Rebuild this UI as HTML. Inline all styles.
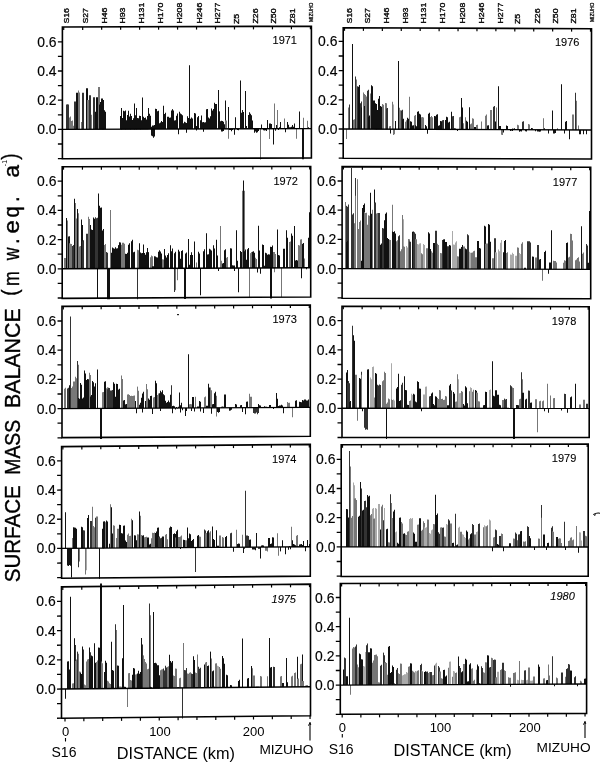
<!DOCTYPE html>
<html><head><meta charset="utf-8"><style>
html,body{margin:0;padding:0;background:#fff;width:600px;height:762px;overflow:hidden}
svg{display:block;will-change:transform}
text{font-family:"Liberation Sans",sans-serif}
</style></head><body>
<svg width="600" height="762" viewBox="0 0 600 762">
<rect width="600" height="762" fill="#fff"/>
<g transform="matrix(1,-0.00321,0,1,62.40,129.40)">
<rect x="3.6" y="-24.97" width="2" height="24.97" fill="#333"/>
<rect x="4.6" y="-24.82" width="2" height="24.82" fill="#333"/>
<rect x="6.6" y="-11.88" width="1" height="11.88" fill="#777"/>
<rect x="7.6" y="-12.92" width="1" height="12.92" fill="#777"/>
<rect x="7.6" y="-9.15" width="1" height="9.15" fill="#777"/>
<rect x="8.6" y="-8.4" width="1" height="8.4" fill="#777"/>
<rect x="9.6" y="-8.75" width="1" height="8.75" fill="#777"/>
<rect x="10.6" y="-3.58" width="1" height="3.58" fill="#777"/>
<rect x="11.6" y="-3.87" width="1" height="3.87" fill="#777"/>
<rect x="11.6" y="-27.74" width="2" height="27.74" fill="#333"/>
<rect x="13.6" y="-36.5" width="2" height="36.5" fill="#111"/>
<rect x="15.6" y="-38.8" width="1" height="38.8" fill="#777"/>
<rect x="16.6" y="-36.77" width="1" height="36.77" fill="#777"/>
<rect x="18.6" y="-7.3" width="1" height="7.3" fill="#777"/>
<rect x="19.6" y="-36.65" width="2" height="36.65" fill="#333"/>
<rect x="23.6" y="-41.17" width="2" height="41.17" fill="#111"/>
<rect x="24.6" y="-29.2" width="2" height="29.2" fill="#777"/>
<rect x="26.6" y="-34.02" width="2" height="34.02" fill="#333"/>
<rect x="28.6" y="-14.6" width="1" height="14.6" fill="#777"/>
<rect x="30.6" y="-18.98" width="1" height="18.98" fill="#111"/>
<rect x="30.6" y="-32.12" width="2" height="32.12" fill="#333"/>
<rect x="32.6" y="-17.52" width="1" height="17.52" fill="#111"/>
<rect x="33.6" y="-32.12" width="2" height="32.12" fill="#111"/>
<rect x="35.6" y="-42.34" width="2" height="42.34" fill="#777"/>
<rect x="36.6" y="-24.9" width="1" height="24.9" fill="#111"/>
<rect x="37.6" y="-27.26" width="1" height="27.26" fill="#111"/>
<rect x="38.6" y="-30.66" width="2" height="30.66" fill="#111"/>
<rect x="39.6" y="-29.2" width="2" height="29.2" fill="#111"/>
<rect x="40.6" y="-18.4" width="1" height="18.4" fill="#111"/>
<rect x="41.6" y="-19.08" width="1" height="19.08" fill="#111"/>
<rect x="42.6" y="-17.52" width="1" height="17.52" fill="#111"/>
<rect x="57.6" y="-13.31" width="1" height="13.31" fill="#111"/>
<rect x="58.6" y="-16.13" width="1" height="16.13" fill="#111"/>
<rect x="59.6" y="-11.1" width="1" height="11.1" fill="#111"/>
<rect x="60.6" y="-18.42" width="1" height="18.42" fill="#111"/>
<rect x="61.6" y="-17.97" width="1" height="17.97" fill="#111"/>
<rect x="62.6" y="-9.07" width="1" height="9.07" fill="#111"/>
<rect x="63.6" y="-9.02" width="1" height="9.02" fill="#111"/>
<rect x="64.6" y="-14.29" width="1" height="14.29" fill="#111"/>
<rect x="65.6" y="-18.36" width="1" height="18.36" fill="#111"/>
<rect x="66.6" y="-12.66" width="1" height="12.66" fill="#111"/>
<rect x="67.6" y="-10.97" width="1" height="10.97" fill="#111"/>
<rect x="68.6" y="-13.07" width="1" height="13.07" fill="#111"/>
<rect x="69.6" y="-9.06" width="1" height="9.06" fill="#111"/>
<rect x="70.6" y="-11.03" width="1" height="11.03" fill="#111"/>
<rect x="71.6" y="-13.24" width="1" height="13.24" fill="#111"/>
<rect x="72.6" y="-13.83" width="1" height="13.83" fill="#111"/>
<rect x="73.6" y="-11.14" width="1" height="11.14" fill="#111"/>
<rect x="74.6" y="-11.12" width="1" height="11.12" fill="#111"/>
<rect x="75.6" y="-11" width="1" height="11" fill="#111"/>
<rect x="76.6" y="-13.46" width="1" height="13.46" fill="#111"/>
<rect x="77.6" y="-11.72" width="1" height="11.72" fill="#111"/>
<rect x="78.6" y="-8.98" width="1" height="8.98" fill="#111"/>
<rect x="58.6" y="-21.17" width="1" height="21.17" fill="#111"/>
<rect x="62.6" y="-18.69" width="1" height="18.69" fill="#111"/>
<rect x="67.6" y="-15.33" width="1" height="15.33" fill="#111"/>
<rect x="71.6" y="-25.7" width="1" height="25.7" fill="#111"/>
<rect x="73.6" y="-21.17" width="1" height="21.17" fill="#111"/>
<rect x="77.6" y="-13.14" width="1" height="13.14" fill="#111"/>
<rect x="79.6" y="-31.54" width="1" height="31.54" fill="#111"/>
<rect x="80.6" y="-12.43" width="1" height="12.43" fill="#111"/>
<rect x="81.6" y="-11.2" width="1" height="11.2" fill="#111"/>
<rect x="82.6" y="-11.57" width="1" height="11.57" fill="#111"/>
<rect x="83.6" y="-9.57" width="1" height="9.57" fill="#111"/>
<rect x="84.6" y="-13.11" width="1" height="13.11" fill="#111"/>
<rect x="85.6" y="-21.02" width="1" height="21.02" fill="#111"/>
<rect x="86.6" y="-15.4" width="1" height="15.4" fill="#111"/>
<rect x="87.6" y="-13.46" width="1" height="13.46" fill="#111"/>
<rect x="88.6" y="-2.43" width="1" height="2.43" fill="#111"/>
<rect x="89.6" y="-3.57" width="1" height="3.57" fill="#111"/>
<rect x="90.6" y="-3.54" width="1" height="3.54" fill="#111"/>
<rect x="91.6" y="-4.19" width="1" height="4.19" fill="#111"/>
<rect x="92.6" y="-2.69" width="1" height="2.69" fill="#111"/>
<rect x="88.6" y="0" width="1" height="6.51" fill="#111"/>
<rect x="89.6" y="0" width="1" height="7.14" fill="#111"/>
<rect x="90.6" y="0" width="1" height="8.59" fill="#111"/>
<rect x="91.6" y="0" width="1" height="7.47" fill="#111"/>
<rect x="92.6" y="-20.27" width="1" height="20.27" fill="#111"/>
<rect x="93.6" y="-20.04" width="1" height="20.04" fill="#111"/>
<rect x="94.6" y="-17.85" width="1" height="17.85" fill="#111"/>
<rect x="95.6" y="-18.38" width="1" height="18.38" fill="#111"/>
<rect x="96.6" y="-5.94" width="1" height="5.94" fill="#111"/>
<rect x="97.6" y="-6.55" width="1" height="6.55" fill="#111"/>
<rect x="98.6" y="-8.17" width="1" height="8.17" fill="#111"/>
<rect x="99.6" y="-7.05" width="1" height="7.05" fill="#111"/>
<rect x="100.6" y="-23.36" width="1" height="23.36" fill="#111"/>
<rect x="101.6" y="-15.11" width="1" height="15.11" fill="#111"/>
<rect x="102.6" y="-16.2" width="1" height="16.2" fill="#111"/>
<rect x="104.6" y="-12.27" width="1" height="12.27" fill="#111"/>
<rect x="105.6" y="-12.19" width="1" height="12.19" fill="#111"/>
<rect x="106.6" y="-11.31" width="1" height="11.31" fill="#111"/>
<rect x="107.6" y="-11.5" width="1" height="11.5" fill="#111"/>
<rect x="108.6" y="-18.58" width="1" height="18.58" fill="#111"/>
<rect x="109.6" y="-19.92" width="1" height="19.92" fill="#111"/>
<rect x="110.6" y="-18.65" width="1" height="18.65" fill="#111"/>
<rect x="111.6" y="-8.45" width="1" height="8.45" fill="#111"/>
<rect x="112.6" y="-8.73" width="1" height="8.73" fill="#111"/>
<rect x="113.6" y="-7.39" width="1" height="7.39" fill="#111"/>
<rect x="113.6" y="-13.29" width="1" height="13.29" fill="#111"/>
<rect x="114.6" y="-15.5" width="1" height="15.5" fill="#111"/>
<rect x="115.6" y="0" width="1" height="5.26" fill="#111"/>
<rect x="116.6" y="-17.16" width="1" height="17.16" fill="#111"/>
<rect x="117.6" y="-15.56" width="1" height="15.56" fill="#111"/>
<rect x="118.6" y="-14.75" width="1" height="14.75" fill="#111"/>
<rect x="119.6" y="-13.84" width="1" height="13.84" fill="#111"/>
<rect x="120.6" y="-5.85" width="1" height="5.85" fill="#111"/>
<rect x="121.6" y="-7.25" width="1" height="7.25" fill="#111"/>
<rect x="122.6" y="-6.63" width="1" height="6.63" fill="#111"/>
<rect x="123.6" y="-5.96" width="1" height="5.96" fill="#111"/>
<rect x="123.6" y="0" width="1" height="3.65" fill="#111"/>
<rect x="124.6" y="-12.73" width="1" height="12.73" fill="#111"/>
<rect x="125.6" y="-10.9" width="1" height="10.9" fill="#111"/>
<rect x="126.6" y="-63.8" width="1" height="63.8" fill="#111"/>
<rect x="127.6" y="-10.26" width="1" height="10.26" fill="#111"/>
<rect x="128.6" y="-11.54" width="1" height="11.54" fill="#111"/>
<rect x="129.6" y="-10.45" width="1" height="10.45" fill="#111"/>
<rect x="131.6" y="-15.94" width="1" height="15.94" fill="#111"/>
<rect x="132.6" y="-15.39" width="1" height="15.39" fill="#111"/>
<rect x="133.6" y="-2.92" width="1" height="2.92" fill="#111"/>
<rect x="133.6" y="0" width="1" height="1.46" fill="#111"/>
<rect x="134.6" y="-11.82" width="1" height="11.82" fill="#111"/>
<rect x="135.6" y="-13.01" width="1" height="13.01" fill="#111"/>
<rect x="137.6" y="-8.79" width="1" height="8.79" fill="#111"/>
<rect x="138.6" y="-13.34" width="1" height="13.34" fill="#111"/>
<rect x="140.6" y="0" width="1" height="2.92" fill="#111"/>
<rect x="139.6" y="-6.78" width="1" height="6.78" fill="#111"/>
<rect x="140.6" y="-6.97" width="1" height="6.97" fill="#111"/>
<rect x="141.6" y="-6.54" width="1" height="6.54" fill="#111"/>
<rect x="142.6" y="-6.74" width="1" height="6.74" fill="#111"/>
<rect x="143.6" y="-19.79" width="1" height="19.79" fill="#111"/>
<rect x="144.6" y="-19.98" width="1" height="19.98" fill="#111"/>
<rect x="145.6" y="-11.46" width="1" height="11.46" fill="#111"/>
<rect x="146.6" y="-10.38" width="1" height="10.38" fill="#111"/>
<rect x="147.6" y="-12.76" width="1" height="12.76" fill="#111"/>
<rect x="148.6" y="-20.35" width="1" height="20.35" fill="#111"/>
<rect x="149.6" y="-18.51" width="1" height="18.51" fill="#111"/>
<rect x="150.6" y="-20.03" width="1" height="20.03" fill="#111"/>
<rect x="151.6" y="-26.15" width="1" height="26.15" fill="#111"/>
<rect x="152.6" y="-25.03" width="1" height="25.03" fill="#111"/>
<rect x="153.6" y="-24.93" width="1" height="24.93" fill="#111"/>
<rect x="155.6" y="-38.98" width="1" height="38.98" fill="#111"/>
<rect x="156.6" y="-17.52" width="1" height="17.52" fill="#111"/>
<rect x="157.6" y="-7.52" width="1" height="7.52" fill="#111"/>
<rect x="158.6" y="-8.02" width="1" height="8.02" fill="#111"/>
<rect x="159.6" y="-7.96" width="1" height="7.96" fill="#111"/>
<rect x="160.6" y="-7.06" width="1" height="7.06" fill="#111"/>
<rect x="161.6" y="-4.54" width="1" height="4.54" fill="#111"/>
<rect x="158.6" y="0" width="1" height="2.58" fill="#111"/>
<rect x="159.6" y="0" width="1" height="2.66" fill="#111"/>
<rect x="160.6" y="0" width="1" height="2.07" fill="#111"/>
<rect x="162.6" y="-28.47" width="1" height="28.47" fill="#111"/>
<rect x="162.6" y="-8.56" width="1" height="8.56" fill="#777"/>
<rect x="163.6" y="-8.47" width="1" height="8.47" fill="#777"/>
<rect x="165.6" y="0" width="1" height="9.78" fill="#777"/>
<rect x="165.6" y="-21.9" width="1" height="21.9" fill="#111"/>
<rect x="166.6" y="0" width="1" height="1.17" fill="#111"/>
<rect x="167.6" y="0" width="1" height="1.13" fill="#111"/>
<rect x="168.6" y="0" width="1" height="2.36" fill="#111"/>
<rect x="169.6" y="0" width="1" height="1.08" fill="#111"/>
<rect x="171.6" y="0" width="1" height="5.84" fill="#111"/>
<rect x="172.6" y="-11.68" width="1" height="11.68" fill="#111"/>
<rect x="173.6" y="-0.51" width="1" height="0.51" fill="#111"/>
<rect x="174.6" y="0" width="1" height="1.22" fill="#111"/>
<rect x="175.6" y="0" width="1" height="1.41" fill="#111"/>
<rect x="177.6" y="-48.33" width="1" height="48.33" fill="#111"/>
<rect x="178.6" y="-16.11" width="1" height="16.11" fill="#111"/>
<rect x="179.6" y="-18.71" width="1" height="18.71" fill="#111"/>
<rect x="180.6" y="-16.93" width="1" height="16.93" fill="#111"/>
<rect x="182.6" y="-37.81" width="1" height="37.81" fill="#111"/>
<rect x="183.6" y="-2.92" width="1" height="2.92" fill="#111"/>
<rect x="185.6" y="-13.75" width="1" height="13.75" fill="#111"/>
<rect x="186.6" y="-16.61" width="1" height="16.61" fill="#111"/>
<rect x="187.6" y="-15.05" width="1" height="15.05" fill="#111"/>
<rect x="188.6" y="-13.53" width="1" height="13.53" fill="#111"/>
<rect x="189.6" y="-8.18" width="1" height="8.18" fill="#111"/>
<rect x="191.6" y="0" width="1" height="3.91" fill="#111"/>
<rect x="192.6" y="0" width="1" height="2.84" fill="#111"/>
<rect x="193.6" y="0" width="1" height="3.89" fill="#111"/>
<rect x="194.6" y="0" width="1" height="3.58" fill="#111"/>
<rect x="195.6" y="0" width="1" height="2.3" fill="#111"/>
<rect x="197.6" y="0" width="1" height="30.66" fill="#777"/>
<rect x="198.6" y="-4.38" width="1" height="4.38" fill="#111"/>
<rect x="200.6" y="0" width="1" height="1.53" fill="#111"/>
<rect x="201.6" y="0" width="1" height="1.72" fill="#111"/>
<rect x="202.6" y="0" width="1" height="1.5" fill="#111"/>
<rect x="203.6" y="0" width="1" height="2.16" fill="#111"/>
<rect x="204.6" y="-8.76" width="1" height="8.76" fill="#111"/>
<rect x="206.6" y="0" width="1" height="10.22" fill="#777"/>
<rect x="206.6" y="-5.23" width="1" height="5.23" fill="#111"/>
<rect x="207.6" y="-5.3" width="1" height="5.3" fill="#111"/>
<rect x="208.6" y="-4.79" width="1" height="4.79" fill="#111"/>
<rect x="210.6" y="0" width="1" height="15.77" fill="#111"/>
<rect x="211.6" y="-25.26" width="1" height="25.26" fill="#777"/>
<rect x="212.6" y="0" width="1" height="2.13" fill="#111"/>
<rect x="213.6" y="-3.65" width="1" height="3.65" fill="#111"/>
<rect x="214.6" y="-0.8" width="1" height="0.8" fill="#111"/>
<rect x="215.6" y="0" width="1" height="1.39" fill="#111"/>
<rect x="216.6" y="-1.5" width="1" height="1.5" fill="#111"/>
<rect x="214.6" y="-18.69" width="1" height="18.69" fill="#777"/>
<rect x="217.6" y="-6.72" width="1" height="6.72" fill="#111"/>
<rect x="221.6" y="-10.22" width="1" height="10.22" fill="#777"/>
<rect x="222.6" y="0" width="1" height="3.65" fill="#111"/>
<rect x="224.6" y="-6.72" width="1" height="6.72" fill="#111"/>
<rect x="225.6" y="-3.85" width="1" height="3.85" fill="#111"/>
<rect x="226.6" y="-1.52" width="1" height="1.52" fill="#111"/>
<rect x="227.6" y="-1.51" width="1" height="1.51" fill="#111"/>
<rect x="228.6" y="-1.89" width="1" height="1.89" fill="#111"/>
<rect x="229.6" y="-3.56" width="1" height="3.56" fill="#111"/>
<rect x="230.6" y="-1.93" width="1" height="1.93" fill="#111"/>
<rect x="231.6" y="-3.52" width="1" height="3.52" fill="#111"/>
<rect x="229.6" y="-3.65" width="1" height="3.65" fill="#111"/>
<rect x="231.6" y="-5.11" width="1" height="5.11" fill="#111"/>
<rect x="233.6" y="0" width="1" height="10.22" fill="#777"/>
<rect x="236.6" y="-17.23" width="1" height="17.23" fill="#111"/>
<rect x="239.6" y="0" width="2" height="30.66" fill="#111"/>
<rect x="240.6" y="-10.8" width="1" height="10.8" fill="#777"/>
<rect x="244.6" y="-7.74" width="1" height="7.74" fill="#777"/>
<rect x="245.6" y="-1.46" width="1" height="1.46" fill="#111"/>
<line x1="0" y1="0" x2="249" y2="0" stroke="#000" stroke-width="1.4"/>
<line x1="-4.5" y1="29.2" x2="0" y2="29.2" stroke="#000" stroke-width="1.3"/>
<line x1="-4.5" y1="14.6" x2="0" y2="14.6" stroke="#000" stroke-width="1.3"/>
<line x1="-4.5" y1="0" x2="0" y2="0" stroke="#000" stroke-width="1.3"/>
<line x1="-4.5" y1="-14.6" x2="0" y2="-14.6" stroke="#000" stroke-width="1.3"/>
<line x1="-4.5" y1="-29.2" x2="0" y2="-29.2" stroke="#000" stroke-width="1.3"/>
<line x1="-4.5" y1="-43.8" x2="0" y2="-43.8" stroke="#000" stroke-width="1.3"/>
<line x1="-4.5" y1="-58.4" x2="0" y2="-58.4" stroke="#000" stroke-width="1.3"/>
<line x1="-4.5" y1="-73" x2="0" y2="-73" stroke="#000" stroke-width="1.3"/>
<line x1="-4.5" y1="-87.6" x2="0" y2="-87.6" stroke="#000" stroke-width="1.3"/>
</g>
<path d="M62.4,27 L311.4,26.2 L311.4,157.9 L62.4,158.8 Z" fill="none" stroke="#000" stroke-width="1.6" stroke-linejoin="miter"/>
<line x1="63.7" y1="27" x2="63.7" y2="30" stroke="#000" stroke-width="1.2"/>
<line x1="82.68" y1="26.93" x2="82.68" y2="29.93" stroke="#000" stroke-width="1.2"/>
<line x1="101.65" y1="26.87" x2="101.65" y2="29.87" stroke="#000" stroke-width="1.2"/>
<line x1="120.63" y1="26.81" x2="120.63" y2="29.81" stroke="#000" stroke-width="1.2"/>
<line x1="139.61" y1="26.75" x2="139.61" y2="29.75" stroke="#000" stroke-width="1.2"/>
<line x1="158.58" y1="26.69" x2="158.58" y2="29.69" stroke="#000" stroke-width="1.2"/>
<line x1="177.56" y1="26.63" x2="177.56" y2="29.63" stroke="#000" stroke-width="1.2"/>
<line x1="196.54" y1="26.57" x2="196.54" y2="29.57" stroke="#000" stroke-width="1.2"/>
<line x1="215.52" y1="26.51" x2="215.52" y2="29.51" stroke="#000" stroke-width="1.2"/>
<line x1="234.49" y1="26.45" x2="234.49" y2="29.45" stroke="#000" stroke-width="1.2"/>
<line x1="253.47" y1="26.39" x2="253.47" y2="29.39" stroke="#000" stroke-width="1.2"/>
<line x1="272.45" y1="26.33" x2="272.45" y2="29.33" stroke="#000" stroke-width="1.2"/>
<line x1="291.42" y1="26.26" x2="291.42" y2="29.26" stroke="#000" stroke-width="1.2"/>
<line x1="310.4" y1="26.2" x2="310.4" y2="29.2" stroke="#000" stroke-width="1.2"/>
<text transform="translate(56.6,134.4) scale(1.01,1)" font-size="13.8" text-anchor="end" font-family="Liberation Sans, sans-serif" stroke="#000" stroke-width="0.15">0.0</text>
<text transform="translate(56.6,105.2) scale(1.01,1)" font-size="13.8" text-anchor="end" font-family="Liberation Sans, sans-serif" stroke="#000" stroke-width="0.15">0.2</text>
<text transform="translate(56.6,76) scale(1.01,1)" font-size="13.8" text-anchor="end" font-family="Liberation Sans, sans-serif" stroke="#000" stroke-width="0.15">0.4</text>
<text transform="translate(56.6,46.8) scale(1.01,1)" font-size="13.8" text-anchor="end" font-family="Liberation Sans, sans-serif" stroke="#000" stroke-width="0.15">0.6</text>
<text x="297" y="44.2" font-size="11" text-anchor="end" font-family="Liberation Sans, sans-serif" stroke="#000" stroke-width="0.1">1971</text>
<g transform="matrix(1,-0.00402,0,1,62.20,268.80)">
<rect x="1.8" y="-10.71" width="1" height="10.71" fill="#777"/>
<rect x="2.8" y="-10.7" width="1" height="10.7" fill="#777"/>
<rect x="3.8" y="-50.81" width="1" height="50.81" fill="#111"/>
<rect x="4.8" y="-48.18" width="1" height="48.18" fill="#777"/>
<rect x="5.8" y="-32.37" width="1" height="32.37" fill="#111"/>
<rect x="6.8" y="-32.49" width="1" height="32.49" fill="#111"/>
<rect x="6.8" y="-25.56" width="1" height="25.56" fill="#777"/>
<rect x="7.8" y="-25.12" width="1" height="25.12" fill="#777"/>
<rect x="8.8" y="-24.83" width="1" height="24.83" fill="#777"/>
<rect x="9.8" y="-22.8" width="1" height="22.8" fill="#333"/>
<rect x="10.8" y="-23.67" width="1" height="23.67" fill="#333"/>
<rect x="11.8" y="-70.08" width="1" height="70.08" fill="#111"/>
<rect x="12.8" y="-65.7" width="1" height="65.7" fill="#777"/>
<rect x="12.8" y="-50.31" width="1" height="50.31" fill="#777"/>
<rect x="13.8" y="-50.22" width="1" height="50.22" fill="#777"/>
<rect x="14.8" y="-59.86" width="1" height="59.86" fill="#111"/>
<rect x="15.8" y="-55.48" width="1" height="55.48" fill="#777"/>
<rect x="16.8" y="-22.25" width="1" height="22.25" fill="#777"/>
<rect x="17.8" y="-22.84" width="1" height="22.84" fill="#777"/>
<rect x="18.8" y="-49.2" width="1" height="49.2" fill="#111"/>
<rect x="19.8" y="-43.8" width="1" height="43.8" fill="#111"/>
<rect x="19.8" y="-27.43" width="1" height="27.43" fill="#333"/>
<rect x="20.8" y="-28.39" width="1" height="28.39" fill="#333"/>
<rect x="23.8" y="-35.02" width="1" height="35.02" fill="#333"/>
<rect x="24.8" y="-34.89" width="1" height="34.89" fill="#333"/>
<rect x="25.8" y="-51.98" width="1" height="51.98" fill="#777"/>
<rect x="26.8" y="-49.64" width="1" height="49.64" fill="#777"/>
<rect x="27.8" y="-43.8" width="1" height="43.8" fill="#111"/>
<rect x="28.8" y="-39.28" width="1" height="39.28" fill="#111"/>
<rect x="29.8" y="-38.77" width="1" height="38.77" fill="#111"/>
<rect x="30.8" y="-51.28" width="1" height="51.28" fill="#111"/>
<rect x="31.8" y="-49.86" width="1" height="49.86" fill="#111"/>
<rect x="32.8" y="-49.81" width="1" height="49.81" fill="#111"/>
<rect x="32.8" y="-51.37" width="1" height="51.37" fill="#333"/>
<rect x="33.8" y="-50.37" width="1" height="50.37" fill="#333"/>
<rect x="34.8" y="-50.79" width="1" height="50.79" fill="#333"/>
<rect x="35.8" y="-75.04" width="1" height="75.04" fill="#111"/>
<rect x="35.8" y="-65.7" width="1" height="65.7" fill="#111"/>
<rect x="36.8" y="-62.83" width="1" height="62.83" fill="#111"/>
<rect x="37.8" y="-61.01" width="1" height="61.01" fill="#111"/>
<rect x="38.8" y="-61.18" width="1" height="61.18" fill="#111"/>
<rect x="38.8" y="-39.24" width="1" height="39.24" fill="#111"/>
<rect x="39.8" y="-38.09" width="1" height="38.09" fill="#111"/>
<rect x="40.8" y="-39.72" width="1" height="39.72" fill="#111"/>
<rect x="41.8" y="-23.7" width="1" height="23.7" fill="#777"/>
<rect x="42.8" y="-24.63" width="1" height="24.63" fill="#777"/>
<rect x="43.8" y="-16.64" width="1" height="16.64" fill="#333"/>
<rect x="44.8" y="-15.98" width="1" height="15.98" fill="#333"/>
<rect x="34.8" y="0" width="1" height="29.93" fill="#111"/>
<rect x="44.8" y="0" width="1" height="30.66" fill="#111"/>
<rect x="45.8" y="0" width="1" height="30.66" fill="#111"/>
<rect x="46.8" y="0" width="1" height="30.66" fill="#111"/>
<rect x="47.8" y="-58.69" width="1" height="58.69" fill="#777"/>
<rect x="48.8" y="-15.93" width="1" height="15.93" fill="#111"/>
<rect x="49.8" y="-21.12" width="1" height="21.12" fill="#111"/>
<rect x="50.8" y="-20.42" width="1" height="20.42" fill="#111"/>
<rect x="51.8" y="-19.96" width="1" height="19.96" fill="#111"/>
<rect x="52.8" y="-21.22" width="1" height="21.22" fill="#111"/>
<rect x="53.8" y="-20.17" width="1" height="20.17" fill="#111"/>
<rect x="54.8" y="-20.37" width="1" height="20.37" fill="#111"/>
<rect x="55.8" y="-23.45" width="1" height="23.45" fill="#111"/>
<rect x="56.8" y="-26.2" width="1" height="26.2" fill="#111"/>
<rect x="57.8" y="-26.11" width="1" height="26.11" fill="#111"/>
<rect x="58.8" y="-23.9" width="1" height="23.9" fill="#777"/>
<rect x="59.8" y="-25.89" width="1" height="25.89" fill="#777"/>
<rect x="60.8" y="-25.76" width="1" height="25.76" fill="#777"/>
<rect x="61.8" y="-24.91" width="1" height="24.91" fill="#777"/>
<rect x="62.8" y="-14.69" width="1" height="14.69" fill="#111"/>
<rect x="63.8" y="-14.57" width="1" height="14.57" fill="#111"/>
<rect x="64.8" y="-15.84" width="1" height="15.84" fill="#111"/>
<rect x="65.8" y="-23.87" width="1" height="23.87" fill="#111"/>
<rect x="66.8" y="-25.18" width="1" height="25.18" fill="#111"/>
<rect x="68.8" y="-27.31" width="1" height="27.31" fill="#111"/>
<rect x="69.8" y="-28.86" width="1" height="28.86" fill="#111"/>
<rect x="69.8" y="-18.02" width="1" height="18.02" fill="#111"/>
<rect x="70.8" y="-16.35" width="1" height="16.35" fill="#111"/>
<rect x="71.8" y="-16.76" width="1" height="16.76" fill="#111"/>
<rect x="74.8" y="0" width="1" height="30.66" fill="#333"/>
<rect x="74.8" y="-18.75" width="1" height="18.75" fill="#777"/>
<rect x="75.8" y="-18.17" width="1" height="18.17" fill="#777"/>
<rect x="76.8" y="-25.26" width="1" height="25.26" fill="#111"/>
<rect x="77.8" y="-16.02" width="1" height="16.02" fill="#111"/>
<rect x="78.8" y="-15.25" width="1" height="15.25" fill="#111"/>
<rect x="79.8" y="-15.55" width="1" height="15.55" fill="#111"/>
<rect x="80.8" y="-24.09" width="1" height="24.09" fill="#111"/>
<rect x="81.8" y="-15.59" width="1" height="15.59" fill="#111"/>
<rect x="82.8" y="-13.72" width="1" height="13.72" fill="#111"/>
<rect x="83.8" y="-16.32" width="1" height="16.32" fill="#111"/>
<rect x="84.8" y="-14.08" width="1" height="14.08" fill="#111"/>
<rect x="85.8" y="-16.33" width="1" height="16.33" fill="#111"/>
<rect x="84.8" y="-20.44" width="1" height="20.44" fill="#111"/>
<rect x="87.8" y="-11.12" width="1" height="11.12" fill="#777"/>
<rect x="88.8" y="-13.02" width="1" height="13.02" fill="#777"/>
<rect x="89.8" y="-12.28" width="1" height="12.28" fill="#777"/>
<rect x="89.8" y="-2.2" width="1" height="2.2" fill="#111"/>
<rect x="90.8" y="-2.22" width="1" height="2.22" fill="#111"/>
<rect x="91.8" y="-12.12" width="1" height="12.12" fill="#111"/>
<rect x="92.8" y="-11.94" width="1" height="11.94" fill="#111"/>
<rect x="93.8" y="-11.13" width="1" height="11.13" fill="#111"/>
<rect x="94.8" y="-10.83" width="1" height="10.83" fill="#111"/>
<rect x="95.8" y="-16.54" width="1" height="16.54" fill="#111"/>
<rect x="96.8" y="-18.15" width="1" height="18.15" fill="#111"/>
<rect x="97.8" y="-16.97" width="1" height="16.97" fill="#111"/>
<rect x="98.8" y="-14.89" width="1" height="14.89" fill="#111"/>
<rect x="99.8" y="-9.22" width="1" height="9.22" fill="#777"/>
<rect x="100.8" y="-9" width="1" height="9" fill="#777"/>
<rect x="101.8" y="-19.27" width="1" height="19.27" fill="#111"/>
<rect x="102.8" y="-12.87" width="1" height="12.87" fill="#111"/>
<rect x="103.8" y="-10.78" width="1" height="10.78" fill="#111"/>
<rect x="104.8" y="-12.39" width="1" height="12.39" fill="#111"/>
<rect x="104.8" y="-13.33" width="1" height="13.33" fill="#111"/>
<rect x="105.8" y="-15.24" width="1" height="15.24" fill="#111"/>
<rect x="107.8" y="-23.07" width="1" height="23.07" fill="#111"/>
<rect x="107.8" y="-17.26" width="1" height="17.26" fill="#111"/>
<rect x="108.8" y="-17.05" width="1" height="17.05" fill="#111"/>
<rect x="109.8" y="-19.89" width="1" height="19.89" fill="#111"/>
<rect x="111.8" y="0" width="1" height="23.65" fill="#333"/>
<rect x="112.8" y="0" width="1" height="21.9" fill="#777"/>
<rect x="111.8" y="-15" width="1" height="15" fill="#111"/>
<rect x="112.8" y="-16.58" width="1" height="16.58" fill="#111"/>
<rect x="114.8" y="0" width="1" height="11.97" fill="#777"/>
<rect x="115.8" y="-18.55" width="1" height="18.55" fill="#111"/>
<rect x="116.8" y="-16.77" width="1" height="16.77" fill="#111"/>
<rect x="117.8" y="-9.68" width="1" height="9.68" fill="#111"/>
<rect x="118.8" y="-12.62" width="1" height="12.62" fill="#111"/>
<rect x="118.8" y="-17.29" width="1" height="17.29" fill="#111"/>
<rect x="119.8" y="-18.15" width="1" height="18.15" fill="#111"/>
<rect x="121.8" y="0" width="2" height="30.66" fill="#111"/>
<rect x="122.8" y="-14.71" width="1" height="14.71" fill="#111"/>
<rect x="123.8" y="-15.82" width="1" height="15.82" fill="#111"/>
<rect x="125.8" y="-29.2" width="1" height="29.2" fill="#111"/>
<rect x="126.8" y="-3.42" width="1" height="3.42" fill="#111"/>
<rect x="127.8" y="-4.88" width="1" height="4.88" fill="#111"/>
<rect x="127.8" y="-13.38" width="1" height="13.38" fill="#111"/>
<rect x="128.8" y="-15.93" width="1" height="15.93" fill="#111"/>
<rect x="129.8" y="-13.21" width="1" height="13.21" fill="#111"/>
<rect x="131.8" y="-26.72" width="1" height="26.72" fill="#111"/>
<rect x="133.8" y="-5.84" width="1" height="5.84" fill="#777"/>
<rect x="135.8" y="-16.41" width="1" height="16.41" fill="#111"/>
<rect x="136.8" y="-14.65" width="1" height="14.65" fill="#111"/>
<rect x="137.8" y="0" width="1" height="27.01" fill="#111"/>
<rect x="140.8" y="-16.99" width="1" height="16.99" fill="#111"/>
<rect x="141.8" y="-19.03" width="1" height="19.03" fill="#111"/>
<rect x="143.8" y="-35.04" width="1" height="35.04" fill="#111"/>
<rect x="144.8" y="-13.83" width="1" height="13.83" fill="#111"/>
<rect x="145.8" y="-13.94" width="1" height="13.94" fill="#111"/>
<rect x="146.8" y="-19.54" width="1" height="19.54" fill="#111"/>
<rect x="147.8" y="-18.65" width="1" height="18.65" fill="#111"/>
<rect x="148.8" y="-17.65" width="1" height="17.65" fill="#111"/>
<rect x="150.8" y="-23.03" width="1" height="23.03" fill="#111"/>
<rect x="151.8" y="-19.6" width="1" height="19.6" fill="#111"/>
<rect x="153.8" y="-28.32" width="1" height="28.32" fill="#111"/>
<rect x="153.8" y="-11.79" width="1" height="11.79" fill="#111"/>
<rect x="154.8" y="-12.69" width="1" height="12.69" fill="#111"/>
<rect x="155.8" y="0" width="1" height="2.92" fill="#111"/>
<rect x="157.8" y="-42.19" width="1" height="42.19" fill="#777"/>
<rect x="158.8" y="-7.3" width="1" height="7.3" fill="#777"/>
<rect x="159.8" y="-4.72" width="1" height="4.72" fill="#111"/>
<rect x="160.8" y="-5.09" width="1" height="5.09" fill="#111"/>
<rect x="161.8" y="-17.95" width="1" height="17.95" fill="#111"/>
<rect x="162.8" y="-18.8" width="1" height="18.8" fill="#111"/>
<rect x="163.8" y="-10.28" width="1" height="10.28" fill="#777"/>
<rect x="164.8" y="-11.07" width="1" height="11.07" fill="#777"/>
<rect x="167.8" y="-19.76" width="1" height="19.76" fill="#111"/>
<rect x="168.8" y="-19.68" width="1" height="19.68" fill="#111"/>
<rect x="169.8" y="-2.78" width="1" height="2.78" fill="#111"/>
<rect x="170.8" y="-2.56" width="1" height="2.56" fill="#111"/>
<rect x="171.8" y="-2.72" width="1" height="2.72" fill="#111"/>
<rect x="171.8" y="0" width="1" height="2.92" fill="#111"/>
<rect x="173.8" y="-37.96" width="1" height="37.96" fill="#111"/>
<rect x="174.8" y="-7.3" width="1" height="7.3" fill="#111"/>
<rect x="175.8" y="0" width="1" height="24.09" fill="#111"/>
<rect x="177.8" y="-16.97" width="1" height="16.97" fill="#111"/>
<rect x="178.8" y="-16.19" width="1" height="16.19" fill="#111"/>
<rect x="179.8" y="-77.38" width="1" height="77.38" fill="#777"/>
<rect x="180.8" y="-87.6" width="1" height="87.6" fill="#111"/>
<rect x="181.8" y="-77.38" width="1" height="77.38" fill="#777"/>
<rect x="181.8" y="-16.88" width="1" height="16.88" fill="#111"/>
<rect x="182.8" y="-18.47" width="1" height="18.47" fill="#111"/>
<rect x="183.8" y="-8.22" width="1" height="8.22" fill="#111"/>
<rect x="184.8" y="-7.6" width="1" height="7.6" fill="#111"/>
<rect x="184.8" y="-18.83" width="1" height="18.83" fill="#111"/>
<rect x="185.8" y="-20.07" width="1" height="20.07" fill="#111"/>
<rect x="186.8" y="0" width="1" height="29.2" fill="#777"/>
<rect x="187.8" y="-14.92" width="1" height="14.92" fill="#777"/>
<rect x="188.8" y="-16.05" width="1" height="16.05" fill="#777"/>
<rect x="189.8" y="-16.32" width="1" height="16.32" fill="#111"/>
<rect x="190.8" y="-16.85" width="1" height="16.85" fill="#111"/>
<rect x="191.8" y="-15.23" width="1" height="15.23" fill="#111"/>
<rect x="192.8" y="-10.16" width="1" height="10.16" fill="#777"/>
<rect x="193.8" y="-9.14" width="1" height="9.14" fill="#777"/>
<rect x="194.8" y="0" width="1" height="4.38" fill="#111"/>
<rect x="195.8" y="-42.19" width="1" height="42.19" fill="#111"/>
<rect x="196.8" y="-17.52" width="1" height="17.52" fill="#111"/>
<rect x="197.8" y="0" width="1" height="5.84" fill="#111"/>
<rect x="199.8" y="-23.4" width="1" height="23.4" fill="#111"/>
<rect x="200.8" y="-22.94" width="1" height="22.94" fill="#111"/>
<rect x="200.8" y="-1.49" width="1" height="1.49" fill="#111"/>
<rect x="201.8" y="-2.27" width="1" height="2.27" fill="#111"/>
<rect x="202.8" y="-15.13" width="1" height="15.13" fill="#111"/>
<rect x="203.8" y="-14.82" width="1" height="14.82" fill="#111"/>
<rect x="204.8" y="-13.24" width="1" height="13.24" fill="#111"/>
<rect x="205.8" y="-13.61" width="1" height="13.61" fill="#111"/>
<rect x="206.8" y="-13.42" width="1" height="13.42" fill="#111"/>
<rect x="207.8" y="-21.3" width="1" height="21.3" fill="#111"/>
<rect x="208.8" y="-20.84" width="1" height="20.84" fill="#111"/>
<rect x="209.8" y="-22.57" width="1" height="22.57" fill="#111"/>
<rect x="207.8" y="0" width="2" height="30.66" fill="#111"/>
<rect x="210.8" y="-15.87" width="1" height="15.87" fill="#777"/>
<rect x="211.8" y="-16.04" width="1" height="16.04" fill="#777"/>
<rect x="212.8" y="-13.82" width="1" height="13.82" fill="#777"/>
<rect x="211.8" y="0" width="1" height="4.38" fill="#777"/>
<rect x="214.8" y="-38.4" width="1" height="38.4" fill="#111"/>
<rect x="215.8" y="-12.98" width="1" height="12.98" fill="#111"/>
<rect x="216.8" y="-12.41" width="1" height="12.41" fill="#111"/>
<rect x="218.8" y="0" width="1" height="29.2" fill="#777"/>
<rect x="220.8" y="-19.07" width="1" height="19.07" fill="#111"/>
<rect x="221.8" y="-19.16" width="1" height="19.16" fill="#111"/>
<rect x="223.8" y="-37.67" width="1" height="37.67" fill="#111"/>
<rect x="223.8" y="-30.54" width="1" height="30.54" fill="#111"/>
<rect x="224.8" y="-30.23" width="1" height="30.23" fill="#111"/>
<rect x="226.8" y="-25.79" width="1" height="25.79" fill="#777"/>
<rect x="227.8" y="-26.43" width="1" height="26.43" fill="#777"/>
<rect x="228.8" y="-34.35" width="1" height="34.35" fill="#111"/>
<rect x="229.8" y="-32.14" width="1" height="32.14" fill="#111"/>
<rect x="231.8" y="-41.76" width="1" height="41.76" fill="#111"/>
<rect x="232.8" y="-7.35" width="1" height="7.35" fill="#111"/>
<rect x="233.8" y="-7.9" width="1" height="7.9" fill="#111"/>
<rect x="234.8" y="-7.46" width="1" height="7.46" fill="#111"/>
<rect x="235.8" y="-8.36" width="1" height="8.36" fill="#111"/>
<rect x="235.8" y="-22.92" width="1" height="22.92" fill="#777"/>
<rect x="236.8" y="-22.32" width="1" height="22.32" fill="#777"/>
<rect x="237.8" y="-28.38" width="1" height="28.38" fill="#777"/>
<rect x="238.8" y="-28.55" width="1" height="28.55" fill="#777"/>
<rect x="238.8" y="0" width="1" height="10.51" fill="#111"/>
<rect x="239.8" y="-23.96" width="1" height="23.96" fill="#111"/>
<rect x="240.8" y="-24.8" width="1" height="24.8" fill="#111"/>
<rect x="241.8" y="-9.44" width="1" height="9.44" fill="#777"/>
<rect x="243.8" y="0" width="1" height="1.46" fill="#111"/>
<rect x="245.8" y="-30.1" width="1" height="30.1" fill="#111"/>
<rect x="246.8" y="-31.07" width="1" height="31.07" fill="#111"/>
<rect x="246.8" y="-55.48" width="1" height="55.48" fill="#111"/>
<line x1="0" y1="0" x2="248.5" y2="0" stroke="#000" stroke-width="1.4"/>
<line x1="-4.5" y1="29.2" x2="0" y2="29.2" stroke="#000" stroke-width="1.3"/>
<line x1="-4.5" y1="14.6" x2="0" y2="14.6" stroke="#000" stroke-width="1.3"/>
<line x1="-4.5" y1="0" x2="0" y2="0" stroke="#000" stroke-width="1.3"/>
<line x1="-4.5" y1="-14.6" x2="0" y2="-14.6" stroke="#000" stroke-width="1.3"/>
<line x1="-4.5" y1="-29.2" x2="0" y2="-29.2" stroke="#000" stroke-width="1.3"/>
<line x1="-4.5" y1="-43.8" x2="0" y2="-43.8" stroke="#000" stroke-width="1.3"/>
<line x1="-4.5" y1="-58.4" x2="0" y2="-58.4" stroke="#000" stroke-width="1.3"/>
<line x1="-4.5" y1="-73" x2="0" y2="-73" stroke="#000" stroke-width="1.3"/>
<line x1="-4.5" y1="-87.6" x2="0" y2="-87.6" stroke="#000" stroke-width="1.3"/>
</g>
<path d="M62.2,166.7 L310.7,166.5 L310.7,297 L62.2,298.4 Z" fill="none" stroke="#000" stroke-width="1.6" stroke-linejoin="miter"/>
<line x1="63.5" y1="166.7" x2="63.5" y2="169.7" stroke="#000" stroke-width="1.2"/>
<line x1="82.44" y1="166.68" x2="82.44" y2="169.68" stroke="#000" stroke-width="1.2"/>
<line x1="101.38" y1="166.67" x2="101.38" y2="169.67" stroke="#000" stroke-width="1.2"/>
<line x1="120.32" y1="166.65" x2="120.32" y2="169.65" stroke="#000" stroke-width="1.2"/>
<line x1="139.25" y1="166.64" x2="139.25" y2="169.64" stroke="#000" stroke-width="1.2"/>
<line x1="158.19" y1="166.62" x2="158.19" y2="169.62" stroke="#000" stroke-width="1.2"/>
<line x1="177.13" y1="166.61" x2="177.13" y2="169.61" stroke="#000" stroke-width="1.2"/>
<line x1="196.07" y1="166.59" x2="196.07" y2="169.59" stroke="#000" stroke-width="1.2"/>
<line x1="215.01" y1="166.58" x2="215.01" y2="169.58" stroke="#000" stroke-width="1.2"/>
<line x1="233.95" y1="166.56" x2="233.95" y2="169.56" stroke="#000" stroke-width="1.2"/>
<line x1="252.88" y1="166.55" x2="252.88" y2="169.55" stroke="#000" stroke-width="1.2"/>
<line x1="271.82" y1="166.53" x2="271.82" y2="169.53" stroke="#000" stroke-width="1.2"/>
<line x1="290.76" y1="166.52" x2="290.76" y2="169.52" stroke="#000" stroke-width="1.2"/>
<line x1="309.7" y1="166.5" x2="309.7" y2="169.5" stroke="#000" stroke-width="1.2"/>
<text transform="translate(56.4,273.8) scale(1.01,1)" font-size="13.8" text-anchor="end" font-family="Liberation Sans, sans-serif" stroke="#000" stroke-width="0.15">0.0</text>
<text transform="translate(56.4,244.6) scale(1.01,1)" font-size="13.8" text-anchor="end" font-family="Liberation Sans, sans-serif" stroke="#000" stroke-width="0.15">0.2</text>
<text transform="translate(56.4,215.4) scale(1.01,1)" font-size="13.8" text-anchor="end" font-family="Liberation Sans, sans-serif" stroke="#000" stroke-width="0.15">0.4</text>
<text transform="translate(56.4,186.2) scale(1.01,1)" font-size="13.8" text-anchor="end" font-family="Liberation Sans, sans-serif" stroke="#000" stroke-width="0.15">0.6</text>
<text x="297.9" y="184.8" font-size="11" text-anchor="end" font-family="Liberation Sans, sans-serif" stroke="#000" stroke-width="0.1">1972</text>
<g transform="matrix(1,-0.00483,0,1,62.00,408.60)">
<rect x="2" y="-19.81" width="1" height="19.81" fill="#777"/>
<rect x="3" y="-20.89" width="1" height="20.89" fill="#777"/>
<rect x="5" y="-20.06" width="1" height="20.06" fill="#333"/>
<rect x="6" y="-20.74" width="1" height="20.74" fill="#333"/>
<rect x="7" y="-23.27" width="1" height="23.27" fill="#111"/>
<rect x="8" y="-22.04" width="1" height="22.04" fill="#111"/>
<rect x="8" y="-91.98" width="1" height="91.98" fill="#333"/>
<rect x="9" y="-20.47" width="1" height="20.47" fill="#777"/>
<rect x="10" y="-22.15" width="1" height="22.15" fill="#777"/>
<rect x="11" y="-27.04" width="1" height="27.04" fill="#777"/>
<rect x="12" y="-26.96" width="1" height="26.96" fill="#777"/>
<rect x="13" y="-31.67" width="1" height="31.67" fill="#777"/>
<rect x="14" y="-30.37" width="1" height="30.37" fill="#777"/>
<rect x="15" y="-47.45" width="1" height="47.45" fill="#333"/>
<rect x="16" y="-43.8" width="1" height="43.8" fill="#777"/>
<rect x="16" y="-10.47" width="1" height="10.47" fill="#111"/>
<rect x="17" y="-9.73" width="1" height="9.73" fill="#111"/>
<rect x="18" y="-25.51" width="1" height="25.51" fill="#111"/>
<rect x="19" y="-23.87" width="1" height="23.87" fill="#111"/>
<rect x="20" y="-10.08" width="1" height="10.08" fill="#111"/>
<rect x="21" y="-11.1" width="1" height="11.1" fill="#111"/>
<rect x="22" y="-37.96" width="1" height="37.96" fill="#111"/>
<rect x="23" y="-35.04" width="1" height="35.04" fill="#111"/>
<rect x="24" y="-28.57" width="1" height="28.57" fill="#111"/>
<rect x="25" y="-29.53" width="1" height="29.53" fill="#111"/>
<rect x="26" y="-29.22" width="1" height="29.22" fill="#111"/>
<rect x="27" y="-35.77" width="1" height="35.77" fill="#777"/>
<rect x="28" y="-33.58" width="1" height="33.58" fill="#777"/>
<rect x="28" y="-11.84" width="1" height="11.84" fill="#111"/>
<rect x="29" y="-13.56" width="1" height="13.56" fill="#111"/>
<rect x="30" y="-27.41" width="1" height="27.41" fill="#111"/>
<rect x="31" y="-26.14" width="1" height="26.14" fill="#111"/>
<rect x="32" y="-22.02" width="1" height="22.02" fill="#111"/>
<rect x="33" y="-25.31" width="1" height="25.31" fill="#111"/>
<rect x="33" y="-9.45" width="1" height="9.45" fill="#111"/>
<rect x="35" y="-38.84" width="1" height="38.84" fill="#111"/>
<rect x="35" y="-29.2" width="1" height="29.2" fill="#111"/>
<rect x="38" y="0" width="2" height="30.66" fill="#111"/>
<rect x="40" y="-16.07" width="1" height="16.07" fill="#777"/>
<rect x="41" y="-16.4" width="1" height="16.4" fill="#777"/>
<rect x="42" y="-26.7" width="1" height="26.7" fill="#111"/>
<rect x="43" y="-27.24" width="1" height="27.24" fill="#111"/>
<rect x="44" y="-20.02" width="1" height="20.02" fill="#777"/>
<rect x="45" y="-21.08" width="1" height="21.08" fill="#777"/>
<rect x="45" y="-19.01" width="1" height="19.01" fill="#333"/>
<rect x="46" y="-20.66" width="1" height="20.66" fill="#333"/>
<rect x="47" y="-20.47" width="1" height="20.47" fill="#333"/>
<rect x="48" y="-17.85" width="1" height="17.85" fill="#333"/>
<rect x="49" y="-17.98" width="1" height="17.98" fill="#333"/>
<rect x="50" y="-18.25" width="1" height="18.25" fill="#333"/>
<rect x="51" y="-26.04" width="1" height="26.04" fill="#111"/>
<rect x="52" y="-24.57" width="1" height="24.57" fill="#111"/>
<rect x="53" y="-11.68" width="1" height="11.68" fill="#111"/>
<rect x="54" y="-10.92" width="1" height="10.92" fill="#111"/>
<rect x="54" y="-24.62" width="1" height="24.62" fill="#111"/>
<rect x="55" y="-24.32" width="1" height="24.32" fill="#111"/>
<rect x="56" y="-18.7" width="1" height="18.7" fill="#111"/>
<rect x="57" y="-19.48" width="1" height="19.48" fill="#111"/>
<rect x="59" y="-32.85" width="1" height="32.85" fill="#777"/>
<rect x="60" y="-29.2" width="1" height="29.2" fill="#777"/>
<rect x="61" y="-7.9" width="1" height="7.9" fill="#111"/>
<rect x="62" y="-8.22" width="1" height="8.22" fill="#111"/>
<rect x="63" y="-3.92" width="1" height="3.92" fill="#111"/>
<rect x="64" y="-4.28" width="1" height="4.28" fill="#111"/>
<rect x="65" y="-13.81" width="1" height="13.81" fill="#777"/>
<rect x="66" y="-14.14" width="1" height="14.14" fill="#777"/>
<rect x="67" y="-13.35" width="1" height="13.35" fill="#777"/>
<rect x="68" y="-12.08" width="1" height="12.08" fill="#777"/>
<rect x="68" y="-12.23" width="1" height="12.23" fill="#777"/>
<rect x="69" y="-12.47" width="1" height="12.47" fill="#777"/>
<rect x="70" y="-12.33" width="1" height="12.33" fill="#777"/>
<rect x="71" y="-12.51" width="1" height="12.51" fill="#777"/>
<rect x="72" y="-12.72" width="1" height="12.72" fill="#777"/>
<rect x="73" y="-7.3" width="1" height="7.3" fill="#111"/>
<rect x="74" y="0" width="1" height="4.96" fill="#111"/>
<rect x="75" y="-21.61" width="1" height="21.61" fill="#777"/>
<rect x="76" y="-17.52" width="1" height="17.52" fill="#777"/>
<rect x="77" y="-3.54" width="1" height="3.54" fill="#111"/>
<rect x="78" y="-5.35" width="1" height="5.35" fill="#111"/>
<rect x="79" y="-10.43" width="1" height="10.43" fill="#111"/>
<rect x="80" y="-9.59" width="1" height="9.59" fill="#111"/>
<rect x="80" y="0" width="1" height="4.38" fill="#111"/>
<rect x="80" y="-14.73" width="1" height="14.73" fill="#111"/>
<rect x="81" y="-16.35" width="1" height="16.35" fill="#111"/>
<rect x="83" y="-7.27" width="1" height="7.27" fill="#111"/>
<rect x="84" y="-4.64" width="1" height="4.64" fill="#111"/>
<rect x="84" y="-24.09" width="1" height="24.09" fill="#777"/>
<rect x="85" y="-18.98" width="1" height="18.98" fill="#777"/>
<rect x="86" y="-9.64" width="1" height="9.64" fill="#111"/>
<rect x="87" y="-8.5" width="1" height="8.5" fill="#111"/>
<rect x="88" y="-12.05" width="1" height="12.05" fill="#111"/>
<rect x="89" y="-12.41" width="1" height="12.41" fill="#111"/>
<rect x="90" y="0" width="1" height="5.84" fill="#111"/>
<rect x="91" y="-10.67" width="1" height="10.67" fill="#777"/>
<rect x="92" y="-11.12" width="1" height="11.12" fill="#777"/>
<rect x="93" y="-27.45" width="1" height="27.45" fill="#111"/>
<rect x="94" y="-24.82" width="1" height="24.82" fill="#111"/>
<rect x="95" y="-13.26" width="1" height="13.26" fill="#777"/>
<rect x="96" y="-14.75" width="1" height="14.75" fill="#777"/>
<rect x="97" y="-14.77" width="1" height="14.77" fill="#111"/>
<rect x="98" y="-17.33" width="1" height="17.33" fill="#111"/>
<rect x="99" y="-15.86" width="1" height="15.86" fill="#111"/>
<rect x="100" y="-17.94" width="1" height="17.94" fill="#111"/>
<rect x="98" y="0" width="1" height="2.92" fill="#111"/>
<rect x="101" y="-13.83" width="1" height="13.83" fill="#111"/>
<rect x="102" y="-12.79" width="1" height="12.79" fill="#111"/>
<rect x="103" y="-7.3" width="1" height="7.3" fill="#111"/>
<rect x="104" y="-5.28" width="1" height="5.28" fill="#111"/>
<rect x="105" y="-6.06" width="1" height="6.06" fill="#111"/>
<rect x="106" y="-7.59" width="1" height="7.59" fill="#111"/>
<rect x="107" y="-5.93" width="1" height="5.93" fill="#111"/>
<rect x="108" y="-13.43" width="1" height="13.43" fill="#111"/>
<rect x="109" y="-22.92" width="1" height="22.92" fill="#333"/>
<rect x="110" y="-2.06" width="1" height="2.06" fill="#111"/>
<rect x="111" y="-2.35" width="1" height="2.35" fill="#111"/>
<rect x="112" y="-1.69" width="1" height="1.69" fill="#111"/>
<rect x="110" y="0" width="1" height="5.26" fill="#111"/>
<rect x="113" y="0" width="1" height="1.34" fill="#111"/>
<rect x="114" y="-1.07" width="1" height="1.07" fill="#111"/>
<rect x="115" y="0" width="1" height="0.54" fill="#111"/>
<rect x="116" y="-1.34" width="1" height="1.34" fill="#111"/>
<rect x="117" y="-15.48" width="1" height="15.48" fill="#111"/>
<rect x="118" y="0" width="1" height="4.38" fill="#111"/>
<rect x="118" y="-2.77" width="1" height="2.77" fill="#111"/>
<rect x="119" y="-2.01" width="1" height="2.01" fill="#111"/>
<rect x="119" y="-5.25" width="1" height="5.25" fill="#111"/>
<rect x="120" y="0" width="1" height="2.19" fill="#111"/>
<rect x="123" y="0" width="1" height="7.88" fill="#111"/>
<rect x="124" y="0" width="1" height="2.92" fill="#111"/>
<rect x="126" y="-53.73" width="1" height="53.73" fill="#111"/>
<rect x="127" y="-3.68" width="1" height="3.68" fill="#777"/>
<rect x="128" y="-3.86" width="1" height="3.86" fill="#777"/>
<rect x="129" y="-3.79" width="1" height="3.79" fill="#777"/>
<rect x="129" y="0" width="1" height="2.92" fill="#111"/>
<rect x="130" y="-10.87" width="1" height="10.87" fill="#111"/>
<rect x="131" y="-10.94" width="1" height="10.94" fill="#111"/>
<rect x="132" y="0" width="1" height="3.65" fill="#111"/>
<rect x="133" y="-11.32" width="1" height="11.32" fill="#777"/>
<rect x="135" y="-1.47" width="1" height="1.47" fill="#111"/>
<rect x="136" y="-1.36" width="1" height="1.36" fill="#111"/>
<rect x="137" y="-6.89" width="1" height="6.89" fill="#111"/>
<rect x="138" y="-6.19" width="1" height="6.19" fill="#111"/>
<rect x="138" y="0" width="1" height="3.65" fill="#111"/>
<rect x="141" y="0" width="1" height="5.11" fill="#111"/>
<rect x="142" y="-10.57" width="1" height="10.57" fill="#777"/>
<rect x="143" y="-11.36" width="1" height="11.36" fill="#777"/>
<rect x="144" y="-2.22" width="1" height="2.22" fill="#111"/>
<rect x="145" y="-2.26" width="1" height="2.26" fill="#111"/>
<rect x="146" y="-1.48" width="1" height="1.48" fill="#111"/>
<rect x="146" y="-24.09" width="1" height="24.09" fill="#111"/>
<rect x="147" y="-20.44" width="1" height="20.44" fill="#111"/>
<rect x="148" y="-20.44" width="1" height="20.44" fill="#777"/>
<rect x="149" y="-17.52" width="1" height="17.52" fill="#777"/>
<rect x="149" y="0" width="1" height="5.84" fill="#111"/>
<rect x="150" y="-3.53" width="1" height="3.53" fill="#111"/>
<rect x="151" y="-3.77" width="1" height="3.77" fill="#111"/>
<rect x="152" y="-14.65" width="1" height="14.65" fill="#111"/>
<rect x="153" y="-16.22" width="1" height="16.22" fill="#111"/>
<rect x="154" y="-12.12" width="1" height="12.12" fill="#777"/>
<rect x="154" y="0" width="1" height="8.76" fill="#777"/>
<rect x="155" y="0" width="1" height="4.19" fill="#111"/>
<rect x="156" y="0" width="1" height="5.02" fill="#111"/>
<rect x="157" y="0" width="1" height="4.19" fill="#111"/>
<rect x="159" y="-1.07" width="1" height="1.07" fill="#111"/>
<rect x="160" y="-1.23" width="1" height="1.23" fill="#111"/>
<rect x="161" y="-0.99" width="1" height="0.99" fill="#111"/>
<rect x="162" y="-13.23" width="1" height="13.23" fill="#111"/>
<rect x="163" y="-13.3" width="1" height="13.3" fill="#111"/>
<rect x="167" y="0" width="1" height="2.89" fill="#111"/>
<rect x="168" y="0" width="1" height="2.83" fill="#111"/>
<rect x="169" y="0" width="1" height="1.93" fill="#111"/>
<rect x="173" y="-3.76" width="1" height="3.76" fill="#111"/>
<rect x="174" y="-3.14" width="1" height="3.14" fill="#111"/>
<rect x="178" y="-2.52" width="1" height="2.52" fill="#111"/>
<rect x="179" y="-2.62" width="1" height="2.62" fill="#111"/>
<rect x="180" y="0" width="1" height="4.38" fill="#111"/>
<rect x="183" y="0" width="1" height="6.57" fill="#111"/>
<rect x="184" y="-6.07" width="1" height="6.07" fill="#111"/>
<rect x="185" y="-6.11" width="1" height="6.11" fill="#111"/>
<rect x="187" y="-13.87" width="1" height="13.87" fill="#777"/>
<rect x="188" y="-10.86" width="1" height="10.86" fill="#777"/>
<rect x="189" y="-10.97" width="1" height="10.97" fill="#777"/>
<rect x="191" y="0" width="1" height="5.27" fill="#333"/>
<rect x="192" y="0" width="1" height="5.91" fill="#333"/>
<rect x="193" y="0" width="1" height="5.74" fill="#333"/>
<rect x="194" y="0" width="1" height="4.88" fill="#333"/>
<rect x="195" y="0" width="1" height="6.51" fill="#333"/>
<rect x="196" y="0" width="1" height="5.32" fill="#333"/>
<rect x="196" y="-3.61" width="1" height="3.61" fill="#111"/>
<rect x="197" y="-2.37" width="1" height="2.37" fill="#111"/>
<rect x="198" y="-2.11" width="1" height="2.11" fill="#111"/>
<rect x="202" y="-1.32" width="1" height="1.32" fill="#111"/>
<rect x="203" y="-0.9" width="1" height="0.9" fill="#111"/>
<rect x="204" y="-0.87" width="1" height="0.87" fill="#111"/>
<rect x="207" y="-2.51" width="1" height="2.51" fill="#111"/>
<rect x="208" y="-2.7" width="1" height="2.7" fill="#111"/>
<rect x="211" y="0" width="1" height="1.46" fill="#111"/>
<rect x="214" y="-14.6" width="1" height="14.6" fill="#111"/>
<rect x="215" y="-8.76" width="1" height="8.76" fill="#111"/>
<rect x="216" y="-1.61" width="1" height="1.61" fill="#111"/>
<rect x="217" y="-1.93" width="1" height="1.93" fill="#111"/>
<rect x="218" y="-1.95" width="1" height="1.95" fill="#111"/>
<rect x="219" y="-2.68" width="1" height="2.68" fill="#111"/>
<rect x="220" y="-2.1" width="1" height="2.1" fill="#111"/>
<rect x="221" y="0" width="1" height="5.84" fill="#111"/>
<rect x="225" y="-5.63" width="1" height="5.63" fill="#777"/>
<rect x="226" y="-4.63" width="1" height="4.63" fill="#777"/>
<rect x="227" y="-4.87" width="1" height="4.87" fill="#777"/>
<rect x="230" y="0" width="1" height="9.78" fill="#777"/>
<rect x="233" y="-6.79" width="1" height="6.79" fill="#111"/>
<rect x="234" y="-7.13" width="1" height="7.13" fill="#111"/>
<rect x="237" y="-5.77" width="1" height="5.77" fill="#111"/>
<rect x="238" y="-5.44" width="1" height="5.44" fill="#111"/>
<rect x="239" y="-5.29" width="1" height="5.29" fill="#111"/>
<rect x="240" y="-7.42" width="1" height="7.42" fill="#111"/>
<rect x="241" y="-6.88" width="1" height="6.88" fill="#111"/>
<rect x="242" y="-7.87" width="1" height="7.87" fill="#111"/>
<rect x="243" y="-7.92" width="1" height="7.92" fill="#111"/>
<rect x="244" y="-6.86" width="1" height="6.86" fill="#111"/>
<rect x="245" y="-7.02" width="1" height="7.02" fill="#111"/>
<rect x="246" y="-7.87" width="1" height="7.87" fill="#111"/>
<line x1="0" y1="0" x2="248.3" y2="0" stroke="#000" stroke-width="1.4"/>
<line x1="-4.5" y1="29.2" x2="0" y2="29.2" stroke="#000" stroke-width="1.3"/>
<line x1="-4.5" y1="14.6" x2="0" y2="14.6" stroke="#000" stroke-width="1.3"/>
<line x1="-4.5" y1="0" x2="0" y2="0" stroke="#000" stroke-width="1.3"/>
<line x1="-4.5" y1="-14.6" x2="0" y2="-14.6" stroke="#000" stroke-width="1.3"/>
<line x1="-4.5" y1="-29.2" x2="0" y2="-29.2" stroke="#000" stroke-width="1.3"/>
<line x1="-4.5" y1="-43.8" x2="0" y2="-43.8" stroke="#000" stroke-width="1.3"/>
<line x1="-4.5" y1="-58.4" x2="0" y2="-58.4" stroke="#000" stroke-width="1.3"/>
<line x1="-4.5" y1="-73" x2="0" y2="-73" stroke="#000" stroke-width="1.3"/>
<line x1="-4.5" y1="-87.6" x2="0" y2="-87.6" stroke="#000" stroke-width="1.3"/>
</g>
<path d="M62,306.4 L310.3,305 L310.3,436.3 L62,437.6 Z" fill="none" stroke="#000" stroke-width="1.6" stroke-linejoin="miter"/>
<line x1="63.3" y1="306.39" x2="63.3" y2="309.39" stroke="#000" stroke-width="1.2"/>
<line x1="82.22" y1="306.29" x2="82.22" y2="309.29" stroke="#000" stroke-width="1.2"/>
<line x1="101.15" y1="306.18" x2="101.15" y2="309.18" stroke="#000" stroke-width="1.2"/>
<line x1="120.07" y1="306.07" x2="120.07" y2="309.07" stroke="#000" stroke-width="1.2"/>
<line x1="138.99" y1="305.97" x2="138.99" y2="308.97" stroke="#000" stroke-width="1.2"/>
<line x1="157.92" y1="305.86" x2="157.92" y2="308.86" stroke="#000" stroke-width="1.2"/>
<line x1="176.84" y1="305.75" x2="176.84" y2="308.75" stroke="#000" stroke-width="1.2"/>
<line x1="195.76" y1="305.65" x2="195.76" y2="308.65" stroke="#000" stroke-width="1.2"/>
<line x1="214.68" y1="305.54" x2="214.68" y2="308.54" stroke="#000" stroke-width="1.2"/>
<line x1="233.61" y1="305.43" x2="233.61" y2="308.43" stroke="#000" stroke-width="1.2"/>
<line x1="252.53" y1="305.33" x2="252.53" y2="308.33" stroke="#000" stroke-width="1.2"/>
<line x1="271.45" y1="305.22" x2="271.45" y2="308.22" stroke="#000" stroke-width="1.2"/>
<line x1="290.38" y1="305.11" x2="290.38" y2="308.11" stroke="#000" stroke-width="1.2"/>
<line x1="309.3" y1="305.01" x2="309.3" y2="308.01" stroke="#000" stroke-width="1.2"/>
<text transform="translate(56.2,413.6) scale(1.01,1)" font-size="13.8" text-anchor="end" font-family="Liberation Sans, sans-serif" stroke="#000" stroke-width="0.15">0.0</text>
<text transform="translate(56.2,384.4) scale(1.01,1)" font-size="13.8" text-anchor="end" font-family="Liberation Sans, sans-serif" stroke="#000" stroke-width="0.15">0.2</text>
<text transform="translate(56.2,355.2) scale(1.01,1)" font-size="13.8" text-anchor="end" font-family="Liberation Sans, sans-serif" stroke="#000" stroke-width="0.15">0.4</text>
<text transform="translate(56.2,326) scale(1.01,1)" font-size="13.8" text-anchor="end" font-family="Liberation Sans, sans-serif" stroke="#000" stroke-width="0.15">0.6</text>
<text x="296.9" y="323.3" font-size="11" text-anchor="end" font-family="Liberation Sans, sans-serif" stroke="#000" stroke-width="0.1">1973</text>
<g transform="matrix(1,-0.00643,0,1,61.60,548.40)">
<rect x="3.4" y="-36.21" width="1" height="36.21" fill="#111"/>
<rect x="5.4" y="0" width="1" height="17.17" fill="#111"/>
<rect x="6.4" y="0" width="1" height="17.61" fill="#111"/>
<rect x="7.4" y="0" width="1" height="16.63" fill="#111"/>
<rect x="8.4" y="0" width="1" height="17.44" fill="#111"/>
<rect x="9.4" y="0" width="1" height="29.2" fill="#111"/>
<rect x="10.4" y="-10.34" width="1" height="10.34" fill="#777"/>
<rect x="11.4" y="-10.92" width="1" height="10.92" fill="#777"/>
<rect x="11.4" y="-20.99" width="1" height="20.99" fill="#111"/>
<rect x="12.4" y="-20.73" width="1" height="20.73" fill="#111"/>
<rect x="13.4" y="-20.66" width="1" height="20.66" fill="#111"/>
<rect x="14.4" y="-19.47" width="1" height="19.47" fill="#111"/>
<rect x="16.4" y="0" width="1" height="18.98" fill="#333"/>
<rect x="17.4" y="0" width="1" height="13.14" fill="#777"/>
<rect x="19.4" y="-21.54" width="1" height="21.54" fill="#111"/>
<rect x="20.4" y="-21.01" width="1" height="21.01" fill="#111"/>
<rect x="21.4" y="-18.02" width="1" height="18.02" fill="#333"/>
<rect x="22.4" y="-17.83" width="1" height="17.83" fill="#333"/>
<rect x="23.4" y="0" width="1" height="26.28" fill="#777"/>
<rect x="24.4" y="0" width="1" height="21.9" fill="#aaa"/>
<rect x="25.4" y="-30.14" width="1" height="30.14" fill="#111"/>
<rect x="26.4" y="-33.26" width="1" height="33.26" fill="#111"/>
<rect x="28.4" y="-27.24" width="1" height="27.24" fill="#333"/>
<rect x="29.4" y="-27.18" width="1" height="27.18" fill="#333"/>
<rect x="30.4" y="-41.46" width="1" height="41.46" fill="#777"/>
<rect x="31.4" y="-22.31" width="1" height="22.31" fill="#777"/>
<rect x="32.4" y="-20.89" width="1" height="20.89" fill="#777"/>
<rect x="33.4" y="-30.33" width="1" height="30.33" fill="#333"/>
<rect x="34.4" y="-31.49" width="1" height="31.49" fill="#333"/>
<rect x="34.4" y="-31.34" width="1" height="31.34" fill="#777"/>
<rect x="35.4" y="-31.7" width="1" height="31.7" fill="#777"/>
<rect x="37.4" y="0" width="1" height="30.66" fill="#111"/>
<rect x="40.4" y="-19.32" width="1" height="19.32" fill="#111"/>
<rect x="41.4" y="-17.7" width="1" height="17.7" fill="#111"/>
<rect x="41.4" y="-26.59" width="1" height="26.59" fill="#111"/>
<rect x="42.4" y="-26.78" width="1" height="26.78" fill="#111"/>
<rect x="43.4" y="-25.93" width="1" height="25.93" fill="#777"/>
<rect x="44.4" y="-25.21" width="1" height="25.21" fill="#777"/>
<rect x="44.4" y="-27.66" width="1" height="27.66" fill="#111"/>
<rect x="45.4" y="-26.54" width="1" height="26.54" fill="#111"/>
<rect x="47.4" y="-4.38" width="1" height="4.38" fill="#111"/>
<rect x="48.4" y="-43.8" width="1" height="43.8" fill="#777"/>
<rect x="49.4" y="-40.88" width="1" height="40.88" fill="#111"/>
<rect x="50.4" y="-14.5" width="1" height="14.5" fill="#111"/>
<rect x="51.4" y="-14.4" width="1" height="14.4" fill="#111"/>
<rect x="51.4" y="-22.86" width="1" height="22.86" fill="#777"/>
<rect x="52.4" y="-22.43" width="1" height="22.43" fill="#777"/>
<rect x="54.4" y="-10.09" width="1" height="10.09" fill="#777"/>
<rect x="55.4" y="-9.6" width="1" height="9.6" fill="#777"/>
<rect x="55.4" y="-19.32" width="1" height="19.32" fill="#777"/>
<rect x="56.4" y="-19.25" width="1" height="19.25" fill="#777"/>
<rect x="57.4" y="-23.24" width="1" height="23.24" fill="#111"/>
<rect x="58.4" y="-22.99" width="1" height="22.99" fill="#111"/>
<rect x="59.4" y="-14.89" width="1" height="14.89" fill="#111"/>
<rect x="60.4" y="-14.4" width="1" height="14.4" fill="#111"/>
<rect x="61.4" y="-22.25" width="1" height="22.25" fill="#111"/>
<rect x="62.4" y="-22.57" width="1" height="22.57" fill="#111"/>
<rect x="63.4" y="-7.5" width="1" height="7.5" fill="#111"/>
<rect x="64.4" y="-5.93" width="1" height="5.93" fill="#111"/>
<rect x="65.4" y="-13.24" width="1" height="13.24" fill="#777"/>
<rect x="66.4" y="-14.51" width="1" height="14.51" fill="#777"/>
<rect x="67.4" y="-12.01" width="1" height="12.01" fill="#777"/>
<rect x="68.4" y="-12.3" width="1" height="12.3" fill="#777"/>
<rect x="69.4" y="-29.2" width="1" height="29.2" fill="#777"/>
<rect x="70.4" y="-27.74" width="1" height="27.74" fill="#111"/>
<rect x="72.4" y="-12.64" width="1" height="12.64" fill="#111"/>
<rect x="73.4" y="-12.38" width="1" height="12.38" fill="#111"/>
<rect x="73.4" y="-8.76" width="1" height="8.76" fill="#111"/>
<rect x="74.4" y="-7.59" width="1" height="7.59" fill="#111"/>
<rect x="75.4" y="-13.74" width="1" height="13.74" fill="#777"/>
<rect x="76.4" y="-13.44" width="1" height="13.44" fill="#777"/>
<rect x="77.4" y="-36.5" width="1" height="36.5" fill="#111"/>
<rect x="78.4" y="-32.12" width="1" height="32.12" fill="#777"/>
<rect x="79.4" y="-12.97" width="1" height="12.97" fill="#777"/>
<rect x="80.4" y="-12.24" width="1" height="12.24" fill="#777"/>
<rect x="80.4" y="-12.1" width="1" height="12.1" fill="#111"/>
<rect x="81.4" y="-12.55" width="1" height="12.55" fill="#111"/>
<rect x="82.4" y="-10.55" width="1" height="10.55" fill="#777"/>
<rect x="83.4" y="-10.79" width="1" height="10.79" fill="#777"/>
<rect x="84.4" y="-11.14" width="1" height="11.14" fill="#777"/>
<rect x="85.4" y="-10.4" width="1" height="10.4" fill="#111"/>
<rect x="86.4" y="-10.33" width="1" height="10.33" fill="#111"/>
<rect x="87.4" y="-3.25" width="1" height="3.25" fill="#111"/>
<rect x="88.4" y="-4.04" width="1" height="4.04" fill="#111"/>
<rect x="89.4" y="-9.66" width="1" height="9.66" fill="#777"/>
<rect x="90.4" y="-9.11" width="1" height="9.11" fill="#777"/>
<rect x="90.4" y="-15.08" width="1" height="15.08" fill="#777"/>
<rect x="91.4" y="-14.86" width="1" height="14.86" fill="#777"/>
<rect x="92.4" y="-15.27" width="1" height="15.27" fill="#777"/>
<rect x="93.4" y="-14.7" width="1" height="14.7" fill="#111"/>
<rect x="94.4" y="-16.23" width="1" height="16.23" fill="#111"/>
<rect x="95.4" y="-20.14" width="1" height="20.14" fill="#111"/>
<rect x="96.4" y="-20.31" width="1" height="20.31" fill="#111"/>
<rect x="96.4" y="-10.78" width="1" height="10.78" fill="#333"/>
<rect x="97.4" y="-11.17" width="1" height="11.17" fill="#333"/>
<rect x="98.4" y="-9.52" width="1" height="9.52" fill="#333"/>
<rect x="99.4" y="-10" width="1" height="10" fill="#333"/>
<rect x="100.4" y="-11.35" width="1" height="11.35" fill="#111"/>
<rect x="101.4" y="-11.13" width="1" height="11.13" fill="#111"/>
<rect x="103.4" y="-13.01" width="1" height="13.01" fill="#777"/>
<rect x="104.4" y="-13.79" width="1" height="13.79" fill="#777"/>
<rect x="104.4" y="-8.21" width="1" height="8.21" fill="#777"/>
<rect x="105.4" y="-8.49" width="1" height="8.49" fill="#777"/>
<rect x="107.4" y="-19.84" width="1" height="19.84" fill="#333"/>
<rect x="108.4" y="-19.54" width="1" height="19.54" fill="#333"/>
<rect x="108.4" y="-21.22" width="1" height="21.22" fill="#111"/>
<rect x="109.4" y="-20.68" width="1" height="20.68" fill="#111"/>
<rect x="111.4" y="-13.7" width="1" height="13.7" fill="#111"/>
<rect x="112.4" y="-14.54" width="1" height="14.54" fill="#111"/>
<rect x="113.4" y="-13.62" width="1" height="13.62" fill="#111"/>
<rect x="113.4" y="-10.23" width="1" height="10.23" fill="#777"/>
<rect x="114.4" y="-10.27" width="1" height="10.27" fill="#777"/>
<rect x="114.4" y="-16.48" width="1" height="16.48" fill="#111"/>
<rect x="115.4" y="-18.01" width="1" height="18.01" fill="#111"/>
<rect x="116.4" y="-10.64" width="1" height="10.64" fill="#777"/>
<rect x="117.4" y="-10.56" width="1" height="10.56" fill="#777"/>
<rect x="118.4" y="0" width="1" height="1.46" fill="#111"/>
<rect x="118.4" y="-11.06" width="1" height="11.06" fill="#777"/>
<rect x="119.4" y="-12.1" width="1" height="12.1" fill="#777"/>
<rect x="121.4" y="-7.92" width="1" height="7.92" fill="#111"/>
<rect x="122.4" y="-7.6" width="1" height="7.6" fill="#111"/>
<rect x="123.4" y="-7.39" width="1" height="7.39" fill="#777"/>
<rect x="124.4" y="-7.38" width="1" height="7.38" fill="#777"/>
<rect x="125.4" y="-20.15" width="1" height="20.15" fill="#111"/>
<rect x="126.4" y="-9.25" width="1" height="9.25" fill="#111"/>
<rect x="127.4" y="-14.13" width="1" height="14.13" fill="#111"/>
<rect x="128.4" y="-13.36" width="1" height="13.36" fill="#111"/>
<rect x="128.4" y="-5.9" width="1" height="5.9" fill="#111"/>
<rect x="129.4" y="-6.56" width="1" height="6.56" fill="#111"/>
<rect x="130.4" y="-7.59" width="1" height="7.59" fill="#111"/>
<rect x="131.4" y="-8.47" width="1" height="8.47" fill="#111"/>
<rect x="133.4" y="0" width="1" height="24.53" fill="#333"/>
<rect x="135.4" y="-11.89" width="1" height="11.89" fill="#111"/>
<rect x="136.4" y="-12.61" width="1" height="12.61" fill="#111"/>
<rect x="137.4" y="-11.12" width="1" height="11.12" fill="#777"/>
<rect x="138.4" y="-10.7" width="1" height="10.7" fill="#777"/>
<rect x="142.4" y="-17.93" width="1" height="17.93" fill="#333"/>
<rect x="143.4" y="-16.97" width="1" height="16.97" fill="#333"/>
<rect x="143.4" y="-14.26" width="1" height="14.26" fill="#777"/>
<rect x="144.4" y="-14.53" width="1" height="14.53" fill="#777"/>
<rect x="145.4" y="-16.15" width="1" height="16.15" fill="#111"/>
<rect x="146.4" y="-17.11" width="1" height="17.11" fill="#111"/>
<rect x="147.4" y="-15.04" width="1" height="15.04" fill="#777"/>
<rect x="148.4" y="-16.16" width="1" height="16.16" fill="#777"/>
<rect x="150.4" y="-20.88" width="1" height="20.88" fill="#111"/>
<rect x="150.4" y="-9.24" width="1" height="9.24" fill="#111"/>
<rect x="151.4" y="-8.46" width="1" height="8.46" fill="#111"/>
<rect x="152.4" y="-7.37" width="1" height="7.37" fill="#111"/>
<rect x="154.4" y="-17.23" width="1" height="17.23" fill="#111"/>
<rect x="155.4" y="-1.65" width="1" height="1.65" fill="#111"/>
<rect x="156.4" y="-1.64" width="1" height="1.64" fill="#111"/>
<rect x="157.4" y="-11.95" width="1" height="11.95" fill="#777"/>
<rect x="158.4" y="-11.98" width="1" height="11.98" fill="#777"/>
<rect x="160.4" y="-10.38" width="1" height="10.38" fill="#777"/>
<rect x="161.4" y="-9.63" width="1" height="9.63" fill="#777"/>
<rect x="163.4" y="-10.28" width="1" height="10.28" fill="#111"/>
<rect x="164.4" y="-11.3" width="1" height="11.3" fill="#111"/>
<rect x="168.4" y="-13.97" width="1" height="13.97" fill="#333"/>
<rect x="169.4" y="-14.59" width="1" height="14.59" fill="#333"/>
<rect x="171.4" y="0" width="1" height="4.38" fill="#111"/>
<rect x="174.4" y="-17.52" width="1" height="17.52" fill="#777"/>
<rect x="175.4" y="-3.27" width="1" height="3.27" fill="#111"/>
<rect x="176.4" y="-3.71" width="1" height="3.71" fill="#111"/>
<rect x="177.4" y="-3.49" width="1" height="3.49" fill="#111"/>
<rect x="180.4" y="-12.56" width="1" height="12.56" fill="#777"/>
<rect x="181.4" y="0" width="1" height="5.84" fill="#111"/>
<rect x="182.4" y="0" width="1" height="1.46" fill="#111"/>
<rect x="183.4" y="-56.36" width="1" height="56.36" fill="#333"/>
<rect x="184.4" y="-11.72" width="1" height="11.72" fill="#333"/>
<rect x="185.4" y="-11.63" width="1" height="11.63" fill="#333"/>
<rect x="186.4" y="-11.16" width="1" height="11.16" fill="#333"/>
<rect x="187.4" y="-7.48" width="1" height="7.48" fill="#111"/>
<rect x="188.4" y="-7.7" width="1" height="7.7" fill="#111"/>
<rect x="190.4" y="0" width="1" height="2.36" fill="#111"/>
<rect x="191.4" y="0" width="1" height="2.32" fill="#111"/>
<rect x="192.4" y="0" width="1" height="2.29" fill="#111"/>
<rect x="193.4" y="0" width="1" height="3.06" fill="#111"/>
<rect x="194.4" y="-14.16" width="1" height="14.16" fill="#111"/>
<rect x="196.4" y="0" width="1" height="1.71" fill="#111"/>
<rect x="197.4" y="0" width="1" height="1.61" fill="#111"/>
<rect x="198.4" y="0" width="1" height="11.39" fill="#111"/>
<rect x="199.4" y="-1.67" width="1" height="1.67" fill="#111"/>
<rect x="200.4" y="-1.92" width="1" height="1.92" fill="#111"/>
<rect x="201.4" y="-1.5" width="1" height="1.5" fill="#111"/>
<rect x="203.4" y="0" width="1" height="3.68" fill="#777"/>
<rect x="204.4" y="0" width="1" height="3.61" fill="#777"/>
<rect x="205.4" y="0" width="1" height="4.52" fill="#777"/>
<rect x="206.4" y="-9.05" width="1" height="9.05" fill="#111"/>
<rect x="207.4" y="-9.12" width="1" height="9.12" fill="#111"/>
<rect x="208.4" y="-2.97" width="1" height="2.97" fill="#111"/>
<rect x="209.4" y="-3.63" width="1" height="3.63" fill="#111"/>
<rect x="210.4" y="-9.88" width="1" height="9.88" fill="#111"/>
<rect x="211.4" y="-9.54" width="1" height="9.54" fill="#111"/>
<rect x="215.4" y="-13.87" width="1" height="13.87" fill="#777"/>
<rect x="216.4" y="0" width="1" height="8.76" fill="#777"/>
<rect x="218.4" y="0" width="1" height="4.38" fill="#111"/>
<rect x="220.4" y="-6.72" width="1" height="6.72" fill="#111"/>
<rect x="223.4" y="0" width="1" height="7.3" fill="#111"/>
<rect x="226.4" y="0" width="1" height="2.72" fill="#111"/>
<rect x="227.4" y="-1.02" width="1" height="1.02" fill="#111"/>
<rect x="228.4" y="0" width="1" height="2.36" fill="#111"/>
<rect x="229.4" y="-20.15" width="1" height="20.15" fill="#777"/>
<rect x="230.4" y="-6.72" width="1" height="6.72" fill="#111"/>
<rect x="231.4" y="-2.87" width="1" height="2.87" fill="#111"/>
<rect x="232.4" y="-2.43" width="1" height="2.43" fill="#111"/>
<rect x="233.4" y="-1.55" width="1" height="1.55" fill="#111"/>
<rect x="234.4" y="-11.17" width="1" height="11.17" fill="#777"/>
<rect x="235.4" y="-11.78" width="1" height="11.78" fill="#777"/>
<rect x="237.4" y="-2.29" width="1" height="2.29" fill="#111"/>
<rect x="238.4" y="-2.55" width="1" height="2.55" fill="#111"/>
<rect x="239.4" y="-2.81" width="1" height="2.81" fill="#111"/>
<rect x="240.4" y="-1.78" width="1" height="1.78" fill="#111"/>
<rect x="241.4" y="-5.84" width="1" height="5.84" fill="#111"/>
<rect x="243.4" y="0" width="1" height="4.38" fill="#111"/>
<rect x="245.4" y="-6.72" width="1" height="6.72" fill="#111"/>
<rect x="247.4" y="-2.92" width="1" height="2.92" fill="#111"/>
<line x1="0" y1="0" x2="248.7" y2="0" stroke="#000" stroke-width="1.4"/>
<line x1="-4.5" y1="29.2" x2="0" y2="29.2" stroke="#000" stroke-width="1.3"/>
<line x1="-4.5" y1="14.6" x2="0" y2="14.6" stroke="#000" stroke-width="1.3"/>
<line x1="-4.5" y1="0" x2="0" y2="0" stroke="#000" stroke-width="1.3"/>
<line x1="-4.5" y1="-14.6" x2="0" y2="-14.6" stroke="#000" stroke-width="1.3"/>
<line x1="-4.5" y1="-29.2" x2="0" y2="-29.2" stroke="#000" stroke-width="1.3"/>
<line x1="-4.5" y1="-43.8" x2="0" y2="-43.8" stroke="#000" stroke-width="1.3"/>
<line x1="-4.5" y1="-58.4" x2="0" y2="-58.4" stroke="#000" stroke-width="1.3"/>
<line x1="-4.5" y1="-73" x2="0" y2="-73" stroke="#000" stroke-width="1.3"/>
<line x1="-4.5" y1="-87.6" x2="0" y2="-87.6" stroke="#000" stroke-width="1.3"/>
</g>
<path d="M61.6,446.6 L310.3,444.4 L310.3,576.1 L61.6,578.3 Z" fill="none" stroke="#000" stroke-width="1.6" stroke-linejoin="miter"/>
<line x1="62.9" y1="446.59" x2="62.9" y2="449.59" stroke="#000" stroke-width="1.2"/>
<line x1="81.85" y1="446.42" x2="81.85" y2="449.42" stroke="#000" stroke-width="1.2"/>
<line x1="100.81" y1="446.25" x2="100.81" y2="449.25" stroke="#000" stroke-width="1.2"/>
<line x1="119.76" y1="446.09" x2="119.76" y2="449.09" stroke="#000" stroke-width="1.2"/>
<line x1="138.72" y1="445.92" x2="138.72" y2="448.92" stroke="#000" stroke-width="1.2"/>
<line x1="157.67" y1="445.75" x2="157.67" y2="448.75" stroke="#000" stroke-width="1.2"/>
<line x1="176.62" y1="445.58" x2="176.62" y2="448.58" stroke="#000" stroke-width="1.2"/>
<line x1="195.58" y1="445.41" x2="195.58" y2="448.41" stroke="#000" stroke-width="1.2"/>
<line x1="214.53" y1="445.25" x2="214.53" y2="448.25" stroke="#000" stroke-width="1.2"/>
<line x1="233.48" y1="445.08" x2="233.48" y2="448.08" stroke="#000" stroke-width="1.2"/>
<line x1="252.44" y1="444.91" x2="252.44" y2="447.91" stroke="#000" stroke-width="1.2"/>
<line x1="271.39" y1="444.74" x2="271.39" y2="447.74" stroke="#000" stroke-width="1.2"/>
<line x1="290.35" y1="444.58" x2="290.35" y2="447.58" stroke="#000" stroke-width="1.2"/>
<line x1="309.3" y1="444.41" x2="309.3" y2="447.41" stroke="#000" stroke-width="1.2"/>
<text transform="translate(55.8,553.4) scale(1.01,1)" font-size="13.8" text-anchor="end" font-family="Liberation Sans, sans-serif" stroke="#000" stroke-width="0.15">0.0</text>
<text transform="translate(55.8,524.2) scale(1.01,1)" font-size="13.8" text-anchor="end" font-family="Liberation Sans, sans-serif" stroke="#000" stroke-width="0.15">0.2</text>
<text transform="translate(55.8,495) scale(1.01,1)" font-size="13.8" text-anchor="end" font-family="Liberation Sans, sans-serif" stroke="#000" stroke-width="0.15">0.4</text>
<text transform="translate(55.8,465.8) scale(1.01,1)" font-size="13.8" text-anchor="end" font-family="Liberation Sans, sans-serif" stroke="#000" stroke-width="0.15">0.6</text>
<text x="296.5" y="462.9" font-size="11" text-anchor="end" font-family="Liberation Sans, sans-serif" stroke="#000" stroke-width="0.1">1974</text>
<g transform="matrix(1,-0.00884,0,1,61.50,689.00)">
<rect x="3.5" y="0" width="1" height="9.78" fill="#111"/>
<rect x="5.5" y="-27.55" width="1" height="27.55" fill="#111"/>
<rect x="6.5" y="-27.8" width="1" height="27.8" fill="#111"/>
<rect x="6.5" y="-19.15" width="1" height="19.15" fill="#111"/>
<rect x="7.5" y="-19.45" width="1" height="19.45" fill="#111"/>
<rect x="8.5" y="-92.27" width="1" height="92.27" fill="#111"/>
<rect x="10.5" y="-5.46" width="1" height="5.46" fill="#777"/>
<rect x="11.5" y="-5.73" width="1" height="5.73" fill="#777"/>
<rect x="12.5" y="-50.52" width="1" height="50.52" fill="#111"/>
<rect x="13.5" y="-43.8" width="1" height="43.8" fill="#333"/>
<rect x="13.5" y="-27.84" width="1" height="27.84" fill="#777"/>
<rect x="14.5" y="-29.3" width="1" height="29.3" fill="#777"/>
<rect x="15.5" y="-37.23" width="1" height="37.23" fill="#333"/>
<rect x="16.5" y="-35.04" width="1" height="35.04" fill="#777"/>
<rect x="17.5" y="-17.44" width="1" height="17.44" fill="#777"/>
<rect x="18.5" y="-17.01" width="1" height="17.01" fill="#777"/>
<rect x="18.5" y="-15.92" width="1" height="15.92" fill="#111"/>
<rect x="19.5" y="-14.77" width="1" height="14.77" fill="#111"/>
<rect x="20.5" y="-42.34" width="1" height="42.34" fill="#111"/>
<rect x="21.5" y="-39.42" width="1" height="39.42" fill="#333"/>
<rect x="22.5" y="-4.29" width="1" height="4.29" fill="#777"/>
<rect x="23.5" y="-3.64" width="1" height="3.64" fill="#777"/>
<rect x="24.5" y="-27.39" width="1" height="27.39" fill="#777"/>
<rect x="25.5" y="-27.45" width="1" height="27.45" fill="#777"/>
<rect x="25.5" y="-29.24" width="1" height="29.24" fill="#777"/>
<rect x="26.5" y="-29.83" width="1" height="29.83" fill="#777"/>
<rect x="27.5" y="-41.32" width="1" height="41.32" fill="#111"/>
<rect x="28.5" y="-36.5" width="1" height="36.5" fill="#333"/>
<rect x="28.5" y="-30.42" width="1" height="30.42" fill="#111"/>
<rect x="29.5" y="-33.21" width="1" height="33.21" fill="#111"/>
<rect x="30.5" y="-32.55" width="1" height="32.55" fill="#111"/>
<rect x="32.5" y="-45.55" width="1" height="45.55" fill="#111"/>
<rect x="32.5" y="-23.87" width="1" height="23.87" fill="#111"/>
<rect x="33.5" y="-25.92" width="1" height="25.92" fill="#111"/>
<rect x="34.5" y="-26.69" width="1" height="26.69" fill="#777"/>
<rect x="35.5" y="-28.08" width="1" height="28.08" fill="#777"/>
<rect x="36.5" y="-41.25" width="1" height="41.25" fill="#111"/>
<rect x="37.5" y="-40.89" width="1" height="40.89" fill="#111"/>
<rect x="38.5" y="-105.12" width="2" height="105.12" fill="#111"/>
<rect x="39.5" y="-27.11" width="1" height="27.11" fill="#777"/>
<rect x="40.5" y="-25.37" width="1" height="25.37" fill="#777"/>
<rect x="42.5" y="-16.63" width="1" height="16.63" fill="#111"/>
<rect x="43.5" y="-18.64" width="1" height="18.64" fill="#111"/>
<rect x="43.5" y="-27.88" width="1" height="27.88" fill="#111"/>
<rect x="44.5" y="-25.83" width="1" height="25.83" fill="#111"/>
<rect x="45.5" y="-7.95" width="1" height="7.95" fill="#777"/>
<rect x="46.5" y="-7.02" width="1" height="7.02" fill="#777"/>
<rect x="47.5" y="-5.37" width="1" height="5.37" fill="#777"/>
<rect x="48.5" y="-4.68" width="1" height="4.68" fill="#777"/>
<rect x="49.5" y="-46.72" width="1" height="46.72" fill="#111"/>
<rect x="50.5" y="-18.53" width="1" height="18.53" fill="#111"/>
<rect x="51.5" y="-17.88" width="1" height="17.88" fill="#111"/>
<rect x="53.5" y="-64.24" width="1" height="64.24" fill="#333"/>
<rect x="54.5" y="-58.4" width="1" height="58.4" fill="#777"/>
<rect x="55.5" y="-22.98" width="1" height="22.98" fill="#111"/>
<rect x="56.5" y="-22.79" width="1" height="22.79" fill="#111"/>
<rect x="57.5" y="-1.9" width="1" height="1.9" fill="#777"/>
<rect x="58.5" y="-1.99" width="1" height="1.99" fill="#777"/>
<rect x="59.5" y="-1.7" width="1" height="1.7" fill="#777"/>
<rect x="60.5" y="-30.22" width="1" height="30.22" fill="#111"/>
<rect x="61.5" y="-83.37" width="1" height="83.37" fill="#111"/>
<rect x="62.5" y="-1.67" width="1" height="1.67" fill="#111"/>
<rect x="63.5" y="-1.56" width="1" height="1.56" fill="#111"/>
<rect x="65.5" y="0" width="1" height="18.69" fill="#777"/>
<rect x="66.5" y="-15.04" width="1" height="15.04" fill="#777"/>
<rect x="67.5" y="-15.48" width="1" height="15.48" fill="#777"/>
<rect x="67.5" y="-7.3" width="1" height="7.3" fill="#777"/>
<rect x="68.5" y="-8.29" width="1" height="8.29" fill="#777"/>
<rect x="69.5" y="-7.79" width="1" height="7.79" fill="#777"/>
<rect x="70.5" y="-13.59" width="1" height="13.59" fill="#111"/>
<rect x="71.5" y="-14.34" width="1" height="14.34" fill="#111"/>
<rect x="71.5" y="-20.38" width="1" height="20.38" fill="#111"/>
<rect x="72.5" y="-19.9" width="1" height="19.9" fill="#111"/>
<rect x="73.5" y="-13.84" width="1" height="13.84" fill="#777"/>
<rect x="74.5" y="-14.17" width="1" height="14.17" fill="#777"/>
<rect x="75.5" y="-14.77" width="1" height="14.77" fill="#111"/>
<rect x="76.5" y="-17.45" width="1" height="17.45" fill="#111"/>
<rect x="77.5" y="-14.65" width="1" height="14.65" fill="#111"/>
<rect x="78.5" y="-16.24" width="1" height="16.24" fill="#111"/>
<rect x="79.5" y="-50.22" width="1" height="50.22" fill="#111"/>
<rect x="80.5" y="-43.8" width="1" height="43.8" fill="#333"/>
<rect x="81.5" y="-32.9" width="1" height="32.9" fill="#777"/>
<rect x="82.5" y="-29.28" width="1" height="29.28" fill="#777"/>
<rect x="82.5" y="-18.13" width="1" height="18.13" fill="#777"/>
<rect x="83.5" y="-17.02" width="1" height="17.02" fill="#777"/>
<rect x="83.5" y="-26.34" width="1" height="26.34" fill="#777"/>
<rect x="84.5" y="-24.84" width="1" height="24.84" fill="#777"/>
<rect x="85.5" y="-19.09" width="1" height="19.09" fill="#777"/>
<rect x="86.5" y="-19.4" width="1" height="19.4" fill="#777"/>
<rect x="87.5" y="-84.68" width="1" height="84.68" fill="#333"/>
<rect x="88.5" y="-73" width="1" height="73" fill="#777"/>
<rect x="88.5" y="-1.43" width="1" height="1.43" fill="#111"/>
<rect x="89.5" y="-0.87" width="1" height="0.87" fill="#111"/>
<rect x="91.5" y="-76.21" width="1" height="76.21" fill="#111"/>
<rect x="92.5" y="-25.13" width="1" height="25.13" fill="#111"/>
<rect x="93.5" y="-25.53" width="1" height="25.53" fill="#111"/>
<rect x="94.5" y="-24.65" width="1" height="24.65" fill="#111"/>
<rect x="95.5" y="-22.91" width="1" height="22.91" fill="#111"/>
<rect x="96.5" y="-22.94" width="1" height="22.94" fill="#111"/>
<rect x="96.5" y="-12.45" width="1" height="12.45" fill="#111"/>
<rect x="97.5" y="-12.81" width="1" height="12.81" fill="#111"/>
<rect x="98.5" y="-17.84" width="1" height="17.84" fill="#777"/>
<rect x="99.5" y="-18.72" width="1" height="18.72" fill="#777"/>
<rect x="100.5" y="-18.8" width="1" height="18.8" fill="#777"/>
<rect x="101.5" y="-19.65" width="1" height="19.65" fill="#333"/>
<rect x="102.5" y="-17.61" width="1" height="17.61" fill="#333"/>
<rect x="103.5" y="-22.24" width="1" height="22.24" fill="#333"/>
<rect x="104.5" y="-20.61" width="1" height="20.61" fill="#333"/>
<rect x="105.5" y="-21.19" width="1" height="21.19" fill="#777"/>
<rect x="106.5" y="-21.78" width="1" height="21.78" fill="#777"/>
<rect x="107.5" y="-33.29" width="1" height="33.29" fill="#111"/>
<rect x="108.5" y="-26.96" width="1" height="26.96" fill="#111"/>
<rect x="109.5" y="-25.61" width="1" height="25.61" fill="#111"/>
<rect x="110.5" y="-26.98" width="1" height="26.98" fill="#111"/>
<rect x="111.5" y="-12.4" width="1" height="12.4" fill="#777"/>
<rect x="112.5" y="-12.09" width="1" height="12.09" fill="#777"/>
<rect x="113.5" y="-19.49" width="1" height="19.49" fill="#777"/>
<rect x="114.5" y="-19.27" width="1" height="19.27" fill="#777"/>
<rect x="115.5" y="-0.79" width="1" height="0.79" fill="#111"/>
<rect x="116.5" y="-0.84" width="1" height="0.84" fill="#111"/>
<rect x="117.5" y="-9.77" width="1" height="9.77" fill="#777"/>
<rect x="118.5" y="-10.22" width="1" height="10.22" fill="#777"/>
<rect x="120.5" y="0" width="1" height="30.66" fill="#333"/>
<rect x="121.5" y="-44.82" width="1" height="44.82" fill="#777"/>
<rect x="122.5" y="-17.92" width="1" height="17.92" fill="#333"/>
<rect x="123.5" y="-17.64" width="1" height="17.64" fill="#333"/>
<rect x="124.5" y="-19.97" width="1" height="19.97" fill="#333"/>
<rect x="125.5" y="-14.46" width="1" height="14.46" fill="#777"/>
<rect x="126.5" y="-14.15" width="1" height="14.15" fill="#777"/>
<rect x="127.5" y="-15.05" width="1" height="15.05" fill="#777"/>
<rect x="128.5" y="-15.73" width="1" height="15.73" fill="#777"/>
<rect x="129.5" y="-14.35" width="1" height="14.35" fill="#333"/>
<rect x="130.5" y="-13.81" width="1" height="13.81" fill="#333"/>
<rect x="131.5" y="-31.54" width="1" height="31.54" fill="#111"/>
<rect x="132.5" y="-27.74" width="1" height="27.74" fill="#111"/>
<rect x="133.5" y="-15.4" width="1" height="15.4" fill="#777"/>
<rect x="134.5" y="-14.71" width="1" height="14.71" fill="#777"/>
<rect x="135.5" y="-33.29" width="1" height="33.29" fill="#777"/>
<rect x="136.5" y="-21.12" width="1" height="21.12" fill="#333"/>
<rect x="137.5" y="-19.06" width="1" height="19.06" fill="#333"/>
<rect x="138.5" y="-20.13" width="1" height="20.13" fill="#333"/>
<rect x="142.5" y="-23.13" width="1" height="23.13" fill="#111"/>
<rect x="143.5" y="-20.86" width="1" height="20.86" fill="#111"/>
<rect x="143.5" y="-25.18" width="1" height="25.18" fill="#777"/>
<rect x="144.5" y="-25.72" width="1" height="25.72" fill="#777"/>
<rect x="145.5" y="-21.82" width="1" height="21.82" fill="#111"/>
<rect x="146.5" y="-22.17" width="1" height="22.17" fill="#111"/>
<rect x="148.5" y="-36.06" width="1" height="36.06" fill="#111"/>
<rect x="149.5" y="-29.2" width="1" height="29.2" fill="#777"/>
<rect x="150.5" y="-16.36" width="1" height="16.36" fill="#111"/>
<rect x="151.5" y="-17.27" width="1" height="17.27" fill="#111"/>
<rect x="152.5" y="-0.95" width="1" height="0.95" fill="#111"/>
<rect x="153.5" y="-1.96" width="1" height="1.96" fill="#111"/>
<rect x="153.5" y="-24.09" width="1" height="24.09" fill="#777"/>
<rect x="154.5" y="-24.48" width="1" height="24.48" fill="#777"/>
<rect x="155.5" y="-21.9" width="1" height="21.9" fill="#aaa"/>
<rect x="156.5" y="-21.47" width="1" height="21.47" fill="#aaa"/>
<rect x="157.5" y="-20.51" width="1" height="20.51" fill="#777"/>
<rect x="158.5" y="-18.91" width="1" height="18.91" fill="#777"/>
<rect x="160.5" y="-31.54" width="1" height="31.54" fill="#111"/>
<rect x="161.5" y="-29.2" width="1" height="29.2" fill="#111"/>
<rect x="161.5" y="-23.18" width="1" height="23.18" fill="#111"/>
<rect x="162.5" y="-23.82" width="1" height="23.82" fill="#111"/>
<rect x="164.5" y="-12.87" width="1" height="12.87" fill="#111"/>
<rect x="165.5" y="-12.4" width="1" height="12.4" fill="#111"/>
<rect x="168.5" y="-2.6" width="1" height="2.6" fill="#111"/>
<rect x="169.5" y="-2.34" width="1" height="2.34" fill="#111"/>
<rect x="176.5" y="-6.5" width="1" height="6.5" fill="#111"/>
<rect x="177.5" y="-7.57" width="1" height="7.57" fill="#111"/>
<rect x="180.5" y="-48.91" width="1" height="48.91" fill="#111"/>
<rect x="180.5" y="-4.32" width="1" height="4.32" fill="#111"/>
<rect x="182.5" y="0" width="1" height="0.46" fill="#111"/>
<rect x="183.5" y="0" width="1" height="0.51" fill="#111"/>
<rect x="184.5" y="0" width="1" height="0.58" fill="#111"/>
<rect x="185.5" y="-8.89" width="1" height="8.89" fill="#111"/>
<rect x="186.5" y="-9.16" width="1" height="9.16" fill="#111"/>
<rect x="189.5" y="-21.32" width="1" height="21.32" fill="#111"/>
<rect x="190.5" y="-18.98" width="1" height="18.98" fill="#777"/>
<rect x="191.5" y="-11.7" width="1" height="11.7" fill="#777"/>
<rect x="192.5" y="-11.87" width="1" height="11.87" fill="#777"/>
<rect x="193.5" y="-0.36" width="1" height="0.36" fill="#111"/>
<rect x="194.5" y="-0.61" width="1" height="0.61" fill="#111"/>
<rect x="195.5" y="-0.6" width="1" height="0.6" fill="#111"/>
<rect x="196.5" y="-0.55" width="1" height="0.55" fill="#111"/>
<rect x="180.5" y="-47.74" width="1" height="47.74" fill="#111"/>
<rect x="186.5" y="-9.44" width="1" height="9.44" fill="#111"/>
<rect x="198.5" y="-11.33" width="1" height="11.33" fill="#777"/>
<rect x="199.5" y="-10.75" width="1" height="10.75" fill="#777"/>
<rect x="205.5" y="-10.84" width="1" height="10.84" fill="#777"/>
<rect x="207.5" y="-49.06" width="1" height="49.06" fill="#111"/>
<rect x="208.5" y="-19.6" width="1" height="19.6" fill="#111"/>
<rect x="209.5" y="-20.04" width="1" height="20.04" fill="#111"/>
<rect x="211.5" y="-20.33" width="1" height="20.33" fill="#333"/>
<rect x="212.5" y="-20.19" width="1" height="20.19" fill="#333"/>
<rect x="218.5" y="-10.48" width="1" height="10.48" fill="#777"/>
<rect x="219.5" y="-11.05" width="1" height="11.05" fill="#777"/>
<rect x="220.5" y="-4.12" width="1" height="4.12" fill="#111"/>
<rect x="221.5" y="-4.07" width="1" height="4.07" fill="#111"/>
<rect x="224.5" y="-28.91" width="1" height="28.91" fill="#111"/>
<rect x="224.5" y="-4.39" width="1" height="4.39" fill="#111"/>
<rect x="225.5" y="-4.86" width="1" height="4.86" fill="#111"/>
<rect x="229.5" y="-10.55" width="1" height="10.55" fill="#777"/>
<rect x="230.5" y="-11.1" width="1" height="11.1" fill="#777"/>
<rect x="232.5" y="-13.82" width="1" height="13.82" fill="#777"/>
<rect x="233.5" y="-14.33" width="1" height="14.33" fill="#777"/>
<rect x="235.5" y="-30.08" width="1" height="30.08" fill="#111"/>
<rect x="235.5" y="-8.25" width="1" height="8.25" fill="#777"/>
<rect x="236.5" y="-8.46" width="1" height="8.46" fill="#777"/>
<rect x="238.5" y="-22.61" width="1" height="22.61" fill="#777"/>
<rect x="239.5" y="-23.22" width="1" height="23.22" fill="#777"/>
<rect x="240.5" y="-32.41" width="1" height="32.41" fill="#111"/>
<rect x="240.5" y="-5.86" width="1" height="5.86" fill="#777"/>
<rect x="241.5" y="-5.96" width="1" height="5.96" fill="#777"/>
<rect x="243.5" y="-0.99" width="1" height="0.99" fill="#111"/>
<rect x="244.5" y="-1.35" width="1" height="1.35" fill="#111"/>
<rect x="245.5" y="-1.37" width="1" height="1.37" fill="#111"/>
<line x1="0" y1="0" x2="249" y2="0" stroke="#000" stroke-width="1.4"/>
<line x1="-4.5" y1="29.2" x2="0" y2="29.2" stroke="#000" stroke-width="1.3"/>
<line x1="-4.5" y1="14.6" x2="0" y2="14.6" stroke="#000" stroke-width="1.3"/>
<line x1="-4.5" y1="0" x2="0" y2="0" stroke="#000" stroke-width="1.3"/>
<line x1="-4.5" y1="-14.6" x2="0" y2="-14.6" stroke="#000" stroke-width="1.3"/>
<line x1="-4.5" y1="-29.2" x2="0" y2="-29.2" stroke="#000" stroke-width="1.3"/>
<line x1="-4.5" y1="-43.8" x2="0" y2="-43.8" stroke="#000" stroke-width="1.3"/>
<line x1="-4.5" y1="-58.4" x2="0" y2="-58.4" stroke="#000" stroke-width="1.3"/>
<line x1="-4.5" y1="-73" x2="0" y2="-73" stroke="#000" stroke-width="1.3"/>
<line x1="-4.5" y1="-87.6" x2="0" y2="-87.6" stroke="#000" stroke-width="1.3"/>
</g>
<path d="M61.5,586.9 L310.5,584.1 L310.5,715.7 L61.5,718.3 Z" fill="none" stroke="#000" stroke-width="1.6" stroke-linejoin="miter"/>
<line x1="62.8" y1="586.89" x2="62.8" y2="589.89" stroke="#000" stroke-width="1.2"/>
<line x1="81.78" y1="586.67" x2="81.78" y2="589.67" stroke="#000" stroke-width="1.2"/>
<line x1="100.75" y1="586.46" x2="100.75" y2="589.46" stroke="#000" stroke-width="1.2"/>
<line x1="119.73" y1="586.25" x2="119.73" y2="589.25" stroke="#000" stroke-width="1.2"/>
<line x1="138.71" y1="586.03" x2="138.71" y2="589.03" stroke="#000" stroke-width="1.2"/>
<line x1="157.68" y1="585.82" x2="157.68" y2="588.82" stroke="#000" stroke-width="1.2"/>
<line x1="176.66" y1="585.61" x2="176.66" y2="588.61" stroke="#000" stroke-width="1.2"/>
<line x1="195.64" y1="585.39" x2="195.64" y2="588.39" stroke="#000" stroke-width="1.2"/>
<line x1="214.62" y1="585.18" x2="214.62" y2="588.18" stroke="#000" stroke-width="1.2"/>
<line x1="233.59" y1="584.96" x2="233.59" y2="587.96" stroke="#000" stroke-width="1.2"/>
<line x1="252.57" y1="584.75" x2="252.57" y2="587.75" stroke="#000" stroke-width="1.2"/>
<line x1="271.55" y1="584.54" x2="271.55" y2="587.54" stroke="#000" stroke-width="1.2"/>
<line x1="290.52" y1="584.32" x2="290.52" y2="587.32" stroke="#000" stroke-width="1.2"/>
<line x1="309.5" y1="584.11" x2="309.5" y2="587.11" stroke="#000" stroke-width="1.2"/>
<text transform="translate(55.7,694) scale(1.01,1)" font-size="13.8" text-anchor="end" font-family="Liberation Sans, sans-serif" stroke="#000" stroke-width="0.15">0.0</text>
<text transform="translate(55.7,664.8) scale(1.01,1)" font-size="13.8" text-anchor="end" font-family="Liberation Sans, sans-serif" stroke="#000" stroke-width="0.15">0.2</text>
<text transform="translate(55.7,635.6) scale(1.01,1)" font-size="13.8" text-anchor="end" font-family="Liberation Sans, sans-serif" stroke="#000" stroke-width="0.15">0.4</text>
<text transform="translate(55.7,606.4) scale(1.01,1)" font-size="13.8" text-anchor="end" font-family="Liberation Sans, sans-serif" stroke="#000" stroke-width="0.15">0.6</text>
<text x="296" y="602.5" font-size="11" font-style="italic" text-anchor="end" font-family="Liberation Sans, sans-serif" stroke="#000" stroke-width="0.1">1975</text>
<g transform="matrix(1,0.00403,0,1,343.20,129.00)">
<rect x="2.8" y="0" width="1" height="9.93" fill="#777"/>
<rect x="4.8" y="-21.53" width="1" height="21.53" fill="#777"/>
<rect x="5.8" y="-21.62" width="1" height="21.62" fill="#777"/>
<rect x="5.8" y="-24.56" width="1" height="24.56" fill="#333"/>
<rect x="8.8" y="-84.97" width="1" height="84.97" fill="#111"/>
<rect x="9.8" y="-9.29" width="1" height="9.29" fill="#777"/>
<rect x="10.8" y="-8.76" width="1" height="8.76" fill="#777"/>
<rect x="10.8" y="-9.73" width="1" height="9.73" fill="#777"/>
<rect x="11.8" y="-52.56" width="1" height="52.56" fill="#333"/>
<rect x="12.8" y="-49.55" width="1" height="49.55" fill="#777"/>
<rect x="13.8" y="-42.77" width="1" height="42.77" fill="#333"/>
<rect x="14.8" y="-42.41" width="1" height="42.41" fill="#111"/>
<rect x="15.8" y="-44.03" width="1" height="44.03" fill="#111"/>
<rect x="16.8" y="-25.78" width="1" height="25.78" fill="#333"/>
<rect x="17.8" y="-27.63" width="1" height="27.63" fill="#333"/>
<rect x="17.8" y="-21.54" width="1" height="21.54" fill="#111"/>
<rect x="19.8" y="-36.65" width="1" height="36.65" fill="#777"/>
<rect x="20.8" y="-35.04" width="1" height="35.04" fill="#777"/>
<rect x="20.8" y="-22.99" width="1" height="22.99" fill="#111"/>
<rect x="21.8" y="-23.31" width="1" height="23.31" fill="#111"/>
<rect x="21.8" y="-34.11" width="1" height="34.11" fill="#777"/>
<rect x="22.8" y="-32.68" width="1" height="32.68" fill="#777"/>
<rect x="23.8" y="-38.44" width="1" height="38.44" fill="#333"/>
<rect x="24.8" y="-39.32" width="1" height="39.32" fill="#333"/>
<rect x="24.8" y="-12.34" width="1" height="12.34" fill="#111"/>
<rect x="25.8" y="-13.67" width="1" height="13.67" fill="#111"/>
<rect x="26.8" y="-35.68" width="1" height="35.68" fill="#777"/>
<rect x="27.8" y="-36.17" width="1" height="36.17" fill="#777"/>
<rect x="27.8" y="-43.81" width="1" height="43.81" fill="#111"/>
<rect x="28.8" y="-42.75" width="1" height="42.75" fill="#111"/>
<rect x="29.8" y="-28.62" width="1" height="28.62" fill="#111"/>
<rect x="30.8" y="-28.63" width="1" height="28.63" fill="#111"/>
<rect x="31.8" y="-25.99" width="1" height="25.99" fill="#111"/>
<rect x="32.8" y="-25.07" width="1" height="25.07" fill="#111"/>
<rect x="32.8" y="-18.01" width="1" height="18.01" fill="#111"/>
<rect x="33.8" y="-19.1" width="1" height="19.1" fill="#111"/>
<rect x="34.8" y="-30.39" width="1" height="30.39" fill="#111"/>
<rect x="35.8" y="-33.09" width="1" height="33.09" fill="#111"/>
<rect x="36.8" y="-23.27" width="1" height="23.27" fill="#111"/>
<rect x="37.8" y="-22.37" width="1" height="22.37" fill="#111"/>
<rect x="38.8" y="-25.27" width="1" height="25.27" fill="#777"/>
<rect x="39.8" y="-24.41" width="1" height="24.41" fill="#777"/>
<rect x="41.8" y="-26.08" width="1" height="26.08" fill="#777"/>
<rect x="42.8" y="-26.02" width="1" height="26.02" fill="#777"/>
<rect x="42.8" y="-20.78" width="1" height="20.78" fill="#333"/>
<rect x="43.8" y="-21.24" width="1" height="21.24" fill="#333"/>
<rect x="45.8" y="-3.01" width="1" height="3.01" fill="#777"/>
<rect x="46.8" y="-3.13" width="1" height="3.13" fill="#777"/>
<rect x="46.8" y="0" width="1" height="4.38" fill="#111"/>
<rect x="48.8" y="-27.45" width="1" height="27.45" fill="#777"/>
<rect x="49.8" y="-24.82" width="1" height="24.82" fill="#aaa"/>
<rect x="49.8" y="0" width="1" height="5.84" fill="#777"/>
<rect x="50.8" y="0" width="1" height="5.11" fill="#777"/>
<rect x="51.8" y="-8.32" width="1" height="8.32" fill="#111"/>
<rect x="54.8" y="-68.33" width="1" height="68.33" fill="#111"/>
<rect x="54.8" y="-58.4" width="1" height="58.4" fill="#111"/>
<rect x="55.8" y="-21.55" width="1" height="21.55" fill="#777"/>
<rect x="56.8" y="-19.05" width="1" height="19.05" fill="#777"/>
<rect x="57.8" y="-18.73" width="1" height="18.73" fill="#333"/>
<rect x="58.8" y="-19.54" width="1" height="19.54" fill="#333"/>
<rect x="58.8" y="-9.65" width="1" height="9.65" fill="#111"/>
<rect x="59.8" y="-10.48" width="1" height="10.48" fill="#111"/>
<rect x="61.8" y="-7.47" width="1" height="7.47" fill="#777"/>
<rect x="62.8" y="-8.97" width="1" height="8.97" fill="#777"/>
<rect x="63.8" y="-11.45" width="1" height="11.45" fill="#111"/>
<rect x="64.8" y="-10.49" width="1" height="10.49" fill="#111"/>
<rect x="65.8" y="-32.56" width="1" height="32.56" fill="#777"/>
<rect x="66.8" y="-7.98" width="1" height="7.98" fill="#111"/>
<rect x="67.8" y="-7.62" width="1" height="7.62" fill="#111"/>
<rect x="68.8" y="-3.79" width="1" height="3.79" fill="#111"/>
<rect x="69.8" y="-4" width="1" height="4" fill="#111"/>
<rect x="70.8" y="-3.75" width="1" height="3.75" fill="#111"/>
<rect x="70.8" y="-13.45" width="1" height="13.45" fill="#777"/>
<rect x="71.8" y="-14.4" width="1" height="14.4" fill="#777"/>
<rect x="71.8" y="-3.94" width="1" height="3.94" fill="#111"/>
<rect x="72.8" y="-2.94" width="1" height="2.94" fill="#111"/>
<rect x="73.8" y="-4.06" width="1" height="4.06" fill="#111"/>
<rect x="73.8" y="-17.55" width="1" height="17.55" fill="#111"/>
<rect x="74.8" y="-18.05" width="1" height="18.05" fill="#111"/>
<rect x="75.8" y="-15.52" width="1" height="15.52" fill="#111"/>
<rect x="76.8" y="-14.77" width="1" height="14.77" fill="#111"/>
<rect x="77.8" y="-12.04" width="1" height="12.04" fill="#777"/>
<rect x="78.8" y="-12.12" width="1" height="12.12" fill="#777"/>
<rect x="78.8" y="-12.3" width="1" height="12.3" fill="#777"/>
<rect x="79.8" y="-11.88" width="1" height="11.88" fill="#777"/>
<rect x="81.8" y="-4.38" width="1" height="4.38" fill="#111"/>
<rect x="82.8" y="-3" width="1" height="3" fill="#111"/>
<rect x="83.8" y="0" width="1" height="4.38" fill="#111"/>
<rect x="84.8" y="-15.71" width="1" height="15.71" fill="#111"/>
<rect x="85.8" y="-16.56" width="1" height="16.56" fill="#111"/>
<rect x="86.8" y="-12.32" width="1" height="12.32" fill="#777"/>
<rect x="87.8" y="-13.26" width="1" height="13.26" fill="#777"/>
<rect x="88.8" y="-12.07" width="1" height="12.07" fill="#777"/>
<rect x="90.8" y="-13.25" width="1" height="13.25" fill="#111"/>
<rect x="91.8" y="-13.11" width="1" height="13.11" fill="#111"/>
<rect x="92.8" y="-14.71" width="1" height="14.71" fill="#111"/>
<rect x="93.8" y="-15.22" width="1" height="15.22" fill="#111"/>
<rect x="94.8" y="-3.57" width="1" height="3.57" fill="#111"/>
<rect x="95.8" y="-4.13" width="1" height="4.13" fill="#111"/>
<rect x="96.8" y="-8.46" width="1" height="8.46" fill="#111"/>
<rect x="97.8" y="-8.05" width="1" height="8.05" fill="#111"/>
<rect x="98.8" y="-9.17" width="1" height="9.17" fill="#333"/>
<rect x="99.8" y="-9.38" width="1" height="9.38" fill="#333"/>
<rect x="101.8" y="-9.48" width="1" height="9.48" fill="#111"/>
<rect x="102.8" y="-8.91" width="1" height="8.91" fill="#111"/>
<rect x="102.8" y="-12.77" width="1" height="12.77" fill="#111"/>
<rect x="103.8" y="-12.07" width="1" height="12.07" fill="#111"/>
<rect x="104.8" y="-6.91" width="1" height="6.91" fill="#111"/>
<rect x="105.8" y="-7.56" width="1" height="7.56" fill="#111"/>
<rect x="107.8" y="-17.67" width="1" height="17.67" fill="#111"/>
<rect x="107.8" y="-12.18" width="1" height="12.18" fill="#111"/>
<rect x="108.8" y="-13.19" width="1" height="13.19" fill="#333"/>
<rect x="109.8" y="-13.43" width="1" height="13.43" fill="#333"/>
<rect x="110.8" y="-1.16" width="1" height="1.16" fill="#111"/>
<rect x="111.8" y="-0.99" width="1" height="0.99" fill="#111"/>
<rect x="113.8" y="0" width="1" height="1.46" fill="#111"/>
<rect x="115.8" y="-12.24" width="1" height="12.24" fill="#777"/>
<rect x="116.8" y="-12.67" width="1" height="12.67" fill="#777"/>
<rect x="117.8" y="-31.39" width="1" height="31.39" fill="#111"/>
<rect x="118.8" y="-21.9" width="1" height="21.9" fill="#111"/>
<rect x="119.8" y="-6.28" width="1" height="6.28" fill="#777"/>
<rect x="121.8" y="-12.12" width="1" height="12.12" fill="#777"/>
<rect x="122.8" y="-8.65" width="1" height="8.65" fill="#111"/>
<rect x="123.8" y="-7.67" width="1" height="7.67" fill="#111"/>
<rect x="125.8" y="-22.19" width="1" height="22.19" fill="#111"/>
<rect x="125.8" y="-20.44" width="1" height="20.44" fill="#111"/>
<rect x="126.8" y="-5.16" width="1" height="5.16" fill="#777"/>
<rect x="127.8" y="-6.05" width="1" height="6.05" fill="#777"/>
<rect x="128.8" y="-11.38" width="1" height="11.38" fill="#777"/>
<rect x="129.8" y="-10.73" width="1" height="10.73" fill="#777"/>
<rect x="130.8" y="-2.54" width="1" height="2.54" fill="#111"/>
<rect x="131.8" y="-2.54" width="1" height="2.54" fill="#111"/>
<rect x="132.8" y="-4.55" width="1" height="4.55" fill="#777"/>
<rect x="133.8" y="-4.82" width="1" height="4.82" fill="#777"/>
<rect x="137.8" y="-8.03" width="1" height="8.03" fill="#777"/>
<rect x="141.8" y="-13.85" width="1" height="13.85" fill="#777"/>
<rect x="142.8" y="-15.02" width="1" height="15.02" fill="#777"/>
<rect x="143.8" y="-3.98" width="1" height="3.98" fill="#111"/>
<rect x="144.8" y="-4.32" width="1" height="4.32" fill="#111"/>
<rect x="146.8" y="-19.65" width="1" height="19.65" fill="#777"/>
<rect x="147.8" y="-19.54" width="1" height="19.54" fill="#777"/>
<rect x="149.8" y="-22.94" width="1" height="22.94" fill="#333"/>
<rect x="150.8" y="-23.57" width="1" height="23.57" fill="#333"/>
<rect x="151.8" y="-8.05" width="1" height="8.05" fill="#111"/>
<rect x="152.8" y="-8.23" width="1" height="8.23" fill="#111"/>
<rect x="152.8" y="-22.08" width="1" height="22.08" fill="#777"/>
<rect x="154.8" y="-43.36" width="1" height="43.36" fill="#111"/>
<rect x="155.8" y="-3.62" width="1" height="3.62" fill="#111"/>
<rect x="156.8" y="-3.74" width="1" height="3.74" fill="#111"/>
<rect x="157.8" y="0" width="1" height="5.1" fill="#777"/>
<rect x="158.8" y="0" width="1" height="5.4" fill="#777"/>
<rect x="159.8" y="0" width="1" height="2.92" fill="#111"/>
<rect x="162.8" y="-4.11" width="1" height="4.11" fill="#111"/>
<rect x="163.8" y="-3.71" width="1" height="3.71" fill="#111"/>
<rect x="166.8" y="0" width="1" height="1.44" fill="#111"/>
<rect x="167.8" y="0" width="1" height="0.9" fill="#111"/>
<rect x="168.8" y="0" width="1" height="1.38" fill="#111"/>
<rect x="168.8" y="-1.25" width="1" height="1.25" fill="#111"/>
<rect x="169.8" y="-0.99" width="1" height="0.99" fill="#111"/>
<rect x="170.8" y="-1.42" width="1" height="1.42" fill="#111"/>
<rect x="173.8" y="-4.88" width="1" height="4.88" fill="#777"/>
<rect x="174.8" y="-4.42" width="1" height="4.42" fill="#777"/>
<rect x="175.8" y="0" width="1" height="2.05" fill="#111"/>
<rect x="176.8" y="0" width="1" height="1.5" fill="#111"/>
<rect x="177.8" y="0" width="1" height="1.74" fill="#111"/>
<rect x="178.8" y="-7.92" width="1" height="7.92" fill="#333"/>
<rect x="179.8" y="-8.44" width="1" height="8.44" fill="#333"/>
<rect x="181.8" y="0" width="1" height="1.6" fill="#111"/>
<rect x="182.8" y="0" width="1" height="1.83" fill="#111"/>
<rect x="184.8" y="-5.66" width="1" height="5.66" fill="#777"/>
<rect x="185.8" y="-5.23" width="1" height="5.23" fill="#777"/>
<rect x="187.8" y="-1.72" width="1" height="1.72" fill="#111"/>
<rect x="188.8" y="-1.57" width="1" height="1.57" fill="#111"/>
<rect x="191.8" y="0" width="1" height="1.46" fill="#111"/>
<rect x="193.8" y="0" width="1" height="1.73" fill="#111"/>
<rect x="194.8" y="0" width="1" height="1.75" fill="#111"/>
<rect x="195.8" y="0" width="1" height="2.08" fill="#111"/>
<rect x="196.8" y="0" width="1" height="1.73" fill="#111"/>
<rect x="199.8" y="-11.53" width="1" height="11.53" fill="#777"/>
<rect x="200.8" y="-1.46" width="1" height="1.46" fill="#111"/>
<rect x="204.8" y="0" width="1" height="3.65" fill="#111"/>
<rect x="208.8" y="-19.42" width="1" height="19.42" fill="#111"/>
<rect x="209.8" y="0" width="1" height="3.58" fill="#111"/>
<rect x="210.8" y="0" width="1" height="3.57" fill="#111"/>
<rect x="211.8" y="0" width="1" height="3.18" fill="#111"/>
<rect x="213.8" y="-1.46" width="1" height="1.46" fill="#111"/>
<rect x="217.8" y="-45.55" width="1" height="45.55" fill="#111"/>
<rect x="220.8" y="0" width="1" height="3.65" fill="#111"/>
<rect x="221.8" y="-8.18" width="1" height="8.18" fill="#111"/>
<rect x="222.8" y="-9.01" width="1" height="9.01" fill="#111"/>
<rect x="225.8" y="0" width="1" height="9.34" fill="#111"/>
<rect x="228.8" y="-4.96" width="1" height="4.96" fill="#777"/>
<rect x="228.8" y="-15.33" width="1" height="15.33" fill="#777"/>
<rect x="229.8" y="-15.42" width="1" height="15.42" fill="#777"/>
<rect x="231.8" y="-37.08" width="1" height="37.08" fill="#333"/>
<rect x="232.8" y="-29.2" width="1" height="29.2" fill="#777"/>
<rect x="234.8" y="-4.38" width="1" height="4.38" fill="#777"/>
<rect x="235.8" y="0" width="1" height="4.38" fill="#111"/>
<rect x="236.8" y="0" width="1" height="4.38" fill="#111"/>
<rect x="239.8" y="0" width="1" height="4.38" fill="#111"/>
<rect x="242.8" y="0" width="1" height="4.38" fill="#111"/>
<line x1="0" y1="0" x2="248.3" y2="0" stroke="#000" stroke-width="1.4"/>
<line x1="-4.5" y1="29.2" x2="0" y2="29.2" stroke="#000" stroke-width="1.3"/>
<line x1="-4.5" y1="14.6" x2="0" y2="14.6" stroke="#000" stroke-width="1.3"/>
<line x1="-4.5" y1="0" x2="0" y2="0" stroke="#000" stroke-width="1.3"/>
<line x1="-4.5" y1="-14.6" x2="0" y2="-14.6" stroke="#000" stroke-width="1.3"/>
<line x1="-4.5" y1="-29.2" x2="0" y2="-29.2" stroke="#000" stroke-width="1.3"/>
<line x1="-4.5" y1="-43.8" x2="0" y2="-43.8" stroke="#000" stroke-width="1.3"/>
<line x1="-4.5" y1="-58.4" x2="0" y2="-58.4" stroke="#000" stroke-width="1.3"/>
<line x1="-4.5" y1="-73" x2="0" y2="-73" stroke="#000" stroke-width="1.3"/>
<line x1="-4.5" y1="-87.6" x2="0" y2="-87.6" stroke="#000" stroke-width="1.3"/>
</g>
<path d="M343.2,27.8 L591.5,28.7 L591.5,159 L343.2,158.3 Z" fill="none" stroke="#000" stroke-width="1.6" stroke-linejoin="miter"/>
<line x1="344.5" y1="27.8" x2="344.5" y2="30.8" stroke="#000" stroke-width="1.2"/>
<line x1="363.42" y1="27.87" x2="363.42" y2="30.87" stroke="#000" stroke-width="1.2"/>
<line x1="382.35" y1="27.94" x2="382.35" y2="30.94" stroke="#000" stroke-width="1.2"/>
<line x1="401.27" y1="28.01" x2="401.27" y2="31.01" stroke="#000" stroke-width="1.2"/>
<line x1="420.19" y1="28.08" x2="420.19" y2="31.08" stroke="#000" stroke-width="1.2"/>
<line x1="439.12" y1="28.15" x2="439.12" y2="31.15" stroke="#000" stroke-width="1.2"/>
<line x1="458.04" y1="28.22" x2="458.04" y2="31.22" stroke="#000" stroke-width="1.2"/>
<line x1="476.96" y1="28.28" x2="476.96" y2="31.28" stroke="#000" stroke-width="1.2"/>
<line x1="495.88" y1="28.35" x2="495.88" y2="31.35" stroke="#000" stroke-width="1.2"/>
<line x1="514.81" y1="28.42" x2="514.81" y2="31.42" stroke="#000" stroke-width="1.2"/>
<line x1="533.73" y1="28.49" x2="533.73" y2="31.49" stroke="#000" stroke-width="1.2"/>
<line x1="552.65" y1="28.56" x2="552.65" y2="31.56" stroke="#000" stroke-width="1.2"/>
<line x1="571.58" y1="28.63" x2="571.58" y2="31.63" stroke="#000" stroke-width="1.2"/>
<line x1="590.5" y1="28.7" x2="590.5" y2="31.7" stroke="#000" stroke-width="1.2"/>
<text transform="translate(337.4,134) scale(1.01,1)" font-size="13.8" text-anchor="end" font-family="Liberation Sans, sans-serif" stroke="#000" stroke-width="0.15">0.0</text>
<text transform="translate(337.4,104.8) scale(1.01,1)" font-size="13.8" text-anchor="end" font-family="Liberation Sans, sans-serif" stroke="#000" stroke-width="0.15">0.2</text>
<text transform="translate(337.4,75.6) scale(1.01,1)" font-size="13.8" text-anchor="end" font-family="Liberation Sans, sans-serif" stroke="#000" stroke-width="0.15">0.4</text>
<text transform="translate(337.4,46.4) scale(1.01,1)" font-size="13.8" text-anchor="end" font-family="Liberation Sans, sans-serif" stroke="#000" stroke-width="0.15">0.6</text>
<text x="579.4" y="45.8" font-size="11" text-anchor="end" font-family="Liberation Sans, sans-serif" stroke="#000" stroke-width="0.1">1976</text>
<g transform="matrix(1,0.00322,0,1,342.10,268.60)">
<rect x="2.9" y="-66.58" width="1" height="66.58" fill="#777"/>
<rect x="3.9" y="-56.94" width="1" height="56.94" fill="#111"/>
<rect x="3.9" y="-62.74" width="1" height="62.74" fill="#333"/>
<rect x="4.9" y="-61.98" width="1" height="61.98" fill="#333"/>
<rect x="5.9" y="-64.17" width="1" height="64.17" fill="#333"/>
<rect x="3.9" y="-26.49" width="1" height="26.49" fill="#111"/>
<rect x="4.9" y="-27.84" width="1" height="27.84" fill="#111"/>
<rect x="8.9" y="-100.74" width="1" height="100.74" fill="#333"/>
<rect x="9.9" y="-44.87" width="1" height="44.87" fill="#777"/>
<rect x="10.9" y="-43.97" width="1" height="43.97" fill="#777"/>
<rect x="11.9" y="-45.28" width="1" height="45.28" fill="#777"/>
<rect x="9.9" y="-54.13" width="1" height="54.13" fill="#333"/>
<rect x="10.9" y="-55.29" width="1" height="55.29" fill="#333"/>
<rect x="12.9" y="-90.52" width="1" height="90.52" fill="#333"/>
<rect x="12.9" y="-73" width="1" height="73" fill="#777"/>
<rect x="14.9" y="-89.5" width="1" height="89.5" fill="#777"/>
<rect x="14.9" y="-39.58" width="1" height="39.58" fill="#777"/>
<rect x="15.9" y="-39.63" width="1" height="39.63" fill="#777"/>
<rect x="16.9" y="-46.69" width="1" height="46.69" fill="#777"/>
<rect x="17.9" y="-48.04" width="1" height="48.04" fill="#777"/>
<rect x="18.9" y="-7.84" width="1" height="7.84" fill="#111"/>
<rect x="19.9" y="-60.59" width="1" height="60.59" fill="#111"/>
<rect x="20.9" y="-63.63" width="1" height="63.63" fill="#111"/>
<rect x="21.9" y="-65.16" width="1" height="65.16" fill="#111"/>
<rect x="21.9" y="-56.79" width="1" height="56.79" fill="#777"/>
<rect x="22.9" y="-55.71" width="1" height="55.71" fill="#777"/>
<rect x="22.9" y="-53.89" width="1" height="53.89" fill="#777"/>
<rect x="23.9" y="-55.84" width="1" height="55.84" fill="#777"/>
<rect x="24.9" y="-43.94" width="1" height="43.94" fill="#777"/>
<rect x="25.9" y="-46.31" width="1" height="46.31" fill="#777"/>
<rect x="25.9" y="-53.41" width="1" height="53.41" fill="#777"/>
<rect x="26.9" y="-52.98" width="1" height="52.98" fill="#777"/>
<rect x="27.9" y="-75.92" width="1" height="75.92" fill="#111"/>
<rect x="27.9" y="-54.36" width="1" height="54.36" fill="#111"/>
<rect x="28.9" y="-54.92" width="1" height="54.92" fill="#111"/>
<rect x="29.9" y="-56.4" width="1" height="56.4" fill="#111"/>
<rect x="29.9" y="-58.93" width="1" height="58.93" fill="#777"/>
<rect x="31.9" y="-79.28" width="1" height="79.28" fill="#111"/>
<rect x="31.9" y="-65.94" width="1" height="65.94" fill="#333"/>
<rect x="32.9" y="-66.11" width="1" height="66.11" fill="#333"/>
<rect x="33.9" y="-55.11" width="1" height="55.11" fill="#777"/>
<rect x="34.9" y="-55.62" width="1" height="55.62" fill="#777"/>
<rect x="35.9" y="-55.66" width="1" height="55.66" fill="#333"/>
<rect x="36.9" y="-55.65" width="1" height="55.65" fill="#333"/>
<rect x="37.9" y="-23.96" width="1" height="23.96" fill="#111"/>
<rect x="38.9" y="-25.35" width="1" height="25.35" fill="#111"/>
<rect x="39.9" y="-40.67" width="1" height="40.67" fill="#333"/>
<rect x="40.9" y="-40.34" width="1" height="40.34" fill="#333"/>
<rect x="41.9" y="-48.43" width="1" height="48.43" fill="#111"/>
<rect x="42.9" y="-48.04" width="1" height="48.04" fill="#111"/>
<rect x="42.9" y="-54.9" width="1" height="54.9" fill="#111"/>
<rect x="43.9" y="-56.34" width="1" height="56.34" fill="#111"/>
<rect x="44.9" y="-30.83" width="1" height="30.83" fill="#111"/>
<rect x="45.9" y="-29.77" width="1" height="29.77" fill="#111"/>
<rect x="46.9" y="-28.91" width="1" height="28.91" fill="#777"/>
<rect x="47.9" y="-28.81" width="1" height="28.81" fill="#777"/>
<rect x="49.9" y="-63.95" width="1" height="63.95" fill="#777"/>
<rect x="49.9" y="-37.21" width="1" height="37.21" fill="#111"/>
<rect x="50.9" y="-36.85" width="1" height="36.85" fill="#111"/>
<rect x="51.9" y="-35.75" width="1" height="35.75" fill="#111"/>
<rect x="51.9" y="-37.47" width="1" height="37.47" fill="#111"/>
<rect x="52.9" y="-35.33" width="1" height="35.33" fill="#111"/>
<rect x="53.9" y="-27.5" width="1" height="27.5" fill="#777"/>
<rect x="54.9" y="-28.49" width="1" height="28.49" fill="#777"/>
<rect x="55.9" y="-32.56" width="1" height="32.56" fill="#333"/>
<rect x="56.9" y="-33.55" width="1" height="33.55" fill="#333"/>
<rect x="57.9" y="-17.63" width="1" height="17.63" fill="#777"/>
<rect x="58.9" y="-19.47" width="1" height="19.47" fill="#777"/>
<rect x="59.9" y="-53.73" width="1" height="53.73" fill="#777"/>
<rect x="60.9" y="-49.64" width="1" height="49.64" fill="#aaa"/>
<rect x="60.9" y="-22.45" width="1" height="22.45" fill="#777"/>
<rect x="61.9" y="-21.95" width="1" height="21.95" fill="#777"/>
<rect x="63.9" y="-22.74" width="1" height="22.74" fill="#aaa"/>
<rect x="64.9" y="-21.26" width="1" height="21.26" fill="#aaa"/>
<rect x="65.9" y="-29.77" width="1" height="29.77" fill="#777"/>
<rect x="66.9" y="-29.48" width="1" height="29.48" fill="#777"/>
<rect x="66.9" y="-27.38" width="1" height="27.38" fill="#333"/>
<rect x="67.9" y="-27.15" width="1" height="27.15" fill="#333"/>
<rect x="69.9" y="-37.12" width="1" height="37.12" fill="#111"/>
<rect x="70.9" y="-37.38" width="1" height="37.38" fill="#111"/>
<rect x="70.9" y="-36.22" width="1" height="36.22" fill="#333"/>
<rect x="71.9" y="-36.69" width="1" height="36.69" fill="#333"/>
<rect x="72.9" y="-35.19" width="1" height="35.19" fill="#333"/>
<rect x="72.9" y="-29.79" width="1" height="29.79" fill="#777"/>
<rect x="73.9" y="-29.63" width="1" height="29.63" fill="#777"/>
<rect x="74.9" y="-24.8" width="1" height="24.8" fill="#aaa"/>
<rect x="75.9" y="-24.3" width="1" height="24.3" fill="#aaa"/>
<rect x="76.9" y="-25.44" width="1" height="25.44" fill="#aaa"/>
<rect x="77.9" y="-25.66" width="1" height="25.66" fill="#aaa"/>
<rect x="78.9" y="-15.58" width="1" height="15.58" fill="#777"/>
<rect x="79.9" y="-14.63" width="1" height="14.63" fill="#777"/>
<rect x="80.9" y="-24.78" width="1" height="24.78" fill="#aaa"/>
<rect x="81.9" y="-23.88" width="1" height="23.88" fill="#aaa"/>
<rect x="83.9" y="-20.65" width="1" height="20.65" fill="#777"/>
<rect x="84.9" y="-20.54" width="1" height="20.54" fill="#777"/>
<rect x="85.9" y="-36.72" width="1" height="36.72" fill="#111"/>
<rect x="86.9" y="-35.32" width="1" height="35.32" fill="#111"/>
<rect x="86.9" y="-19.56" width="1" height="19.56" fill="#111"/>
<rect x="87.9" y="-19.89" width="1" height="19.89" fill="#111"/>
<rect x="88.9" y="-17.71" width="1" height="17.71" fill="#777"/>
<rect x="89.9" y="-16.21" width="1" height="16.21" fill="#777"/>
<rect x="90.9" y="-25.8" width="1" height="25.8" fill="#111"/>
<rect x="91.9" y="-26.02" width="1" height="26.02" fill="#111"/>
<rect x="92.9" y="-38.18" width="1" height="38.18" fill="#333"/>
<rect x="93.9" y="-38.05" width="1" height="38.05" fill="#333"/>
<rect x="94.9" y="-25.25" width="1" height="25.25" fill="#777"/>
<rect x="95.9" y="-23.97" width="1" height="23.97" fill="#777"/>
<rect x="97.9" y="-15.81" width="1" height="15.81" fill="#777"/>
<rect x="98.9" y="-15.65" width="1" height="15.65" fill="#777"/>
<rect x="99.9" y="-29.03" width="1" height="29.03" fill="#333"/>
<rect x="100.9" y="-29.14" width="1" height="29.14" fill="#333"/>
<rect x="100.9" y="-29.53" width="1" height="29.53" fill="#111"/>
<rect x="101.9" y="-29.59" width="1" height="29.59" fill="#111"/>
<rect x="102.9" y="-26.96" width="1" height="26.96" fill="#111"/>
<rect x="103.9" y="-26.96" width="1" height="26.96" fill="#111"/>
<rect x="104.9" y="-22.61" width="1" height="22.61" fill="#333"/>
<rect x="105.9" y="-22.76" width="1" height="22.76" fill="#333"/>
<rect x="106.9" y="-23.94" width="1" height="23.94" fill="#111"/>
<rect x="107.9" y="-23.37" width="1" height="23.37" fill="#111"/>
<rect x="109.9" y="-37.96" width="1" height="37.96" fill="#aaa"/>
<rect x="110.9" y="-24.4" width="1" height="24.4" fill="#aaa"/>
<rect x="111.9" y="-24.28" width="1" height="24.28" fill="#aaa"/>
<rect x="112.9" y="-26.47" width="1" height="26.47" fill="#aaa"/>
<rect x="113.9" y="-27.6" width="1" height="27.6" fill="#aaa"/>
<rect x="114.9" y="-12.69" width="1" height="12.69" fill="#777"/>
<rect x="115.9" y="-12.43" width="1" height="12.43" fill="#777"/>
<rect x="116.9" y="-20.15" width="1" height="20.15" fill="#111"/>
<rect x="117.9" y="-20.26" width="1" height="20.26" fill="#111"/>
<rect x="118.9" y="-22.03" width="1" height="22.03" fill="#111"/>
<rect x="119.9" y="-24" width="1" height="24" fill="#111"/>
<rect x="120.9" y="-22.38" width="1" height="22.38" fill="#777"/>
<rect x="121.9" y="-22.61" width="1" height="22.61" fill="#777"/>
<rect x="122.9" y="-20.49" width="1" height="20.49" fill="#111"/>
<rect x="123.9" y="-19.72" width="1" height="19.72" fill="#111"/>
<rect x="124.9" y="-34.75" width="1" height="34.75" fill="#333"/>
<rect x="125.9" y="-33.88" width="1" height="33.88" fill="#333"/>
<rect x="126.9" y="-17.26" width="1" height="17.26" fill="#aaa"/>
<rect x="127.9" y="-16.18" width="1" height="16.18" fill="#aaa"/>
<rect x="128.9" y="-16.19" width="1" height="16.19" fill="#777"/>
<rect x="129.9" y="-16.46" width="1" height="16.46" fill="#777"/>
<rect x="130.9" y="-17.83" width="1" height="17.83" fill="#777"/>
<rect x="131.9" y="-18.17" width="1" height="18.17" fill="#777"/>
<rect x="132.9" y="-11.81" width="1" height="11.81" fill="#777"/>
<rect x="133.9" y="-11.68" width="1" height="11.68" fill="#777"/>
<rect x="134.9" y="-28.09" width="1" height="28.09" fill="#111"/>
<rect x="135.9" y="-27.98" width="1" height="27.98" fill="#111"/>
<rect x="136.9" y="-21.08" width="1" height="21.08" fill="#111"/>
<rect x="137.9" y="-20.48" width="1" height="20.48" fill="#111"/>
<rect x="141.9" y="-43.43" width="1" height="43.43" fill="#111"/>
<rect x="142.9" y="-42.67" width="1" height="42.67" fill="#111"/>
<rect x="142.9" y="-25.19" width="1" height="25.19" fill="#777"/>
<rect x="143.9" y="-25.45" width="1" height="25.45" fill="#777"/>
<rect x="144.9" y="-25.68" width="1" height="25.68" fill="#777"/>
<rect x="145.9" y="-45.02" width="1" height="45.02" fill="#111"/>
<rect x="146.9" y="-44.21" width="1" height="44.21" fill="#111"/>
<rect x="146.9" y="-26.93" width="1" height="26.93" fill="#111"/>
<rect x="147.9" y="-27.28" width="1" height="27.28" fill="#111"/>
<rect x="149.9" y="-10.76" width="1" height="10.76" fill="#777"/>
<rect x="150.9" y="-10.79" width="1" height="10.79" fill="#777"/>
<rect x="151.9" y="-30.91" width="1" height="30.91" fill="#333"/>
<rect x="152.9" y="-30.96" width="1" height="30.96" fill="#333"/>
<rect x="152.9" y="-16.81" width="1" height="16.81" fill="#aaa"/>
<rect x="153.9" y="-16.64" width="1" height="16.64" fill="#aaa"/>
<rect x="155.9" y="-19.58" width="1" height="19.58" fill="#aaa"/>
<rect x="156.9" y="-17.92" width="1" height="17.92" fill="#aaa"/>
<rect x="157.9" y="-26.35" width="1" height="26.35" fill="#aaa"/>
<rect x="158.9" y="-29.06" width="1" height="29.06" fill="#aaa"/>
<rect x="160.9" y="-16.99" width="1" height="16.99" fill="#111"/>
<rect x="161.9" y="-28.1" width="1" height="28.1" fill="#111"/>
<rect x="162.9" y="-29.09" width="1" height="29.09" fill="#111"/>
<rect x="163.9" y="-16.1" width="1" height="16.1" fill="#777"/>
<rect x="164.9" y="-16.83" width="1" height="16.83" fill="#777"/>
<rect x="167.9" y="-14.57" width="1" height="14.57" fill="#aaa"/>
<rect x="168.9" y="-14.4" width="1" height="14.4" fill="#aaa"/>
<rect x="169.9" y="-16.33" width="1" height="16.33" fill="#aaa"/>
<rect x="170.9" y="-15.25" width="1" height="15.25" fill="#aaa"/>
<rect x="172.9" y="-13.51" width="1" height="13.51" fill="#aaa"/>
<rect x="173.9" y="-13.31" width="1" height="13.31" fill="#aaa"/>
<rect x="174.9" y="-21.79" width="1" height="21.79" fill="#777"/>
<rect x="175.9" y="-21.37" width="1" height="21.37" fill="#777"/>
<rect x="176.9" y="-16.08" width="1" height="16.08" fill="#aaa"/>
<rect x="177.9" y="-15.23" width="1" height="15.23" fill="#aaa"/>
<rect x="178.9" y="-25.37" width="1" height="25.37" fill="#777"/>
<rect x="179.9" y="-26.83" width="1" height="26.83" fill="#777"/>
<rect x="181.9" y="-1.45" width="1" height="1.45" fill="#111"/>
<rect x="182.9" y="-1.35" width="1" height="1.35" fill="#111"/>
<rect x="184.9" y="-28.05" width="1" height="28.05" fill="#333"/>
<rect x="185.9" y="-28.07" width="1" height="28.07" fill="#333"/>
<rect x="186.9" y="-27.9" width="1" height="27.9" fill="#333"/>
<rect x="187.9" y="-26.78" width="1" height="26.78" fill="#333"/>
<rect x="189.9" y="-12.66" width="1" height="12.66" fill="#111"/>
<rect x="190.9" y="-12.35" width="1" height="12.35" fill="#111"/>
<rect x="192.9" y="-11.74" width="1" height="11.74" fill="#777"/>
<rect x="193.9" y="-11.73" width="1" height="11.73" fill="#777"/>
<rect x="194.9" y="-24.18" width="1" height="24.18" fill="#333"/>
<rect x="195.9" y="-24.12" width="1" height="24.12" fill="#333"/>
<rect x="196.9" y="-9.77" width="1" height="9.77" fill="#111"/>
<rect x="197.9" y="-10.16" width="1" height="10.16" fill="#111"/>
<rect x="199.9" y="0" width="1" height="11.39" fill="#777"/>
<rect x="201.9" y="-17.24" width="1" height="17.24" fill="#111"/>
<rect x="202.9" y="-18.52" width="1" height="18.52" fill="#111"/>
<rect x="205.9" y="0" width="1" height="4.38" fill="#111"/>
<rect x="206.9" y="-6.85" width="1" height="6.85" fill="#111"/>
<rect x="207.9" y="-6.82" width="1" height="6.82" fill="#111"/>
<rect x="208.9" y="-39.13" width="1" height="39.13" fill="#111"/>
<rect x="210.9" y="-8.51" width="1" height="8.51" fill="#777"/>
<rect x="211.9" y="-8.32" width="1" height="8.32" fill="#777"/>
<rect x="212.9" y="-8.33" width="1" height="8.33" fill="#777"/>
<rect x="212.9" y="-6.86" width="1" height="6.86" fill="#777"/>
<rect x="213.9" y="-6.87" width="1" height="6.87" fill="#777"/>
<rect x="220.9" y="-6.48" width="1" height="6.48" fill="#777"/>
<rect x="221.9" y="-6.76" width="1" height="6.76" fill="#777"/>
<rect x="221.9" y="-9.13" width="1" height="9.13" fill="#777"/>
<rect x="222.9" y="-8.66" width="1" height="8.66" fill="#777"/>
<rect x="223.9" y="-26.44" width="1" height="26.44" fill="#111"/>
<rect x="224.9" y="-26.8" width="1" height="26.8" fill="#111"/>
<rect x="225.9" y="-11.8" width="1" height="11.8" fill="#777"/>
<rect x="226.9" y="-12.64" width="1" height="12.64" fill="#777"/>
<rect x="227.9" y="-35.57" width="1" height="35.57" fill="#777"/>
<rect x="228.9" y="-35.29" width="1" height="35.29" fill="#777"/>
<rect x="228.9" y="-29.38" width="1" height="29.38" fill="#777"/>
<rect x="229.9" y="-28.79" width="1" height="28.79" fill="#777"/>
<rect x="232.9" y="-9.02" width="1" height="9.02" fill="#777"/>
<rect x="233.9" y="-9.91" width="1" height="9.91" fill="#777"/>
<rect x="234.9" y="-11.44" width="1" height="11.44" fill="#777"/>
<rect x="235.9" y="-12.12" width="1" height="12.12" fill="#777"/>
<rect x="235.9" y="-8.43" width="1" height="8.43" fill="#777"/>
<rect x="236.9" y="-7.76" width="1" height="7.76" fill="#777"/>
<rect x="238.9" y="-43.07" width="1" height="43.07" fill="#111"/>
<rect x="239.9" y="-15.6" width="1" height="15.6" fill="#777"/>
<rect x="240.9" y="-16.95" width="1" height="16.95" fill="#777"/>
<rect x="243.9" y="-25.48" width="1" height="25.48" fill="#333"/>
<rect x="244.9" y="-23.86" width="1" height="23.86" fill="#333"/>
<rect x="244.9" y="-6.72" width="1" height="6.72" fill="#111"/>
<rect x="245.9" y="-6.75" width="1" height="6.75" fill="#111"/>
<rect x="246.9" y="-58.4" width="1" height="58.4" fill="#111"/>
<line x1="0" y1="0" x2="248.6" y2="0" stroke="#000" stroke-width="1.4"/>
<line x1="-4.5" y1="29.2" x2="0" y2="29.2" stroke="#000" stroke-width="1.3"/>
<line x1="-4.5" y1="14.6" x2="0" y2="14.6" stroke="#000" stroke-width="1.3"/>
<line x1="-4.5" y1="0" x2="0" y2="0" stroke="#000" stroke-width="1.3"/>
<line x1="-4.5" y1="-14.6" x2="0" y2="-14.6" stroke="#000" stroke-width="1.3"/>
<line x1="-4.5" y1="-29.2" x2="0" y2="-29.2" stroke="#000" stroke-width="1.3"/>
<line x1="-4.5" y1="-43.8" x2="0" y2="-43.8" stroke="#000" stroke-width="1.3"/>
<line x1="-4.5" y1="-58.4" x2="0" y2="-58.4" stroke="#000" stroke-width="1.3"/>
<line x1="-4.5" y1="-73" x2="0" y2="-73" stroke="#000" stroke-width="1.3"/>
<line x1="-4.5" y1="-87.6" x2="0" y2="-87.6" stroke="#000" stroke-width="1.3"/>
</g>
<path d="M342.1,166.6 L590.7,167.3 L590.7,298.8 L342.1,298.2 Z" fill="none" stroke="#000" stroke-width="1.6" stroke-linejoin="miter"/>
<line x1="343.4" y1="166.6" x2="343.4" y2="169.6" stroke="#000" stroke-width="1.2"/>
<line x1="362.35" y1="166.66" x2="362.35" y2="169.66" stroke="#000" stroke-width="1.2"/>
<line x1="381.29" y1="166.71" x2="381.29" y2="169.71" stroke="#000" stroke-width="1.2"/>
<line x1="400.24" y1="166.76" x2="400.24" y2="169.76" stroke="#000" stroke-width="1.2"/>
<line x1="419.18" y1="166.82" x2="419.18" y2="169.82" stroke="#000" stroke-width="1.2"/>
<line x1="438.13" y1="166.87" x2="438.13" y2="169.87" stroke="#000" stroke-width="1.2"/>
<line x1="457.08" y1="166.92" x2="457.08" y2="169.92" stroke="#000" stroke-width="1.2"/>
<line x1="476.02" y1="166.98" x2="476.02" y2="169.98" stroke="#000" stroke-width="1.2"/>
<line x1="494.97" y1="167.03" x2="494.97" y2="170.03" stroke="#000" stroke-width="1.2"/>
<line x1="513.92" y1="167.08" x2="513.92" y2="170.08" stroke="#000" stroke-width="1.2"/>
<line x1="532.86" y1="167.14" x2="532.86" y2="170.14" stroke="#000" stroke-width="1.2"/>
<line x1="551.81" y1="167.19" x2="551.81" y2="170.19" stroke="#000" stroke-width="1.2"/>
<line x1="570.75" y1="167.24" x2="570.75" y2="170.24" stroke="#000" stroke-width="1.2"/>
<line x1="589.7" y1="167.3" x2="589.7" y2="170.3" stroke="#000" stroke-width="1.2"/>
<text transform="translate(336.3,273.6) scale(1.01,1)" font-size="13.8" text-anchor="end" font-family="Liberation Sans, sans-serif" stroke="#000" stroke-width="0.15">0.0</text>
<text transform="translate(336.3,244.4) scale(1.01,1)" font-size="13.8" text-anchor="end" font-family="Liberation Sans, sans-serif" stroke="#000" stroke-width="0.15">0.2</text>
<text transform="translate(336.3,215.2) scale(1.01,1)" font-size="13.8" text-anchor="end" font-family="Liberation Sans, sans-serif" stroke="#000" stroke-width="0.15">0.4</text>
<text transform="translate(336.3,186) scale(1.01,1)" font-size="13.8" text-anchor="end" font-family="Liberation Sans, sans-serif" stroke="#000" stroke-width="0.15">0.6</text>
<text x="577.3" y="185.6" font-size="11" text-anchor="end" font-family="Liberation Sans, sans-serif" stroke="#000" stroke-width="0.1">1977</text>
<g transform="matrix(1,0.00040,0,1,342.00,408.30)">
<rect x="4" y="-35.8" width="1" height="35.8" fill="#111"/>
<rect x="5" y="-38.27" width="1" height="38.27" fill="#111"/>
<rect x="5" y="-25.26" width="1" height="25.26" fill="#333"/>
<rect x="6" y="-27.29" width="1" height="27.29" fill="#333"/>
<rect x="7" y="-25.12" width="1" height="25.12" fill="#333"/>
<rect x="7" y="-6.2" width="1" height="6.2" fill="#111"/>
<rect x="8" y="-7.3" width="1" height="7.3" fill="#111"/>
<rect x="10" y="-82.49" width="1" height="82.49" fill="#333"/>
<rect x="11" y="-73" width="1" height="73" fill="#111"/>
<rect x="11" y="-66.31" width="1" height="66.31" fill="#111"/>
<rect x="12" y="-67.57" width="1" height="67.57" fill="#111"/>
<rect x="13" y="-33.46" width="1" height="33.46" fill="#777"/>
<rect x="14" y="-33.44" width="1" height="33.44" fill="#777"/>
<rect x="15" y="0" width="1" height="12.56" fill="#777"/>
<rect x="17" y="-30.43" width="1" height="30.43" fill="#111"/>
<rect x="18" y="-29.68" width="1" height="29.68" fill="#111"/>
<rect x="19" y="-36.5" width="1" height="36.5" fill="#333"/>
<rect x="19" y="-33.58" width="1" height="33.58" fill="#777"/>
<rect x="20" y="0" width="1" height="2.92" fill="#111"/>
<rect x="22" y="0" width="1" height="19.43" fill="#333"/>
<rect x="23" y="0" width="1" height="21.37" fill="#333"/>
<rect x="24" y="0" width="1" height="20.99" fill="#333"/>
<rect x="25" y="0" width="1" height="21.56" fill="#333"/>
<rect x="25" y="-38.74" width="1" height="38.74" fill="#111"/>
<rect x="26" y="-39.15" width="1" height="39.15" fill="#111"/>
<rect x="28" y="-30.77" width="1" height="30.77" fill="#aaa"/>
<rect x="29" y="-29.01" width="1" height="29.01" fill="#aaa"/>
<rect x="30" y="-41.3" width="1" height="41.3" fill="#aaa"/>
<rect x="31" y="-41.82" width="1" height="41.82" fill="#aaa"/>
<rect x="32" y="-10.79" width="1" height="10.79" fill="#777"/>
<rect x="33" y="-8.89" width="1" height="8.89" fill="#777"/>
<rect x="33" y="-35.21" width="1" height="35.21" fill="#111"/>
<rect x="34" y="-34.57" width="1" height="34.57" fill="#111"/>
<rect x="35" y="-23.64" width="1" height="23.64" fill="#333"/>
<rect x="36" y="-22.79" width="1" height="22.79" fill="#333"/>
<rect x="37" y="-23.72" width="1" height="23.72" fill="#333"/>
<rect x="38" y="-23.21" width="1" height="23.21" fill="#333"/>
<rect x="40" y="-27.1" width="1" height="27.1" fill="#777"/>
<rect x="41" y="-27.98" width="1" height="27.98" fill="#777"/>
<rect x="42" y="-36.48" width="1" height="36.48" fill="#777"/>
<rect x="43" y="-35.39" width="1" height="35.39" fill="#777"/>
<rect x="44" y="0" width="1" height="30.66" fill="#111"/>
<rect x="44" y="-4.47" width="1" height="4.47" fill="#777"/>
<rect x="45" y="-5.76" width="1" height="5.76" fill="#777"/>
<rect x="46" y="-9.76" width="1" height="9.76" fill="#777"/>
<rect x="47" y="-9.16" width="1" height="9.16" fill="#777"/>
<rect x="49" y="-44.97" width="1" height="44.97" fill="#aaa"/>
<rect x="49" y="-9.1" width="1" height="9.1" fill="#777"/>
<rect x="50" y="-8.4" width="1" height="8.4" fill="#777"/>
<rect x="51" y="-8.68" width="1" height="8.68" fill="#777"/>
<rect x="51" y="-8.59" width="1" height="8.59" fill="#aaa"/>
<rect x="52" y="-7.72" width="1" height="7.72" fill="#aaa"/>
<rect x="54" y="-19.92" width="1" height="19.92" fill="#111"/>
<rect x="55" y="-21.29" width="1" height="21.29" fill="#111"/>
<rect x="56" y="-34.46" width="1" height="34.46" fill="#111"/>
<rect x="57" y="-7.44" width="1" height="7.44" fill="#111"/>
<rect x="58" y="-8.08" width="1" height="8.08" fill="#111"/>
<rect x="59" y="-23.69" width="1" height="23.69" fill="#333"/>
<rect x="60" y="-25.68" width="1" height="25.68" fill="#333"/>
<rect x="62" y="-32.12" width="1" height="32.12" fill="#111"/>
<rect x="62" y="-21.03" width="1" height="21.03" fill="#111"/>
<rect x="63" y="-18.28" width="1" height="18.28" fill="#111"/>
<rect x="64" y="-18.03" width="1" height="18.03" fill="#111"/>
<rect x="65" y="-3.66" width="1" height="3.66" fill="#111"/>
<rect x="66" y="-3.21" width="1" height="3.21" fill="#111"/>
<rect x="67" y="-7.45" width="1" height="7.45" fill="#777"/>
<rect x="68" y="-7.84" width="1" height="7.84" fill="#777"/>
<rect x="69" y="-14.48" width="1" height="14.48" fill="#aaa"/>
<rect x="70" y="-13.33" width="1" height="13.33" fill="#aaa"/>
<rect x="71" y="-14.46" width="1" height="14.46" fill="#111"/>
<rect x="72" y="-13.88" width="1" height="13.88" fill="#111"/>
<rect x="73" y="-6.86" width="1" height="6.86" fill="#111"/>
<rect x="74" y="-6.16" width="1" height="6.16" fill="#111"/>
<rect x="75" y="-26.99" width="1" height="26.99" fill="#111"/>
<rect x="76" y="-26.31" width="1" height="26.31" fill="#111"/>
<rect x="77" y="-19.88" width="1" height="19.88" fill="#111"/>
<rect x="78" y="-19.68" width="1" height="19.68" fill="#111"/>
<rect x="79" y="0" width="1" height="2.92" fill="#111"/>
<rect x="81" y="-13.94" width="1" height="13.94" fill="#aaa"/>
<rect x="82" y="-13.86" width="1" height="13.86" fill="#aaa"/>
<rect x="83" y="-21.66" width="1" height="21.66" fill="#aaa"/>
<rect x="84" y="-21.84" width="1" height="21.84" fill="#aaa"/>
<rect x="87" y="-11.96" width="1" height="11.96" fill="#333"/>
<rect x="88" y="-12.32" width="1" height="12.32" fill="#333"/>
<rect x="89" y="-14.94" width="1" height="14.94" fill="#111"/>
<rect x="90" y="-15.96" width="1" height="15.96" fill="#111"/>
<rect x="91" y="-4.34" width="1" height="4.34" fill="#111"/>
<rect x="92" y="-3.21" width="1" height="3.21" fill="#111"/>
<rect x="93" y="-4.04" width="1" height="4.04" fill="#111"/>
<rect x="93" y="-12.16" width="1" height="12.16" fill="#111"/>
<rect x="94" y="-11.7" width="1" height="11.7" fill="#111"/>
<rect x="95" y="-10.32" width="1" height="10.32" fill="#777"/>
<rect x="96" y="-9.46" width="1" height="9.46" fill="#777"/>
<rect x="97" y="-9.11" width="1" height="9.11" fill="#777"/>
<rect x="97" y="-18.35" width="1" height="18.35" fill="#777"/>
<rect x="98" y="-17.96" width="1" height="17.96" fill="#777"/>
<rect x="99" y="-9.42" width="1" height="9.42" fill="#777"/>
<rect x="100" y="-9.48" width="1" height="9.48" fill="#777"/>
<rect x="101" y="-8.22" width="1" height="8.22" fill="#777"/>
<rect x="102" y="-8.59" width="1" height="8.59" fill="#777"/>
<rect x="103" y="-12.27" width="1" height="12.27" fill="#777"/>
<rect x="104" y="-11.87" width="1" height="11.87" fill="#777"/>
<rect x="105" y="-3.04" width="1" height="3.04" fill="#111"/>
<rect x="106" y="-3.08" width="1" height="3.08" fill="#111"/>
<rect x="107" y="-3.68" width="1" height="3.68" fill="#111"/>
<rect x="107" y="-22.95" width="1" height="22.95" fill="#111"/>
<rect x="108" y="-24.26" width="1" height="24.26" fill="#111"/>
<rect x="108" y="-17.39" width="1" height="17.39" fill="#333"/>
<rect x="109" y="-17.92" width="1" height="17.92" fill="#333"/>
<rect x="111" y="-16.46" width="1" height="16.46" fill="#111"/>
<rect x="112" y="-14.72" width="1" height="14.72" fill="#111"/>
<rect x="113" y="-6.59" width="1" height="6.59" fill="#777"/>
<rect x="114" y="-6.75" width="1" height="6.75" fill="#777"/>
<rect x="115" y="-34.16" width="1" height="34.16" fill="#777"/>
<rect x="116" y="-29.2" width="1" height="29.2" fill="#aaa"/>
<rect x="117" y="-15.05" width="1" height="15.05" fill="#aaa"/>
<rect x="118" y="-15.27" width="1" height="15.27" fill="#aaa"/>
<rect x="119" y="-17.36" width="1" height="17.36" fill="#777"/>
<rect x="120" y="-16.68" width="1" height="16.68" fill="#777"/>
<rect x="121" y="-4.33" width="1" height="4.33" fill="#111"/>
<rect x="122" y="-2.92" width="1" height="2.92" fill="#111"/>
<rect x="123" y="-22.15" width="1" height="22.15" fill="#111"/>
<rect x="124" y="-20.87" width="1" height="20.87" fill="#111"/>
<rect x="124" y="-6" width="1" height="6" fill="#111"/>
<rect x="125" y="-5.14" width="1" height="5.14" fill="#111"/>
<rect x="127" y="-17" width="1" height="17" fill="#777"/>
<rect x="128" y="-16.48" width="1" height="16.48" fill="#777"/>
<rect x="128" y="-21.15" width="1" height="21.15" fill="#aaa"/>
<rect x="129" y="-20.25" width="1" height="20.25" fill="#aaa"/>
<rect x="130" y="-16.53" width="1" height="16.53" fill="#777"/>
<rect x="131" y="-18.61" width="1" height="18.61" fill="#777"/>
<rect x="133" y="-18.36" width="1" height="18.36" fill="#111"/>
<rect x="134" y="-17.68" width="1" height="17.68" fill="#111"/>
<rect x="134" y="-15.75" width="1" height="15.75" fill="#777"/>
<rect x="135" y="-15.54" width="1" height="15.54" fill="#777"/>
<rect x="136" y="-7.19" width="1" height="7.19" fill="#777"/>
<rect x="137" y="-6.77" width="1" height="6.77" fill="#777"/>
<rect x="141" y="-3.01" width="1" height="3.01" fill="#111"/>
<rect x="142" y="-3.34" width="1" height="3.34" fill="#111"/>
<rect x="143" y="-16.72" width="1" height="16.72" fill="#111"/>
<rect x="144" y="-16.24" width="1" height="16.24" fill="#111"/>
<rect x="147" y="-18.35" width="1" height="18.35" fill="#aaa"/>
<rect x="148" y="-18.9" width="1" height="18.9" fill="#aaa"/>
<rect x="150" y="-47.01" width="1" height="47.01" fill="#111"/>
<rect x="151" y="-12.52" width="1" height="12.52" fill="#111"/>
<rect x="152" y="-12.23" width="1" height="12.23" fill="#111"/>
<rect x="153" y="-18.15" width="1" height="18.15" fill="#111"/>
<rect x="154" y="-18.1" width="1" height="18.1" fill="#111"/>
<rect x="155" y="-13.54" width="1" height="13.54" fill="#111"/>
<rect x="156" y="-13.49" width="1" height="13.49" fill="#111"/>
<rect x="157" y="-3.57" width="1" height="3.57" fill="#111"/>
<rect x="158" y="-3.08" width="1" height="3.08" fill="#111"/>
<rect x="160" y="-8.36" width="1" height="8.36" fill="#777"/>
<rect x="161" y="-8.33" width="1" height="8.33" fill="#777"/>
<rect x="162" y="-9.74" width="1" height="9.74" fill="#333"/>
<rect x="163" y="-8.8" width="1" height="8.8" fill="#333"/>
<rect x="164" y="-9.34" width="1" height="9.34" fill="#333"/>
<rect x="168" y="-23.04" width="1" height="23.04" fill="#333"/>
<rect x="169" y="-22.15" width="1" height="22.15" fill="#333"/>
<rect x="170" y="-20.82" width="1" height="20.82" fill="#777"/>
<rect x="171" y="-20.41" width="1" height="20.41" fill="#777"/>
<rect x="171" y="0" width="2" height="30.66" fill="#111"/>
<rect x="174" y="-3.29" width="1" height="3.29" fill="#111"/>
<rect x="175" y="-3.43" width="1" height="3.43" fill="#111"/>
<rect x="176" y="-3.07" width="1" height="3.07" fill="#111"/>
<rect x="177" y="-9.13" width="1" height="9.13" fill="#777"/>
<rect x="178" y="-9.6" width="1" height="9.6" fill="#777"/>
<rect x="179" y="-36.21" width="1" height="36.21" fill="#333"/>
<rect x="180" y="-29.2" width="1" height="29.2" fill="#777"/>
<rect x="180" y="-15.69" width="1" height="15.69" fill="#111"/>
<rect x="181" y="-15.55" width="1" height="15.55" fill="#111"/>
<rect x="183" y="-8.77" width="1" height="8.77" fill="#111"/>
<rect x="184" y="-9.74" width="1" height="9.74" fill="#111"/>
<rect x="186" y="-17.92" width="1" height="17.92" fill="#333"/>
<rect x="187" y="-17.58" width="1" height="17.58" fill="#333"/>
<rect x="188" y="-5.73" width="1" height="5.73" fill="#111"/>
<rect x="189" y="-5.81" width="1" height="5.81" fill="#111"/>
<rect x="193" y="-9.09" width="1" height="9.09" fill="#777"/>
<rect x="194" y="-9.19" width="1" height="9.19" fill="#777"/>
<rect x="195" y="0" width="1" height="23.8" fill="#777"/>
<rect x="197" y="-7.13" width="1" height="7.13" fill="#777"/>
<rect x="198" y="-7.57" width="1" height="7.57" fill="#777"/>
<rect x="200" y="-7.06" width="1" height="7.06" fill="#777"/>
<rect x="201" y="-7.81" width="1" height="7.81" fill="#777"/>
<rect x="202" y="0" width="1" height="2.92" fill="#111"/>
<rect x="205" y="-24.67" width="1" height="24.67" fill="#777"/>
<rect x="206" y="0" width="1" height="4.38" fill="#111"/>
<rect x="208" y="-12.92" width="1" height="12.92" fill="#777"/>
<rect x="211" y="-10.17" width="1" height="10.17" fill="#777"/>
<rect x="212" y="-10.31" width="1" height="10.31" fill="#777"/>
<rect x="219" y="0" width="1" height="2.19" fill="#111"/>
<rect x="222" y="-14.54" width="1" height="14.54" fill="#333"/>
<rect x="223" y="-14.28" width="1" height="14.28" fill="#333"/>
<rect x="225" y="0" width="1" height="4.38" fill="#111"/>
<rect x="228" y="-11.25" width="1" height="11.25" fill="#111"/>
<rect x="229" y="-11.81" width="1" height="11.81" fill="#111"/>
<rect x="233" y="-24.67" width="1" height="24.67" fill="#111"/>
<rect x="237" y="-3.79" width="1" height="3.79" fill="#777"/>
<rect x="238" y="-3.92" width="1" height="3.92" fill="#777"/>
<rect x="241" y="-8.7" width="1" height="8.7" fill="#777"/>
<rect x="242" y="-8.54" width="1" height="8.54" fill="#777"/>
<rect x="244" y="-4.7" width="1" height="4.7" fill="#333"/>
<rect x="245" y="-4.68" width="1" height="4.68" fill="#333"/>
<line x1="0" y1="0" x2="247.2" y2="0" stroke="#000" stroke-width="1.4"/>
<line x1="-4.5" y1="29.2" x2="0" y2="29.2" stroke="#000" stroke-width="1.3"/>
<line x1="-4.5" y1="14.6" x2="0" y2="14.6" stroke="#000" stroke-width="1.3"/>
<line x1="-4.5" y1="0" x2="0" y2="0" stroke="#000" stroke-width="1.3"/>
<line x1="-4.5" y1="-14.6" x2="0" y2="-14.6" stroke="#000" stroke-width="1.3"/>
<line x1="-4.5" y1="-29.2" x2="0" y2="-29.2" stroke="#000" stroke-width="1.3"/>
<line x1="-4.5" y1="-43.8" x2="0" y2="-43.8" stroke="#000" stroke-width="1.3"/>
<line x1="-4.5" y1="-58.4" x2="0" y2="-58.4" stroke="#000" stroke-width="1.3"/>
<line x1="-4.5" y1="-73" x2="0" y2="-73" stroke="#000" stroke-width="1.3"/>
<line x1="-4.5" y1="-87.6" x2="0" y2="-87.6" stroke="#000" stroke-width="1.3"/>
</g>
<path d="M342,306.2 L589.2,306.7 L589.2,437.5 L342,437.4 Z" fill="none" stroke="#000" stroke-width="1.6" stroke-linejoin="miter"/>
<line x1="343.3" y1="306.2" x2="343.3" y2="309.2" stroke="#000" stroke-width="1.2"/>
<line x1="362.14" y1="306.24" x2="362.14" y2="309.24" stroke="#000" stroke-width="1.2"/>
<line x1="380.98" y1="306.28" x2="380.98" y2="309.28" stroke="#000" stroke-width="1.2"/>
<line x1="399.82" y1="306.32" x2="399.82" y2="309.32" stroke="#000" stroke-width="1.2"/>
<line x1="418.65" y1="306.36" x2="418.65" y2="309.36" stroke="#000" stroke-width="1.2"/>
<line x1="437.49" y1="306.39" x2="437.49" y2="309.39" stroke="#000" stroke-width="1.2"/>
<line x1="456.33" y1="306.43" x2="456.33" y2="309.43" stroke="#000" stroke-width="1.2"/>
<line x1="475.17" y1="306.47" x2="475.17" y2="309.47" stroke="#000" stroke-width="1.2"/>
<line x1="494.01" y1="306.51" x2="494.01" y2="309.51" stroke="#000" stroke-width="1.2"/>
<line x1="512.85" y1="306.55" x2="512.85" y2="309.55" stroke="#000" stroke-width="1.2"/>
<line x1="531.68" y1="306.58" x2="531.68" y2="309.58" stroke="#000" stroke-width="1.2"/>
<line x1="550.52" y1="306.62" x2="550.52" y2="309.62" stroke="#000" stroke-width="1.2"/>
<line x1="569.36" y1="306.66" x2="569.36" y2="309.66" stroke="#000" stroke-width="1.2"/>
<line x1="588.2" y1="306.7" x2="588.2" y2="309.7" stroke="#000" stroke-width="1.2"/>
<text transform="translate(336.2,413.3) scale(1.01,1)" font-size="13.8" text-anchor="end" font-family="Liberation Sans, sans-serif" stroke="#000" stroke-width="0.15">0.0</text>
<text transform="translate(336.2,384.1) scale(1.01,1)" font-size="13.8" text-anchor="end" font-family="Liberation Sans, sans-serif" stroke="#000" stroke-width="0.15">0.2</text>
<text transform="translate(336.2,354.9) scale(1.01,1)" font-size="13.8" text-anchor="end" font-family="Liberation Sans, sans-serif" stroke="#000" stroke-width="0.15">0.4</text>
<text transform="translate(336.2,325.7) scale(1.01,1)" font-size="13.8" text-anchor="end" font-family="Liberation Sans, sans-serif" stroke="#000" stroke-width="0.15">0.6</text>
<text x="576.3" y="324.6" font-size="11" text-anchor="end" font-family="Liberation Sans, sans-serif" stroke="#000" stroke-width="0.1">1978</text>
<g transform="matrix(1,0.00040,0,1,341.20,546.90)">
<rect x="4.8" y="-37.85" width="1" height="37.85" fill="#111"/>
<rect x="5.8" y="-37.59" width="1" height="37.59" fill="#111"/>
<rect x="5.8" y="-26.77" width="1" height="26.77" fill="#111"/>
<rect x="6.8" y="-29.32" width="1" height="29.32" fill="#111"/>
<rect x="7.8" y="-95.78" width="1" height="95.78" fill="#333"/>
<rect x="8.8" y="-80.3" width="1" height="80.3" fill="#777"/>
<rect x="9.8" y="-29.22" width="1" height="29.22" fill="#777"/>
<rect x="10.8" y="-30.96" width="1" height="30.96" fill="#777"/>
<rect x="11.8" y="-64.34" width="1" height="64.34" fill="#aaa"/>
<rect x="12.8" y="-61.59" width="1" height="61.59" fill="#aaa"/>
<rect x="12.8" y="-48.5" width="1" height="48.5" fill="#777"/>
<rect x="13.8" y="-48.7" width="1" height="48.7" fill="#777"/>
<rect x="14.8" y="-46.85" width="1" height="46.85" fill="#777"/>
<rect x="16.8" y="-30.25" width="1" height="30.25" fill="#111"/>
<rect x="17.8" y="-31.15" width="1" height="31.15" fill="#111"/>
<rect x="18.8" y="-64.97" width="1" height="64.97" fill="#111"/>
<rect x="19.8" y="-58.4" width="1" height="58.4" fill="#333"/>
<rect x="20.8" y="-36.43" width="1" height="36.43" fill="#111"/>
<rect x="21.8" y="-37.26" width="1" height="37.26" fill="#111"/>
<rect x="22.8" y="-45.88" width="1" height="45.88" fill="#333"/>
<rect x="23.8" y="-46.2" width="1" height="46.2" fill="#333"/>
<rect x="23.8" y="-38.32" width="1" height="38.32" fill="#333"/>
<rect x="24.8" y="-39.59" width="1" height="39.59" fill="#333"/>
<rect x="25.8" y="-51.82" width="1" height="51.82" fill="#111"/>
<rect x="26.8" y="-50.51" width="1" height="50.51" fill="#111"/>
<rect x="27.8" y="-51.23" width="1" height="51.23" fill="#111"/>
<rect x="28.8" y="-31.78" width="1" height="31.78" fill="#777"/>
<rect x="29.8" y="-32.84" width="1" height="32.84" fill="#777"/>
<rect x="30.8" y="-38.26" width="1" height="38.26" fill="#aaa"/>
<rect x="31.8" y="-38.81" width="1" height="38.81" fill="#aaa"/>
<rect x="31.8" y="-28.25" width="1" height="28.25" fill="#777"/>
<rect x="32.8" y="-28.4" width="1" height="28.4" fill="#777"/>
<rect x="33.8" y="-38.95" width="1" height="38.95" fill="#aaa"/>
<rect x="34.8" y="-38.16" width="1" height="38.16" fill="#aaa"/>
<rect x="36.8" y="-43" width="1" height="43" fill="#aaa"/>
<rect x="37.8" y="-42.86" width="1" height="42.86" fill="#aaa"/>
<rect x="38.8" y="-17.52" width="1" height="17.52" fill="#111"/>
<rect x="39.8" y="-40.36" width="1" height="40.36" fill="#777"/>
<rect x="40.8" y="-42.14" width="1" height="42.14" fill="#777"/>
<rect x="41.8" y="-26.75" width="1" height="26.75" fill="#333"/>
<rect x="42.8" y="-28.35" width="1" height="28.35" fill="#333"/>
<rect x="42.8" y="-38.81" width="1" height="38.81" fill="#aaa"/>
<rect x="44.8" y="-17.62" width="1" height="17.62" fill="#111"/>
<rect x="45.8" y="-18.18" width="1" height="18.18" fill="#111"/>
<rect x="46.8" y="-4.74" width="1" height="4.74" fill="#777"/>
<rect x="47.8" y="-4.4" width="1" height="4.4" fill="#777"/>
<rect x="48.8" y="-52.56" width="1" height="52.56" fill="#333"/>
<rect x="49.8" y="-43.8" width="1" height="43.8" fill="#777"/>
<rect x="49.8" y="-27.52" width="1" height="27.52" fill="#777"/>
<rect x="50.8" y="-28.93" width="1" height="28.93" fill="#777"/>
<rect x="51.8" y="-35.45" width="1" height="35.45" fill="#111"/>
<rect x="52.8" y="-37.22" width="1" height="37.22" fill="#111"/>
<rect x="53.8" y="-14.78" width="1" height="14.78" fill="#aaa"/>
<rect x="54.8" y="-15.44" width="1" height="15.44" fill="#aaa"/>
<rect x="55.8" y="-4.23" width="1" height="4.23" fill="#111"/>
<rect x="56.8" y="-3.22" width="1" height="3.22" fill="#111"/>
<rect x="57.8" y="-29.22" width="1" height="29.22" fill="#111"/>
<rect x="58.8" y="-29.43" width="1" height="29.43" fill="#111"/>
<rect x="59.8" y="-24.94" width="1" height="24.94" fill="#777"/>
<rect x="60.8" y="-23.41" width="1" height="23.41" fill="#777"/>
<rect x="61.8" y="-13.24" width="1" height="13.24" fill="#111"/>
<rect x="62.8" y="-13.72" width="1" height="13.72" fill="#111"/>
<rect x="63.8" y="-12.49" width="1" height="12.49" fill="#777"/>
<rect x="64.8" y="-12.05" width="1" height="12.05" fill="#777"/>
<rect x="65.8" y="-15.3" width="1" height="15.3" fill="#777"/>
<rect x="66.8" y="-15.72" width="1" height="15.72" fill="#777"/>
<rect x="67.8" y="-27.93" width="1" height="27.93" fill="#aaa"/>
<rect x="68.8" y="-28.93" width="1" height="28.93" fill="#aaa"/>
<rect x="69.8" y="-28.09" width="1" height="28.09" fill="#aaa"/>
<rect x="70.8" y="-28.98" width="1" height="28.98" fill="#aaa"/>
<rect x="71.8" y="-14.54" width="1" height="14.54" fill="#111"/>
<rect x="72.8" y="-13.22" width="1" height="13.22" fill="#111"/>
<rect x="73.8" y="-5.19" width="1" height="5.19" fill="#111"/>
<rect x="74.8" y="-5.27" width="1" height="5.27" fill="#111"/>
<rect x="75.8" y="-22.14" width="1" height="22.14" fill="#777"/>
<rect x="76.8" y="-22.33" width="1" height="22.33" fill="#777"/>
<rect x="77.8" y="-28.6" width="1" height="28.6" fill="#111"/>
<rect x="78.8" y="-28.61" width="1" height="28.61" fill="#111"/>
<rect x="79.8" y="-16.25" width="1" height="16.25" fill="#777"/>
<rect x="80.8" y="-17.19" width="1" height="17.19" fill="#777"/>
<rect x="81.8" y="-25.58" width="1" height="25.58" fill="#777"/>
<rect x="82.8" y="-23.91" width="1" height="23.91" fill="#777"/>
<rect x="82.8" y="-20.23" width="1" height="20.23" fill="#aaa"/>
<rect x="83.8" y="-19.07" width="1" height="19.07" fill="#aaa"/>
<rect x="84.8" y="-19.73" width="1" height="19.73" fill="#aaa"/>
<rect x="85.8" y="-27.46" width="1" height="27.46" fill="#777"/>
<rect x="86.8" y="-27.31" width="1" height="27.31" fill="#777"/>
<rect x="87.8" y="-13.82" width="1" height="13.82" fill="#aaa"/>
<rect x="88.8" y="-13.22" width="1" height="13.22" fill="#aaa"/>
<rect x="89.8" y="-16.62" width="1" height="16.62" fill="#aaa"/>
<rect x="90.8" y="-17.45" width="1" height="17.45" fill="#aaa"/>
<rect x="91.8" y="-22.84" width="1" height="22.84" fill="#777"/>
<rect x="92.8" y="-22.62" width="1" height="22.62" fill="#777"/>
<rect x="93.8" y="-52.12" width="1" height="52.12" fill="#111"/>
<rect x="94.8" y="-31.83" width="1" height="31.83" fill="#111"/>
<rect x="95.8" y="-33.54" width="1" height="33.54" fill="#111"/>
<rect x="96.8" y="-14.57" width="1" height="14.57" fill="#333"/>
<rect x="97.8" y="-13.19" width="1" height="13.19" fill="#333"/>
<rect x="98.8" y="-15.12" width="1" height="15.12" fill="#333"/>
<rect x="98.8" y="-19.46" width="1" height="19.46" fill="#777"/>
<rect x="99.8" y="-19.61" width="1" height="19.61" fill="#777"/>
<rect x="100.8" y="-19.23" width="1" height="19.23" fill="#333"/>
<rect x="101.8" y="-19.5" width="1" height="19.5" fill="#333"/>
<rect x="102.8" y="-10.55" width="1" height="10.55" fill="#777"/>
<rect x="103.8" y="-10.31" width="1" height="10.31" fill="#777"/>
<rect x="104.8" y="-22.91" width="1" height="22.91" fill="#aaa"/>
<rect x="105.8" y="-22.07" width="1" height="22.07" fill="#aaa"/>
<rect x="106.8" y="-27.65" width="1" height="27.65" fill="#333"/>
<rect x="107.8" y="-26.32" width="1" height="26.32" fill="#333"/>
<rect x="108.8" y="-23.38" width="1" height="23.38" fill="#777"/>
<rect x="109.8" y="-23.43" width="1" height="23.43" fill="#777"/>
<rect x="110.8" y="-4.01" width="1" height="4.01" fill="#111"/>
<rect x="111.8" y="-4.17" width="1" height="4.17" fill="#111"/>
<rect x="113.8" y="-33.14" width="1" height="33.14" fill="#333"/>
<rect x="114.8" y="-1.82" width="1" height="1.82" fill="#111"/>
<rect x="115.8" y="-2.54" width="1" height="2.54" fill="#111"/>
<rect x="116.8" y="-2.08" width="1" height="2.08" fill="#111"/>
<rect x="116.8" y="-19.25" width="1" height="19.25" fill="#aaa"/>
<rect x="117.8" y="-20.11" width="1" height="20.11" fill="#aaa"/>
<rect x="118.8" y="-15.3" width="1" height="15.3" fill="#777"/>
<rect x="119.8" y="-15.25" width="1" height="15.25" fill="#777"/>
<rect x="120.8" y="-12.81" width="1" height="12.81" fill="#aaa"/>
<rect x="121.8" y="-12.17" width="1" height="12.17" fill="#aaa"/>
<rect x="122.8" y="-9.83" width="1" height="9.83" fill="#aaa"/>
<rect x="123.8" y="-9.03" width="1" height="9.03" fill="#aaa"/>
<rect x="124.8" y="-16.45" width="1" height="16.45" fill="#111"/>
<rect x="125.8" y="-15.17" width="1" height="15.17" fill="#111"/>
<rect x="126.8" y="-7.37" width="1" height="7.37" fill="#777"/>
<rect x="127.8" y="-8.72" width="1" height="8.72" fill="#777"/>
<rect x="128.8" y="-12.64" width="1" height="12.64" fill="#111"/>
<rect x="129.8" y="-13.65" width="1" height="13.65" fill="#111"/>
<rect x="130.8" y="-23.03" width="1" height="23.03" fill="#333"/>
<rect x="131.8" y="-22.03" width="1" height="22.03" fill="#333"/>
<rect x="132.8" y="-12.43" width="1" height="12.43" fill="#777"/>
<rect x="133.8" y="-12.49" width="1" height="12.49" fill="#777"/>
<rect x="134.8" y="-15.06" width="1" height="15.06" fill="#aaa"/>
<rect x="135.8" y="-15.45" width="1" height="15.45" fill="#aaa"/>
<rect x="136.8" y="-22.88" width="1" height="22.88" fill="#333"/>
<rect x="137.8" y="-23.45" width="1" height="23.45" fill="#333"/>
<rect x="141.8" y="-19.65" width="1" height="19.65" fill="#777"/>
<rect x="142.8" y="-19.25" width="1" height="19.25" fill="#777"/>
<rect x="142.8" y="-21.67" width="1" height="21.67" fill="#aaa"/>
<rect x="143.8" y="-20.74" width="1" height="20.74" fill="#aaa"/>
<rect x="144.8" y="-20.63" width="1" height="20.63" fill="#777"/>
<rect x="145.8" y="-21.66" width="1" height="21.66" fill="#777"/>
<rect x="147.8" y="-27.5" width="1" height="27.5" fill="#aaa"/>
<rect x="148.8" y="-26.39" width="1" height="26.39" fill="#aaa"/>
<rect x="150.8" y="0" width="1" height="4.38" fill="#111"/>
<rect x="151.8" y="-9.48" width="1" height="9.48" fill="#777"/>
<rect x="152.8" y="-9.89" width="1" height="9.89" fill="#777"/>
<rect x="153.8" y="-17.51" width="1" height="17.51" fill="#333"/>
<rect x="154.8" y="-16.79" width="1" height="16.79" fill="#333"/>
<rect x="155.8" y="-2.84" width="1" height="2.84" fill="#111"/>
<rect x="156.8" y="-2.31" width="1" height="2.31" fill="#111"/>
<rect x="157.8" y="-10.95" width="1" height="10.95" fill="#333"/>
<rect x="158.8" y="-11.01" width="1" height="11.01" fill="#333"/>
<rect x="159.8" y="-13.57" width="1" height="13.57" fill="#777"/>
<rect x="160.8" y="-13.06" width="1" height="13.06" fill="#777"/>
<rect x="161.8" y="0" width="1" height="4.38" fill="#111"/>
<rect x="167.8" y="-3.72" width="1" height="3.72" fill="#111"/>
<rect x="168.8" y="-3.69" width="1" height="3.69" fill="#111"/>
<rect x="171.8" y="-8.57" width="1" height="8.57" fill="#777"/>
<rect x="172.8" y="-8.21" width="1" height="8.21" fill="#777"/>
<rect x="173.8" y="-14.43" width="1" height="14.43" fill="#333"/>
<rect x="174.8" y="-13.31" width="1" height="13.31" fill="#333"/>
<rect x="175.8" y="-6.75" width="1" height="6.75" fill="#777"/>
<rect x="176.8" y="-6.1" width="1" height="6.1" fill="#777"/>
<rect x="176.8" y="-12.43" width="1" height="12.43" fill="#333"/>
<rect x="177.8" y="-12.72" width="1" height="12.72" fill="#333"/>
<rect x="178.8" y="-15.73" width="1" height="15.73" fill="#111"/>
<rect x="179.8" y="-15.99" width="1" height="15.99" fill="#111"/>
<rect x="181.8" y="-5.56" width="1" height="5.56" fill="#777"/>
<rect x="182.8" y="-5.31" width="1" height="5.31" fill="#777"/>
<rect x="183.8" y="-5.67" width="1" height="5.67" fill="#777"/>
<rect x="185.8" y="-20.78" width="1" height="20.78" fill="#333"/>
<rect x="186.8" y="-20" width="1" height="20" fill="#333"/>
<rect x="187.8" y="-11.1" width="1" height="11.1" fill="#111"/>
<rect x="188.8" y="-8.83" width="1" height="8.83" fill="#111"/>
<rect x="192.8" y="0" width="1" height="2.92" fill="#111"/>
<rect x="196.8" y="-8.46" width="1" height="8.46" fill="#777"/>
<rect x="197.8" y="-8.34" width="1" height="8.34" fill="#777"/>
<rect x="199.8" y="-41.9" width="1" height="41.9" fill="#333"/>
<rect x="199.8" y="-29.2" width="1" height="29.2" fill="#777"/>
<rect x="201.8" y="-12.47" width="1" height="12.47" fill="#111"/>
<rect x="202.8" y="-12.44" width="1" height="12.44" fill="#111"/>
<rect x="204.8" y="0" width="1" height="2.92" fill="#111"/>
<rect x="205.8" y="-4.04" width="1" height="4.04" fill="#111"/>
<rect x="206.8" y="-4.31" width="1" height="4.31" fill="#111"/>
<rect x="209.8" y="-19.15" width="1" height="19.15" fill="#333"/>
<rect x="210.8" y="-20.67" width="1" height="20.67" fill="#333"/>
<rect x="210.8" y="-15.79" width="1" height="15.79" fill="#777"/>
<rect x="211.8" y="-15.26" width="1" height="15.26" fill="#777"/>
<rect x="214.8" y="-9.92" width="1" height="9.92" fill="#111"/>
<rect x="215.8" y="-9.92" width="1" height="9.92" fill="#111"/>
<rect x="216.8" y="-8.15" width="1" height="8.15" fill="#777"/>
<rect x="217.8" y="-8.85" width="1" height="8.85" fill="#777"/>
<rect x="218.8" y="-8.56" width="1" height="8.56" fill="#777"/>
<rect x="218.8" y="-3.94" width="1" height="3.94" fill="#777"/>
<rect x="219.8" y="-4.02" width="1" height="4.02" fill="#777"/>
<rect x="222.8" y="-25.26" width="1" height="25.26" fill="#333"/>
<rect x="223.8" y="0" width="1" height="2.92" fill="#111"/>
<rect x="226.8" y="-5.89" width="1" height="5.89" fill="#777"/>
<rect x="227.8" y="-6.37" width="1" height="6.37" fill="#777"/>
<rect x="228.8" y="-9.14" width="1" height="9.14" fill="#777"/>
<rect x="229.8" y="-9.66" width="1" height="9.66" fill="#777"/>
<rect x="230.8" y="-6.81" width="1" height="6.81" fill="#777"/>
<rect x="231.8" y="-7.41" width="1" height="7.41" fill="#777"/>
<rect x="234.8" y="-21.02" width="1" height="21.02" fill="#777"/>
<rect x="236.8" y="0" width="1" height="5.84" fill="#111"/>
<rect x="237.8" y="-14.63" width="1" height="14.63" fill="#aaa"/>
<rect x="238.8" y="-14.42" width="1" height="14.42" fill="#aaa"/>
<rect x="238.8" y="-7.47" width="1" height="7.47" fill="#aaa"/>
<rect x="239.8" y="-6.61" width="1" height="6.61" fill="#aaa"/>
<rect x="241.8" y="-15.91" width="1" height="15.91" fill="#333"/>
<rect x="242.8" y="-15.94" width="1" height="15.94" fill="#333"/>
<rect x="243.8" y="-11.31" width="1" height="11.31" fill="#777"/>
<rect x="244.8" y="-10.87" width="1" height="10.87" fill="#777"/>
<line x1="0" y1="0" x2="247" y2="0" stroke="#000" stroke-width="1.4"/>
<line x1="-4.5" y1="29.2" x2="0" y2="29.2" stroke="#000" stroke-width="1.3"/>
<line x1="-4.5" y1="14.6" x2="0" y2="14.6" stroke="#000" stroke-width="1.3"/>
<line x1="-4.5" y1="0" x2="0" y2="0" stroke="#000" stroke-width="1.3"/>
<line x1="-4.5" y1="-14.6" x2="0" y2="-14.6" stroke="#000" stroke-width="1.3"/>
<line x1="-4.5" y1="-29.2" x2="0" y2="-29.2" stroke="#000" stroke-width="1.3"/>
<line x1="-4.5" y1="-43.8" x2="0" y2="-43.8" stroke="#000" stroke-width="1.3"/>
<line x1="-4.5" y1="-58.4" x2="0" y2="-58.4" stroke="#000" stroke-width="1.3"/>
<line x1="-4.5" y1="-73" x2="0" y2="-73" stroke="#000" stroke-width="1.3"/>
<line x1="-4.5" y1="-87.6" x2="0" y2="-87.6" stroke="#000" stroke-width="1.3"/>
</g>
<path d="M341.2,444.8 L588.2,444 L588.2,576.1 L341.2,576.5 Z" fill="none" stroke="#000" stroke-width="1.6" stroke-linejoin="miter"/>
<line x1="342.5" y1="444.8" x2="342.5" y2="447.8" stroke="#000" stroke-width="1.2"/>
<line x1="361.32" y1="444.73" x2="361.32" y2="447.73" stroke="#000" stroke-width="1.2"/>
<line x1="380.15" y1="444.67" x2="380.15" y2="447.67" stroke="#000" stroke-width="1.2"/>
<line x1="398.97" y1="444.61" x2="398.97" y2="447.61" stroke="#000" stroke-width="1.2"/>
<line x1="417.79" y1="444.55" x2="417.79" y2="447.55" stroke="#000" stroke-width="1.2"/>
<line x1="436.62" y1="444.49" x2="436.62" y2="447.49" stroke="#000" stroke-width="1.2"/>
<line x1="455.44" y1="444.43" x2="455.44" y2="447.43" stroke="#000" stroke-width="1.2"/>
<line x1="474.26" y1="444.37" x2="474.26" y2="447.37" stroke="#000" stroke-width="1.2"/>
<line x1="493.08" y1="444.31" x2="493.08" y2="447.31" stroke="#000" stroke-width="1.2"/>
<line x1="511.91" y1="444.25" x2="511.91" y2="447.25" stroke="#000" stroke-width="1.2"/>
<line x1="530.73" y1="444.19" x2="530.73" y2="447.19" stroke="#000" stroke-width="1.2"/>
<line x1="549.55" y1="444.13" x2="549.55" y2="447.13" stroke="#000" stroke-width="1.2"/>
<line x1="568.38" y1="444.06" x2="568.38" y2="447.06" stroke="#000" stroke-width="1.2"/>
<line x1="587.2" y1="444" x2="587.2" y2="447" stroke="#000" stroke-width="1.2"/>
<text transform="translate(335.4,551.9) scale(1.01,1)" font-size="13.8" text-anchor="end" font-family="Liberation Sans, sans-serif" stroke="#000" stroke-width="0.15">0.0</text>
<text transform="translate(335.4,522.7) scale(1.01,1)" font-size="13.8" text-anchor="end" font-family="Liberation Sans, sans-serif" stroke="#000" stroke-width="0.15">0.2</text>
<text transform="translate(335.4,493.5) scale(1.01,1)" font-size="13.8" text-anchor="end" font-family="Liberation Sans, sans-serif" stroke="#000" stroke-width="0.15">0.4</text>
<text transform="translate(335.4,464.3) scale(1.01,1)" font-size="13.8" text-anchor="end" font-family="Liberation Sans, sans-serif" stroke="#000" stroke-width="0.15">0.6</text>
<text x="576.3" y="462.1" font-size="11" text-anchor="end" font-family="Liberation Sans, sans-serif" stroke="#000" stroke-width="0.1">1979</text>
<g transform="matrix(1,-0.00447,0,1,340.30,685.10)">
<rect x="2.7" y="-15.52" width="1" height="15.52" fill="#111"/>
<rect x="3.7" y="-15.29" width="1" height="15.29" fill="#111"/>
<rect x="3.7" y="-27.63" width="1" height="27.63" fill="#333"/>
<rect x="4.7" y="-26.76" width="1" height="26.76" fill="#333"/>
<rect x="5.7" y="-8.72" width="1" height="8.72" fill="#111"/>
<rect x="6.7" y="-8.74" width="1" height="8.74" fill="#111"/>
<rect x="8.7" y="-67.31" width="1" height="67.31" fill="#111"/>
<rect x="9.7" y="0" width="1" height="9.64" fill="#777"/>
<rect x="11.7" y="-36.57" width="1" height="36.57" fill="#777"/>
<rect x="12.7" y="-35.41" width="1" height="35.41" fill="#777"/>
<rect x="12.7" y="-38.02" width="1" height="38.02" fill="#777"/>
<rect x="13.7" y="-37.46" width="1" height="37.46" fill="#777"/>
<rect x="14.7" y="-38.65" width="1" height="38.65" fill="#333"/>
<rect x="15.7" y="-40.6" width="1" height="40.6" fill="#333"/>
<rect x="16.7" y="-20.43" width="1" height="20.43" fill="#777"/>
<rect x="17.7" y="-17.65" width="1" height="17.65" fill="#777"/>
<rect x="18.7" y="-31.59" width="1" height="31.59" fill="#111"/>
<rect x="19.7" y="-30.87" width="1" height="30.87" fill="#111"/>
<rect x="20.7" y="-25.77" width="1" height="25.77" fill="#111"/>
<rect x="21.7" y="-25.52" width="1" height="25.52" fill="#111"/>
<rect x="22.7" y="-18.9" width="1" height="18.9" fill="#aaa"/>
<rect x="23.7" y="-18.45" width="1" height="18.45" fill="#aaa"/>
<rect x="24.7" y="-32.96" width="1" height="32.96" fill="#aaa"/>
<rect x="25.7" y="-32.88" width="1" height="32.88" fill="#aaa"/>
<rect x="25.7" y="-39.77" width="1" height="39.77" fill="#333"/>
<rect x="26.7" y="-41.44" width="1" height="41.44" fill="#333"/>
<rect x="27.7" y="-32.81" width="1" height="32.81" fill="#111"/>
<rect x="28.7" y="-32.78" width="1" height="32.78" fill="#111"/>
<rect x="29.7" y="-32" width="1" height="32" fill="#111"/>
<rect x="29.7" y="-36.61" width="1" height="36.61" fill="#111"/>
<rect x="30.7" y="-36.51" width="1" height="36.51" fill="#111"/>
<rect x="31.7" y="-22.25" width="1" height="22.25" fill="#777"/>
<rect x="32.7" y="-24.37" width="1" height="24.37" fill="#777"/>
<rect x="33.7" y="-30.04" width="1" height="30.04" fill="#777"/>
<rect x="34.7" y="-30.22" width="1" height="30.22" fill="#777"/>
<rect x="35.7" y="-30.36" width="1" height="30.36" fill="#777"/>
<rect x="36.7" y="-28.66" width="1" height="28.66" fill="#777"/>
<rect x="37.7" y="-2.59" width="1" height="2.59" fill="#777"/>
<rect x="38.7" y="-2.51" width="1" height="2.51" fill="#777"/>
<rect x="39.7" y="-19.12" width="1" height="19.12" fill="#333"/>
<rect x="40.7" y="-20.26" width="1" height="20.26" fill="#333"/>
<rect x="42.7" y="-32.28" width="1" height="32.28" fill="#333"/>
<rect x="43.7" y="-29.77" width="1" height="29.77" fill="#333"/>
<rect x="43.7" y="-22.49" width="1" height="22.49" fill="#777"/>
<rect x="44.7" y="-22.99" width="1" height="22.99" fill="#777"/>
<rect x="45.7" y="-22" width="1" height="22" fill="#777"/>
<rect x="45.7" y="-9.56" width="1" height="9.56" fill="#777"/>
<rect x="46.7" y="-10.07" width="1" height="10.07" fill="#777"/>
<rect x="47.7" y="-9.82" width="1" height="9.82" fill="#777"/>
<rect x="47.7" y="-38.06" width="1" height="38.06" fill="#111"/>
<rect x="48.7" y="-39" width="1" height="39" fill="#111"/>
<rect x="49.7" y="-11.99" width="1" height="11.99" fill="#111"/>
<rect x="50.7" y="-12.84" width="1" height="12.84" fill="#111"/>
<rect x="51.7" y="-12.44" width="1" height="12.44" fill="#111"/>
<rect x="51.7" y="-19.28" width="1" height="19.28" fill="#111"/>
<rect x="52.7" y="-17.85" width="1" height="17.85" fill="#111"/>
<rect x="53.7" y="-1.3" width="1" height="1.3" fill="#111"/>
<rect x="54.7" y="-0.8" width="1" height="0.8" fill="#111"/>
<rect x="55.7" y="-15.06" width="1" height="15.06" fill="#333"/>
<rect x="56.7" y="-16.84" width="1" height="16.84" fill="#333"/>
<rect x="57.7" y="-11.6" width="1" height="11.6" fill="#777"/>
<rect x="58.7" y="-10.85" width="1" height="10.85" fill="#777"/>
<rect x="59.7" y="-21.41" width="1" height="21.41" fill="#777"/>
<rect x="60.7" y="-21.01" width="1" height="21.01" fill="#777"/>
<rect x="61.7" y="-9.2" width="1" height="9.2" fill="#aaa"/>
<rect x="62.7" y="-9.75" width="1" height="9.75" fill="#aaa"/>
<rect x="63.7" y="-10.58" width="1" height="10.58" fill="#aaa"/>
<rect x="64.7" y="-10.46" width="1" height="10.46" fill="#aaa"/>
<rect x="65.7" y="-12.74" width="1" height="12.74" fill="#aaa"/>
<rect x="66.7" y="-12.07" width="1" height="12.07" fill="#aaa"/>
<rect x="67.7" y="-17.95" width="1" height="17.95" fill="#777"/>
<rect x="68.7" y="-18.46" width="1" height="18.46" fill="#777"/>
<rect x="69.7" y="-18.33" width="1" height="18.33" fill="#777"/>
<rect x="69.7" y="-21.56" width="1" height="21.56" fill="#111"/>
<rect x="70.7" y="-21.25" width="1" height="21.25" fill="#111"/>
<rect x="71.7" y="-14.09" width="1" height="14.09" fill="#777"/>
<rect x="72.7" y="-13.15" width="1" height="13.15" fill="#777"/>
<rect x="72.7" y="-12.82" width="1" height="12.82" fill="#777"/>
<rect x="73.7" y="-12.21" width="1" height="12.21" fill="#777"/>
<rect x="74.7" y="-13.84" width="1" height="13.84" fill="#aaa"/>
<rect x="75.7" y="-13.32" width="1" height="13.32" fill="#aaa"/>
<rect x="76.7" y="-14.12" width="1" height="14.12" fill="#777"/>
<rect x="77.7" y="-14.42" width="1" height="14.42" fill="#777"/>
<rect x="79.7" y="-19.84" width="1" height="19.84" fill="#333"/>
<rect x="80.7" y="-20.88" width="1" height="20.88" fill="#333"/>
<rect x="80.7" y="-14.42" width="1" height="14.42" fill="#777"/>
<rect x="81.7" y="-13.6" width="1" height="13.6" fill="#777"/>
<rect x="83.7" y="-12.75" width="1" height="12.75" fill="#111"/>
<rect x="84.7" y="-13.54" width="1" height="13.54" fill="#111"/>
<rect x="85.7" y="-12.89" width="1" height="12.89" fill="#333"/>
<rect x="86.7" y="-13.09" width="1" height="13.09" fill="#333"/>
<rect x="87.7" y="-11.81" width="1" height="11.81" fill="#777"/>
<rect x="88.7" y="-12.68" width="1" height="12.68" fill="#777"/>
<rect x="89.7" y="-12.76" width="1" height="12.76" fill="#333"/>
<rect x="90.7" y="-12.62" width="1" height="12.62" fill="#333"/>
<rect x="91.7" y="-9.44" width="1" height="9.44" fill="#777"/>
<rect x="92.7" y="-9.7" width="1" height="9.7" fill="#777"/>
<rect x="93.7" y="-19.09" width="1" height="19.09" fill="#333"/>
<rect x="94.7" y="-18.95" width="1" height="18.95" fill="#333"/>
<rect x="94.7" y="-20.97" width="1" height="20.97" fill="#aaa"/>
<rect x="95.7" y="-21.86" width="1" height="21.86" fill="#aaa"/>
<rect x="97.7" y="-18.61" width="1" height="18.61" fill="#333"/>
<rect x="98.7" y="-17.15" width="1" height="17.15" fill="#333"/>
<rect x="98.7" y="-13.19" width="1" height="13.19" fill="#777"/>
<rect x="99.7" y="-13.14" width="1" height="13.14" fill="#777"/>
<rect x="100.7" y="-6.47" width="1" height="6.47" fill="#777"/>
<rect x="101.7" y="-5.9" width="1" height="5.9" fill="#777"/>
<rect x="102.7" y="-14.76" width="1" height="14.76" fill="#111"/>
<rect x="103.7" y="-14.79" width="1" height="14.79" fill="#111"/>
<rect x="104.7" y="-8.16" width="1" height="8.16" fill="#111"/>
<rect x="105.7" y="-9.18" width="1" height="9.18" fill="#111"/>
<rect x="107.7" y="-16.98" width="1" height="16.98" fill="#777"/>
<rect x="108.7" y="-16.93" width="1" height="16.93" fill="#777"/>
<rect x="108.7" y="-22.92" width="1" height="22.92" fill="#aaa"/>
<rect x="109.7" y="-23.07" width="1" height="23.07" fill="#aaa"/>
<rect x="111.7" y="-7.76" width="1" height="7.76" fill="#777"/>
<rect x="112.7" y="-8.04" width="1" height="8.04" fill="#777"/>
<rect x="112.7" y="-13.52" width="1" height="13.52" fill="#aaa"/>
<rect x="113.7" y="-13.11" width="1" height="13.11" fill="#aaa"/>
<rect x="114.7" y="-11.63" width="1" height="11.63" fill="#777"/>
<rect x="115.7" y="-11.99" width="1" height="11.99" fill="#777"/>
<rect x="117.7" y="-28.03" width="1" height="28.03" fill="#111"/>
<rect x="118.7" y="-18.45" width="1" height="18.45" fill="#333"/>
<rect x="119.7" y="-16.46" width="1" height="16.46" fill="#333"/>
<rect x="120.7" y="-12.27" width="1" height="12.27" fill="#111"/>
<rect x="121.7" y="-13.22" width="1" height="13.22" fill="#111"/>
<rect x="122.7" y="-13.39" width="1" height="13.39" fill="#111"/>
<rect x="122.7" y="-20.67" width="1" height="20.67" fill="#777"/>
<rect x="123.7" y="-20.53" width="1" height="20.53" fill="#777"/>
<rect x="124.7" y="-25.78" width="1" height="25.78" fill="#111"/>
<rect x="125.7" y="-24.76" width="1" height="24.76" fill="#111"/>
<rect x="126.7" y="-3.13" width="1" height="3.13" fill="#111"/>
<rect x="127.7" y="-3.31" width="1" height="3.31" fill="#111"/>
<rect x="128.7" y="-20.12" width="1" height="20.12" fill="#111"/>
<rect x="129.7" y="-21.24" width="1" height="21.24" fill="#111"/>
<rect x="130.7" y="-15.86" width="1" height="15.86" fill="#777"/>
<rect x="131.7" y="-16.16" width="1" height="16.16" fill="#777"/>
<rect x="132.7" y="-3.71" width="1" height="3.71" fill="#777"/>
<rect x="133.7" y="-4.85" width="1" height="4.85" fill="#777"/>
<rect x="135.7" y="-14.82" width="1" height="14.82" fill="#777"/>
<rect x="136.7" y="-15.25" width="1" height="15.25" fill="#777"/>
<rect x="136.7" y="-19.96" width="1" height="19.96" fill="#111"/>
<rect x="137.7" y="-18.23" width="1" height="18.23" fill="#111"/>
<rect x="138.7" y="-1.22" width="1" height="1.22" fill="#111"/>
<rect x="139.7" y="-0.83" width="1" height="0.83" fill="#111"/>
<rect x="140.7" y="-1.16" width="1" height="1.16" fill="#111"/>
<rect x="140.7" y="-18.21" width="1" height="18.21" fill="#333"/>
<rect x="141.7" y="-16.51" width="1" height="16.51" fill="#333"/>
<rect x="142.7" y="-12.14" width="1" height="12.14" fill="#777"/>
<rect x="143.7" y="-11.78" width="1" height="11.78" fill="#777"/>
<rect x="144.7" y="-11.94" width="1" height="11.94" fill="#777"/>
<rect x="144.7" y="-22.26" width="1" height="22.26" fill="#777"/>
<rect x="145.7" y="-22.07" width="1" height="22.07" fill="#777"/>
<rect x="146.7" y="-29.2" width="1" height="29.2" fill="#111"/>
<rect x="147.7" y="-28.87" width="1" height="28.87" fill="#111"/>
<rect x="148.7" y="-16.94" width="1" height="16.94" fill="#333"/>
<rect x="149.7" y="-17.47" width="1" height="17.47" fill="#333"/>
<rect x="150.7" y="-26.65" width="1" height="26.65" fill="#777"/>
<rect x="151.7" y="-26.19" width="1" height="26.19" fill="#777"/>
<rect x="152.7" y="-24.41" width="1" height="24.41" fill="#333"/>
<rect x="153.7" y="-25.01" width="1" height="25.01" fill="#333"/>
<rect x="154.7" y="-24.74" width="1" height="24.74" fill="#333"/>
<rect x="154.7" y="-6.96" width="1" height="6.96" fill="#777"/>
<rect x="155.7" y="-7.1" width="1" height="7.1" fill="#777"/>
<rect x="156.7" y="-12.69" width="1" height="12.69" fill="#aaa"/>
<rect x="157.7" y="-12.69" width="1" height="12.69" fill="#aaa"/>
<rect x="159.7" y="-14.27" width="1" height="14.27" fill="#777"/>
<rect x="160.7" y="-15.03" width="1" height="15.03" fill="#777"/>
<rect x="161.7" y="-21.66" width="1" height="21.66" fill="#333"/>
<rect x="162.7" y="-21.65" width="1" height="21.65" fill="#333"/>
<rect x="163.7" y="-14.09" width="1" height="14.09" fill="#777"/>
<rect x="164.7" y="-13.24" width="1" height="13.24" fill="#777"/>
<rect x="167.7" y="-7.19" width="1" height="7.19" fill="#777"/>
<rect x="168.7" y="-6.7" width="1" height="6.7" fill="#777"/>
<rect x="169.7" y="-6.65" width="1" height="6.65" fill="#777"/>
<rect x="169.7" y="0" width="1" height="2.48" fill="#111"/>
<rect x="172.7" y="-11.36" width="1" height="11.36" fill="#777"/>
<rect x="173.7" y="-11.68" width="1" height="11.68" fill="#777"/>
<rect x="174.7" y="-12.17" width="1" height="12.17" fill="#777"/>
<rect x="176.7" y="-4.48" width="1" height="4.48" fill="#aaa"/>
<rect x="177.7" y="-4.02" width="1" height="4.02" fill="#aaa"/>
<rect x="178.7" y="-23.36" width="1" height="23.36" fill="#777"/>
<rect x="180.7" y="-4.56" width="1" height="4.56" fill="#aaa"/>
<rect x="181.7" y="-4.32" width="1" height="4.32" fill="#aaa"/>
<rect x="182.7" y="-4.32" width="1" height="4.32" fill="#aaa"/>
<rect x="183.7" y="-13.72" width="1" height="13.72" fill="#333"/>
<rect x="184.7" y="-14.11" width="1" height="14.11" fill="#333"/>
<rect x="185.7" y="-4.1" width="1" height="4.1" fill="#aaa"/>
<rect x="186.7" y="-4.6" width="1" height="4.6" fill="#aaa"/>
<rect x="187.7" y="-16.76" width="1" height="16.76" fill="#777"/>
<rect x="188.7" y="-16.71" width="1" height="16.71" fill="#777"/>
<rect x="189.7" y="-3.55" width="1" height="3.55" fill="#aaa"/>
<rect x="190.7" y="-3.55" width="1" height="3.55" fill="#aaa"/>
<rect x="191.7" y="-3.83" width="1" height="3.83" fill="#aaa"/>
<rect x="192.7" y="-7.62" width="1" height="7.62" fill="#777"/>
<rect x="193.7" y="-7.74" width="1" height="7.74" fill="#777"/>
<rect x="197.7" y="-19.71" width="1" height="19.71" fill="#111"/>
<rect x="198.7" y="-17.52" width="1" height="17.52" fill="#111"/>
<rect x="202.7" y="-5.58" width="1" height="5.58" fill="#777"/>
<rect x="203.7" y="-6.04" width="1" height="6.04" fill="#777"/>
<rect x="205.7" y="-4.05" width="1" height="4.05" fill="#111"/>
<rect x="206.7" y="-4.08" width="1" height="4.08" fill="#111"/>
<rect x="207.7" y="-19.71" width="1" height="19.71" fill="#777"/>
<rect x="208.7" y="-8.76" width="1" height="8.76" fill="#777"/>
<rect x="211.7" y="-27.89" width="1" height="27.89" fill="#333"/>
<rect x="213.7" y="0" width="1" height="2.19" fill="#111"/>
<rect x="215.7" y="-6.68" width="1" height="6.68" fill="#777"/>
<rect x="216.7" y="-5.92" width="1" height="5.92" fill="#777"/>
<rect x="220.7" y="-11.7" width="1" height="11.7" fill="#333"/>
<rect x="221.7" y="-11.69" width="1" height="11.69" fill="#333"/>
<rect x="224.7" y="-7.32" width="1" height="7.32" fill="#777"/>
<rect x="225.7" y="-7.63" width="1" height="7.63" fill="#777"/>
<rect x="225.7" y="-15.16" width="1" height="15.16" fill="#333"/>
<rect x="226.7" y="-15.9" width="1" height="15.9" fill="#333"/>
<rect x="227.7" y="-20.05" width="1" height="20.05" fill="#333"/>
<rect x="228.7" y="-19.47" width="1" height="19.47" fill="#333"/>
<rect x="229.7" y="-13.47" width="1" height="13.47" fill="#111"/>
<rect x="230.7" y="-13.44" width="1" height="13.44" fill="#111"/>
<rect x="233.7" y="-6.71" width="1" height="6.71" fill="#333"/>
<rect x="234.7" y="-7.72" width="1" height="7.72" fill="#333"/>
<rect x="236.7" y="0" width="1" height="2.19" fill="#111"/>
<rect x="239.7" y="-3.28" width="1" height="3.28" fill="#777"/>
<rect x="240.7" y="-2.45" width="1" height="2.45" fill="#777"/>
<rect x="243.7" y="-5.25" width="1" height="5.25" fill="#111"/>
<rect x="244.7" y="-5.49" width="1" height="5.49" fill="#111"/>
<line x1="0" y1="0" x2="246.3" y2="0" stroke="#000" stroke-width="1.4"/>
<line x1="-4.5" y1="29.2" x2="0" y2="29.2" stroke="#000" stroke-width="1.3"/>
<line x1="-4.5" y1="14.6" x2="0" y2="14.6" stroke="#000" stroke-width="1.3"/>
<line x1="-4.5" y1="0" x2="0" y2="0" stroke="#000" stroke-width="1.3"/>
<line x1="-4.5" y1="-14.6" x2="0" y2="-14.6" stroke="#000" stroke-width="1.3"/>
<line x1="-4.5" y1="-29.2" x2="0" y2="-29.2" stroke="#000" stroke-width="1.3"/>
<line x1="-4.5" y1="-43.8" x2="0" y2="-43.8" stroke="#000" stroke-width="1.3"/>
<line x1="-4.5" y1="-58.4" x2="0" y2="-58.4" stroke="#000" stroke-width="1.3"/>
<line x1="-4.5" y1="-73" x2="0" y2="-73" stroke="#000" stroke-width="1.3"/>
<line x1="-4.5" y1="-87.6" x2="0" y2="-87.6" stroke="#000" stroke-width="1.3"/>
</g>
<path d="M340.3,583.5 L586.6,582.9 L586.6,713.4 L340.3,714.3 Z" fill="none" stroke="#000" stroke-width="1.6" stroke-linejoin="miter"/>
<line x1="341.6" y1="583.5" x2="341.6" y2="586.5" stroke="#000" stroke-width="1.2"/>
<line x1="360.37" y1="583.45" x2="360.37" y2="586.45" stroke="#000" stroke-width="1.2"/>
<line x1="379.14" y1="583.41" x2="379.14" y2="586.41" stroke="#000" stroke-width="1.2"/>
<line x1="397.91" y1="583.36" x2="397.91" y2="586.36" stroke="#000" stroke-width="1.2"/>
<line x1="416.68" y1="583.31" x2="416.68" y2="586.31" stroke="#000" stroke-width="1.2"/>
<line x1="435.45" y1="583.27" x2="435.45" y2="586.27" stroke="#000" stroke-width="1.2"/>
<line x1="454.22" y1="583.22" x2="454.22" y2="586.22" stroke="#000" stroke-width="1.2"/>
<line x1="472.98" y1="583.18" x2="472.98" y2="586.18" stroke="#000" stroke-width="1.2"/>
<line x1="491.75" y1="583.13" x2="491.75" y2="586.13" stroke="#000" stroke-width="1.2"/>
<line x1="510.52" y1="583.09" x2="510.52" y2="586.09" stroke="#000" stroke-width="1.2"/>
<line x1="529.29" y1="583.04" x2="529.29" y2="586.04" stroke="#000" stroke-width="1.2"/>
<line x1="548.06" y1="582.99" x2="548.06" y2="585.99" stroke="#000" stroke-width="1.2"/>
<line x1="566.83" y1="582.95" x2="566.83" y2="585.95" stroke="#000" stroke-width="1.2"/>
<line x1="585.6" y1="582.9" x2="585.6" y2="585.9" stroke="#000" stroke-width="1.2"/>
<text transform="translate(334.5,690.1) scale(1.01,1)" font-size="13.8" text-anchor="end" font-family="Liberation Sans, sans-serif" stroke="#000" stroke-width="0.15">0.0</text>
<text transform="translate(334.5,660.9) scale(1.01,1)" font-size="13.8" text-anchor="end" font-family="Liberation Sans, sans-serif" stroke="#000" stroke-width="0.15">0.2</text>
<text transform="translate(334.5,631.7) scale(1.01,1)" font-size="13.8" text-anchor="end" font-family="Liberation Sans, sans-serif" stroke="#000" stroke-width="0.15">0.4</text>
<text transform="translate(334.5,602.5) scale(1.01,1)" font-size="13.8" text-anchor="end" font-family="Liberation Sans, sans-serif" stroke="#000" stroke-width="0.15">0.6</text>
<text x="574.8" y="600.4" font-size="11" font-style="italic" text-anchor="end" font-family="Liberation Sans, sans-serif" stroke="#000" stroke-width="0.1">1980</text>
<text transform="translate(69.3,23.6) rotate(-90) scale(1.02,0.9)" font-size="8.6" font-family="Liberation Sans, sans-serif" stroke="#000" stroke-width="0.35">S16</text>
<text transform="translate(88.3,23.6) rotate(-90) scale(1.02,0.9)" font-size="8.6" font-family="Liberation Sans, sans-serif" stroke="#000" stroke-width="0.35">S27</text>
<text transform="translate(106.6,23.6) rotate(-90) scale(1.02,0.9)" font-size="8.6" font-family="Liberation Sans, sans-serif" stroke="#000" stroke-width="0.35">H46</text>
<text transform="translate(125.2,23.6) rotate(-90) scale(1.02,0.9)" font-size="8.6" font-family="Liberation Sans, sans-serif" stroke="#000" stroke-width="0.35">H93</text>
<text transform="translate(144,23.6) rotate(-90) scale(1.02,0.9)" font-size="8.6" font-family="Liberation Sans, sans-serif" stroke="#000" stroke-width="0.35">H131</text>
<text transform="translate(163.3,23.6) rotate(-90) scale(1.02,0.9)" font-size="8.6" font-family="Liberation Sans, sans-serif" stroke="#000" stroke-width="0.35">H170</text>
<text transform="translate(182.2,23.6) rotate(-90) scale(1.02,0.9)" font-size="8.6" font-family="Liberation Sans, sans-serif" stroke="#000" stroke-width="0.35">H208</text>
<text transform="translate(201.6,23.6) rotate(-90) scale(1.02,0.9)" font-size="8.6" font-family="Liberation Sans, sans-serif" stroke="#000" stroke-width="0.35">H246</text>
<text transform="translate(220.3,23.6) rotate(-90) scale(1.02,0.9)" font-size="8.6" font-family="Liberation Sans, sans-serif" stroke="#000" stroke-width="0.35">H277</text>
<text transform="translate(238.8,24.0) rotate(-90) scale(1.02,0.9)" font-size="8.6" font-family="Liberation Sans, sans-serif" stroke="#000" stroke-width="0.35">Z5</text>
<text transform="translate(257.5,23.6) rotate(-90) scale(1.02,0.9)" font-size="8.6" font-family="Liberation Sans, sans-serif" stroke="#000" stroke-width="0.35">Z26</text>
<text transform="translate(276.3,23.6) rotate(-90) scale(1.02,0.9)" font-size="8.6" font-family="Liberation Sans, sans-serif" stroke="#000" stroke-width="0.35">Z50</text>
<text transform="translate(294.7,23.6) rotate(-90) scale(1.02,0.9)" font-size="8.6" font-family="Liberation Sans, sans-serif" stroke="#000" stroke-width="0.35">Z81</text>
<text transform="translate(312.7,22.0) rotate(-90) scale(0.95,0.9)" font-size="5.2" font-family="Liberation Sans, sans-serif" stroke="#000" stroke-width="0.3">MIZUHO</text>
<text transform="translate(351.7,23.6) rotate(-90) scale(1.02,0.9)" font-size="8.6" font-family="Liberation Sans, sans-serif" stroke="#000" stroke-width="0.35">S16</text>
<text transform="translate(370.3,23.6) rotate(-90) scale(1.02,0.9)" font-size="8.6" font-family="Liberation Sans, sans-serif" stroke="#000" stroke-width="0.35">S27</text>
<text transform="translate(389,23.6) rotate(-90) scale(1.02,0.9)" font-size="8.6" font-family="Liberation Sans, sans-serif" stroke="#000" stroke-width="0.35">H46</text>
<text transform="translate(407.5,23.6) rotate(-90) scale(1.02,0.9)" font-size="8.6" font-family="Liberation Sans, sans-serif" stroke="#000" stroke-width="0.35">H93</text>
<text transform="translate(426,23.6) rotate(-90) scale(1.02,0.9)" font-size="8.6" font-family="Liberation Sans, sans-serif" stroke="#000" stroke-width="0.35">H131</text>
<text transform="translate(445.2,23.6) rotate(-90) scale(1.02,0.9)" font-size="8.6" font-family="Liberation Sans, sans-serif" stroke="#000" stroke-width="0.35">H170</text>
<text transform="translate(465.3,23.6) rotate(-90) scale(1.02,0.9)" font-size="8.6" font-family="Liberation Sans, sans-serif" stroke="#000" stroke-width="0.35">H208</text>
<text transform="translate(484.3,23.6) rotate(-90) scale(1.02,0.9)" font-size="8.6" font-family="Liberation Sans, sans-serif" stroke="#000" stroke-width="0.35">H246</text>
<text transform="translate(502.8,23.6) rotate(-90) scale(1.02,0.9)" font-size="8.6" font-family="Liberation Sans, sans-serif" stroke="#000" stroke-width="0.35">H277</text>
<text transform="translate(520,24.0) rotate(-90) scale(1.02,0.9)" font-size="8.6" font-family="Liberation Sans, sans-serif" stroke="#000" stroke-width="0.35">Z5</text>
<text transform="translate(539.5,23.6) rotate(-90) scale(1.02,0.9)" font-size="8.6" font-family="Liberation Sans, sans-serif" stroke="#000" stroke-width="0.35">Z26</text>
<text transform="translate(557.8,23.6) rotate(-90) scale(1.02,0.9)" font-size="8.6" font-family="Liberation Sans, sans-serif" stroke="#000" stroke-width="0.35">Z50</text>
<text transform="translate(576.2,23.6) rotate(-90) scale(1.02,0.9)" font-size="8.6" font-family="Liberation Sans, sans-serif" stroke="#000" stroke-width="0.35">Z81</text>
<text transform="translate(593.8,22.0) rotate(-90) scale(0.95,0.9)" font-size="5.2" font-family="Liberation Sans, sans-serif" stroke="#000" stroke-width="0.3">MIZUHO</text>
<line x1="65" y1="718.26" x2="65" y2="721.46" stroke="#000" stroke-width="1.2"/>
<line x1="83.85" y1="718.07" x2="83.85" y2="721.27" stroke="#000" stroke-width="1.2"/>
<line x1="102.7" y1="717.87" x2="102.7" y2="721.07" stroke="#000" stroke-width="1.2"/>
<line x1="121.55" y1="717.67" x2="121.55" y2="720.87" stroke="#000" stroke-width="1.2"/>
<line x1="140.4" y1="717.48" x2="140.4" y2="720.68" stroke="#000" stroke-width="1.2"/>
<line x1="159.25" y1="717.28" x2="159.25" y2="720.48" stroke="#000" stroke-width="1.2"/>
<line x1="178.1" y1="717.08" x2="178.1" y2="720.28" stroke="#000" stroke-width="1.2"/>
<line x1="196.95" y1="716.89" x2="196.95" y2="720.09" stroke="#000" stroke-width="1.2"/>
<line x1="215.8" y1="716.69" x2="215.8" y2="719.89" stroke="#000" stroke-width="1.2"/>
<line x1="234.65" y1="716.49" x2="234.65" y2="719.69" stroke="#000" stroke-width="1.2"/>
<line x1="253.5" y1="716.3" x2="253.5" y2="719.5" stroke="#000" stroke-width="1.2"/>
<line x1="272.35" y1="716.1" x2="272.35" y2="719.3" stroke="#000" stroke-width="1.2"/>
<line x1="291.2" y1="715.9" x2="291.2" y2="719.1" stroke="#000" stroke-width="1.2"/>
<line x1="310.05" y1="715.7" x2="310.05" y2="718.9" stroke="#000" stroke-width="1.2"/>
<text x="65.5" y="735.5" font-size="13" text-anchor="middle" font-family="Liberation Sans, sans-serif">0</text>
<text x="160" y="735.5" font-size="13" text-anchor="middle" font-family="Liberation Sans, sans-serif">100</text>
<text x="253.7" y="735.5" font-size="13" text-anchor="middle" font-family="Liberation Sans, sans-serif">200</text>
<line x1="65.5" y1="738" x2="65.5" y2="741.5" stroke="#000" stroke-width="1.1"/>
<text x="64" y="756.5" font-size="14" text-anchor="middle" font-family="Liberation Sans, sans-serif">S16</text>
<line x1="310" y1="722.5" x2="310" y2="740.5" stroke="#000" stroke-width="1.1"/>
<path d="M308.4,725.7 L310,722.5 L310.8,725" fill="none" stroke="#000" stroke-width="0.9"/>
<text x="313.4" y="754" font-size="13.7" text-anchor="end" font-family="Liberation Sans, sans-serif">MIZUHO</text>
<text x="116.8" y="758.6" font-size="16.3" font-family="Liberation Sans, sans-serif">DISTANCE (km)</text>
<line x1="342.2" y1="714.29" x2="342.2" y2="717.49" stroke="#000" stroke-width="1.2"/>
<line x1="360.88" y1="714.22" x2="360.88" y2="717.42" stroke="#000" stroke-width="1.2"/>
<line x1="379.56" y1="714.16" x2="379.56" y2="717.36" stroke="#000" stroke-width="1.2"/>
<line x1="398.24" y1="714.09" x2="398.24" y2="717.29" stroke="#000" stroke-width="1.2"/>
<line x1="416.92" y1="714.02" x2="416.92" y2="717.22" stroke="#000" stroke-width="1.2"/>
<line x1="435.6" y1="713.95" x2="435.6" y2="717.15" stroke="#000" stroke-width="1.2"/>
<line x1="454.28" y1="713.88" x2="454.28" y2="717.08" stroke="#000" stroke-width="1.2"/>
<line x1="472.96" y1="713.82" x2="472.96" y2="717.02" stroke="#000" stroke-width="1.2"/>
<line x1="491.64" y1="713.75" x2="491.64" y2="716.95" stroke="#000" stroke-width="1.2"/>
<line x1="510.32" y1="713.68" x2="510.32" y2="716.88" stroke="#000" stroke-width="1.2"/>
<line x1="529" y1="713.61" x2="529" y2="716.81" stroke="#000" stroke-width="1.2"/>
<line x1="547.68" y1="713.54" x2="547.68" y2="716.74" stroke="#000" stroke-width="1.2"/>
<line x1="566.36" y1="713.47" x2="566.36" y2="716.67" stroke="#000" stroke-width="1.2"/>
<line x1="585.04" y1="713.41" x2="585.04" y2="716.61" stroke="#000" stroke-width="1.2"/>
<text x="342.3" y="731.6" font-size="13" text-anchor="middle" font-family="Liberation Sans, sans-serif">0</text>
<text x="440.5" y="731.6" font-size="13" text-anchor="middle" font-family="Liberation Sans, sans-serif">100</text>
<text x="529.8" y="731.6" font-size="13" text-anchor="middle" font-family="Liberation Sans, sans-serif">200</text>
<line x1="342.3" y1="734.1" x2="342.3" y2="737.6" stroke="#000" stroke-width="1.1"/>
<text x="341.2" y="753.7" font-size="14" text-anchor="middle" font-family="Liberation Sans, sans-serif">S16</text>
<line x1="585" y1="721.5" x2="585" y2="738" stroke="#000" stroke-width="1.1"/>
<path d="M583.4,724.7 L585,721.5 L585.8,724" fill="none" stroke="#000" stroke-width="0.9"/>
<text x="590.6" y="752.4" font-size="13.7" text-anchor="end" font-family="Liberation Sans, sans-serif">MIZUHO</text>
<text x="393.5" y="755.6" font-size="16.3" font-family="Liberation Sans, sans-serif">DISTANCE (km)</text>
<path d="M593.3,514.6 Q596,512.6 600,513.2" stroke="#000" stroke-width="1.1" fill="none"/>
<path d="M594.6,516 L595.3,514" stroke="#000" stroke-width="0.9" fill="none"/>
<rect x="177" y="314" width="2" height="1.2" fill="#222"/>
<text transform="translate(20.4,582.3) rotate(-90) scale(0.978,1.08)" font-size="21" font-family="Liberation Sans, sans-serif" stroke="#000" stroke-width="0.35">SURFACE</text>
<text transform="translate(20.4,474.7) rotate(-90) scale(0.923,1.08)" font-size="21" font-family="Liberation Sans, sans-serif" stroke="#000" stroke-width="0.35">MASS</text>
<text transform="translate(20.4,408.0) rotate(-90) scale(1.017,1.08)" font-size="21" font-family="Liberation Sans, sans-serif" stroke="#000" stroke-width="0.35">BALANCE</text>
<text transform="translate(17.4,295.8) rotate(-90) scale(0.9,1.05)" font-size="21" font-family="Liberation Sans, sans-serif" stroke="#000" stroke-width="0.35">(</text>
<text transform="translate(19.3,286.1) rotate(-90) scale(0.886,1.1)" font-size="20" font-family="Liberation Sans, sans-serif" stroke="#000" stroke-width="0.35">m</text>
<text transform="translate(19.2,260.2) rotate(-90) scale(0.886,1.1)" font-size="20" font-family="Liberation Sans, sans-serif" stroke="#000" stroke-width="0.35">w</text>
<text transform="translate(19.2,244.0) rotate(-90) scale(1.0,1.1)" font-size="20" font-family="Liberation Sans, sans-serif" stroke="#000" stroke-width="0.35">.</text>
<text transform="translate(19.0,233.5) rotate(-90) scale(1.2,1.1)" font-size="20" font-family="Liberation Sans, sans-serif" stroke="#000" stroke-width="0.35">e</text>
<text transform="translate(19.0,217.5) rotate(-90) scale(1.0,1.1)" font-size="20" font-family="Liberation Sans, sans-serif" stroke="#000" stroke-width="0.35">q</text>
<text transform="translate(19.0,202.0) rotate(-90) scale(1.0,1.1)" font-size="20" font-family="Liberation Sans, sans-serif" stroke="#000" stroke-width="0.35">.</text>
<text transform="translate(19.0,177.4) rotate(-90) scale(1.12,1.1)" font-size="20" font-family="Liberation Sans, sans-serif" stroke="#000" stroke-width="0.35">a</text>
<text transform="translate(17.2,159.8) rotate(-90) scale(0.9,1.05)" font-size="21" font-family="Liberation Sans, sans-serif" stroke="#000" stroke-width="0.35">)</text>
<text transform="translate(7.0,166.2) rotate(-90)" font-size="7" font-family="Liberation Sans, sans-serif">-1</text>
</svg>
</body></html>
